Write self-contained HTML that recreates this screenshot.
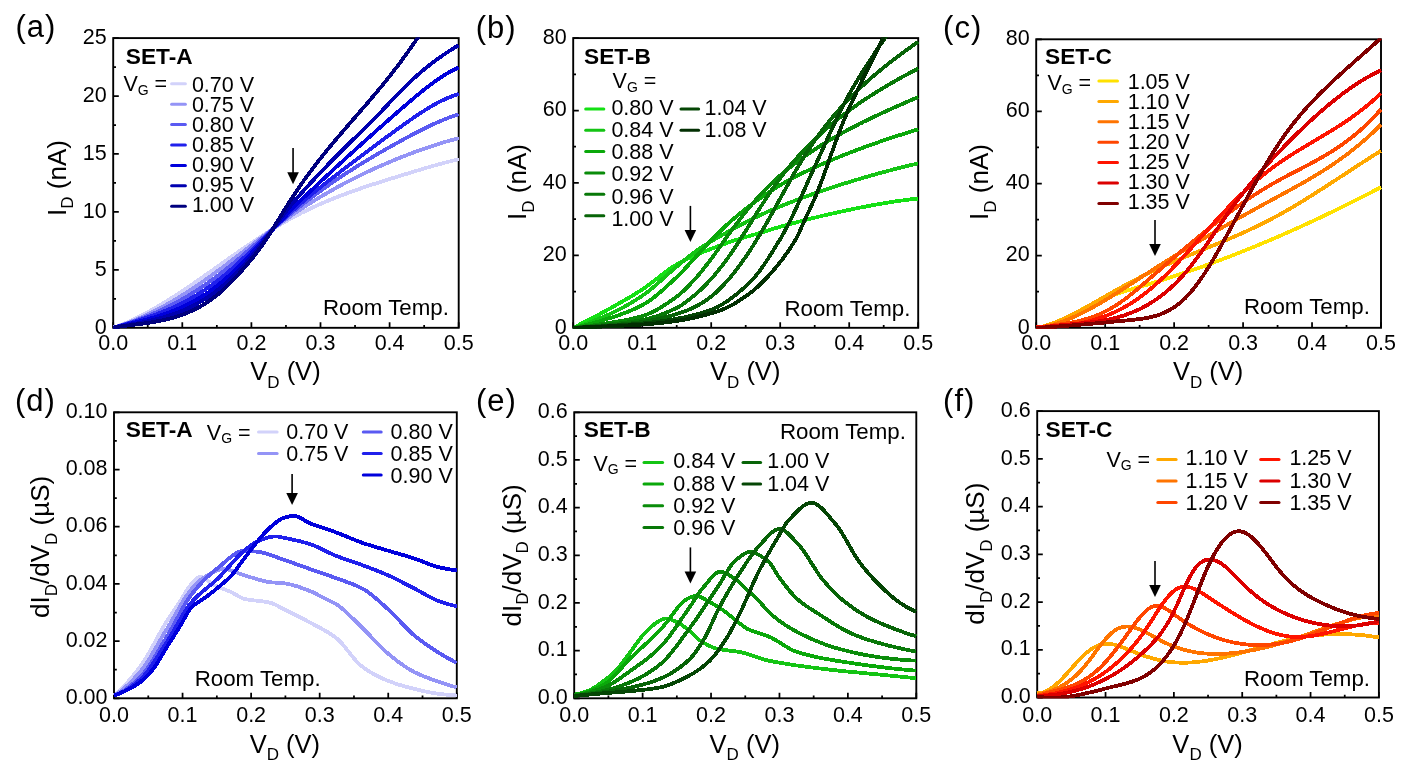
<!DOCTYPE html>
<html><head><meta charset="utf-8"><style>
html,body{margin:0;padding:0;background:#fff;width:1405px;height:768px;overflow:hidden}
svg{display:block;will-change:transform}
</style></head><body>
<svg width="1405" height="768" viewBox="0 0 1405 768" font-family='"Liberation Sans", sans-serif'>
<rect width="1405" height="768" fill="#fff"/>
<defs><clipPath id="clipa"><rect x="112.25" y="37.15" width="347.4" height="291.59999999999997"/></clipPath></defs>
<defs><clipPath id="clipb"><rect x="572.25" y="37.15" width="346.9" height="291.59999999999997"/></clipPath></defs>
<defs><clipPath id="clipc"><rect x="1035.25" y="38.349999999999994" width="346.69999999999993" height="290.4"/></clipPath></defs>
<defs><clipPath id="clipd"><rect x="113.05" y="411.35" width="344.7" height="287.8999999999999"/></clipPath></defs>
<defs><clipPath id="clipe"><rect x="573.25" y="411.35" width="343.9999999999999" height="287.8999999999999"/></clipPath></defs>
<defs><clipPath id="clipf"><rect x="1036.25" y="410.15000000000003" width="343.6" height="288.29999999999995"/></clipPath></defs>
<path d="M113.20,327.80 V322.20 M147.75,327.80 V325.00 M182.30,327.80 V322.20 M216.85,327.80 V325.00 M251.40,327.80 V322.20 M285.95,327.80 V325.00 M320.50,327.80 V322.20 M355.05,327.80 V325.00 M389.60,327.80 V322.20 M424.15,327.80 V325.00 M458.70,327.80 V322.20 M113.20,327.80 H118.80 M113.20,298.83 H116.00 M113.20,269.86 H118.80 M113.20,240.89 H116.00 M113.20,211.92 H118.80 M113.20,182.95 H116.00 M113.20,153.98 H118.80 M113.20,125.01 H116.00 M113.20,96.04 H118.80 M113.20,67.07 H116.00 M113.20,38.10 H118.80" stroke="#000" stroke-width="1.75" fill="none"/>
<rect x="113.20" y="38.10" width="345.50" height="289.70" fill="none" stroke="#000" stroke-width="1.9"/>
<path d="M573.20,327.80 V322.20 M607.70,327.80 V325.00 M642.20,327.80 V322.20 M676.70,327.80 V325.00 M711.20,327.80 V322.20 M745.70,327.80 V325.00 M780.20,327.80 V322.20 M814.70,327.80 V325.00 M849.20,327.80 V322.20 M883.70,327.80 V325.00 M918.20,327.80 V322.20 M573.20,327.80 H578.80 M573.20,291.59 H576.00 M573.20,255.38 H578.80 M573.20,219.16 H576.00 M573.20,182.95 H578.80 M573.20,146.74 H576.00 M573.20,110.53 H578.80 M573.20,74.31 H576.00 M573.20,38.10 H578.80" stroke="#000" stroke-width="1.75" fill="none"/>
<rect x="573.20" y="38.10" width="345.00" height="289.70" fill="none" stroke="#000" stroke-width="1.9"/>
<path d="M1036.20,327.80 V322.20 M1070.68,327.80 V325.00 M1105.16,327.80 V322.20 M1139.64,327.80 V325.00 M1174.12,327.80 V322.20 M1208.60,327.80 V325.00 M1243.08,327.80 V322.20 M1277.56,327.80 V325.00 M1312.04,327.80 V322.20 M1346.52,327.80 V325.00 M1381.00,327.80 V322.20 M1036.20,327.80 H1041.80 M1036.20,291.74 H1039.00 M1036.20,255.68 H1041.80 M1036.20,219.61 H1039.00 M1036.20,183.55 H1041.80 M1036.20,147.49 H1039.00 M1036.20,111.43 H1041.80 M1036.20,75.36 H1039.00 M1036.20,39.30 H1041.80" stroke="#000" stroke-width="1.75" fill="none"/>
<rect x="1036.20" y="39.30" width="344.80" height="288.50" fill="none" stroke="#000" stroke-width="1.9"/>
<path d="M114.00,698.30 V692.70 M148.28,698.30 V695.50 M182.56,698.30 V692.70 M216.84,698.30 V695.50 M251.12,698.30 V692.70 M285.40,698.30 V695.50 M319.68,698.30 V692.70 M353.96,698.30 V695.50 M388.24,698.30 V692.70 M422.52,698.30 V695.50 M456.80,698.30 V692.70 M114.00,698.30 H119.60 M114.00,669.70 H116.80 M114.00,641.10 H119.60 M114.00,612.50 H116.80 M114.00,583.90 H119.60 M114.00,555.30 H116.80 M114.00,526.70 H119.60 M114.00,498.10 H116.80 M114.00,469.50 H119.60 M114.00,440.90 H116.80 M114.00,412.30 H119.60" stroke="#000" stroke-width="1.75" fill="none"/>
<rect x="114.00" y="412.30" width="342.80" height="286.00" fill="none" stroke="#000" stroke-width="1.9"/>
<path d="M574.20,698.30 V692.70 M608.41,698.30 V695.50 M642.62,698.30 V692.70 M676.83,698.30 V695.50 M711.04,698.30 V692.70 M745.25,698.30 V695.50 M779.46,698.30 V692.70 M813.67,698.30 V695.50 M847.88,698.30 V692.70 M882.09,698.30 V695.50 M916.30,698.30 V692.70 M574.20,698.30 H579.80 M574.20,674.47 H577.00 M574.20,650.63 H579.80 M574.20,626.80 H577.00 M574.20,602.97 H579.80 M574.20,579.13 H577.00 M574.20,555.30 H579.80 M574.20,531.47 H577.00 M574.20,507.63 H579.80 M574.20,483.80 H577.00 M574.20,459.97 H579.80 M574.20,436.13 H577.00 M574.20,412.30 H579.80" stroke="#000" stroke-width="1.75" fill="none"/>
<rect x="574.20" y="412.30" width="342.10" height="286.00" fill="none" stroke="#000" stroke-width="1.9"/>
<path d="M1037.20,697.50 V691.90 M1071.37,697.50 V694.70 M1105.54,697.50 V691.90 M1139.71,697.50 V694.70 M1173.88,697.50 V691.90 M1208.05,697.50 V694.70 M1242.22,697.50 V691.90 M1276.39,697.50 V694.70 M1310.56,697.50 V691.90 M1344.73,697.50 V694.70 M1378.90,697.50 V691.90 M1037.20,697.50 H1042.80 M1037.20,673.63 H1040.00 M1037.20,649.77 H1042.80 M1037.20,625.90 H1040.00 M1037.20,602.03 H1042.80 M1037.20,578.17 H1040.00 M1037.20,554.30 H1042.80 M1037.20,530.43 H1040.00 M1037.20,506.57 H1042.80 M1037.20,482.70 H1040.00 M1037.20,458.83 H1042.80 M1037.20,434.97 H1040.00 M1037.20,411.10 H1042.80" stroke="#000" stroke-width="1.75" fill="none"/>
<rect x="1037.20" y="411.10" width="341.70" height="286.40" fill="none" stroke="#000" stroke-width="1.9"/>
<g clip-path="url(#clipa)" fill="none" stroke-width="3.8" stroke-linejoin="round" stroke-linecap="butt" shape-rendering="crispEdges">
<path d="M113.20,327.78 L114.36,327.38 L115.51,326.96 L116.67,326.54 L117.82,326.11 L118.98,325.67 L120.13,325.22 L121.29,324.76 L122.44,324.29 L123.60,323.82 L124.76,323.34 L125.91,322.85 L127.07,322.35 L128.22,321.84 L129.38,321.33 L130.53,320.80 L131.69,320.27 L132.84,319.74 L134.00,319.19 L135.15,318.64 L136.31,318.08 L137.47,317.51 L138.62,316.94 L139.78,316.36 L140.93,315.77 L142.09,315.18 L143.24,314.58 L144.40,313.97 L145.55,313.35 L146.71,312.73 L147.87,312.11 L149.02,311.48 L150.18,310.84 L151.33,310.19 L152.49,309.54 L153.64,308.89 L154.80,308.22 L155.95,307.56 L157.11,306.88 L158.27,306.21 L159.42,305.52 L160.58,304.83 L161.73,304.14 L162.89,303.44 L164.04,302.74 L165.20,302.03 L166.35,301.32 L167.51,300.60 L168.66,299.88 L169.82,299.15 L170.98,298.42 L172.13,297.69 L173.29,296.95 L174.44,296.21 L175.60,295.46 L176.75,294.71 L177.91,293.95 L179.06,293.20 L180.22,292.44 L181.38,291.67 L182.53,290.90 L183.69,290.13 L184.84,289.36 L186.00,288.58 L187.15,287.80 L188.31,287.02 L189.46,286.23 L190.62,285.45 L191.78,284.66 L192.93,283.86 L194.09,283.07 L195.24,282.27 L196.40,281.47 L197.55,280.67 L198.71,279.87 L199.86,279.06 L201.02,278.26 L202.17,277.45 L203.33,276.64 L204.49,275.83 L205.64,275.02 L206.80,274.20 L207.95,273.39 L209.11,272.57 L210.26,271.76 L211.42,270.94 L212.57,270.12 L213.73,269.30 L214.89,268.48 L216.04,267.66 L217.20,266.84 L218.35,266.02 L219.51,265.20 L220.66,264.38 L221.82,263.57 L222.97,262.75 L224.13,261.93 L225.29,261.11 L226.44,260.29 L227.60,259.47 L228.75,258.65 L229.91,257.84 L231.06,257.02 L232.22,256.21 L233.37,255.39 L234.53,254.58 L235.68,253.77 L236.84,252.96 L238.00,252.15 L239.15,251.35 L240.31,250.54 L241.46,249.74 L242.62,248.94 L243.77,248.14 L244.93,247.34 L246.08,246.55 L247.24,245.76 L248.40,244.97 L249.55,244.18 L250.71,243.39 L251.86,242.61 L253.02,241.83 L254.17,241.05 L255.33,240.28 L256.48,239.51 L257.64,238.74 L258.80,237.98 L259.95,237.22 L261.11,236.46 L262.26,235.71 L263.42,234.96 L264.57,234.21 L265.73,233.47 L266.88,232.73 L268.04,231.99 L269.19,231.26 L270.35,230.54 L271.51,229.82 L272.66,229.10 L273.82,228.39 L274.97,227.68 L276.13,226.98 L277.28,226.28 L278.44,225.58 L279.59,224.90 L280.75,224.21 L281.91,223.54 L283.06,222.86 L284.22,222.20 L285.37,221.53 L286.53,220.88 L287.68,220.23 L288.84,219.58 L289.99,218.95 L291.15,218.31 L292.31,217.69 L293.46,217.06 L294.62,216.45 L295.77,215.84 L296.93,215.23 L298.08,214.63 L299.24,214.04 L300.39,213.45 L301.55,212.86 L302.71,212.28 L303.86,211.71 L305.02,211.14 L306.17,210.57 L307.33,210.01 L308.48,209.46 L309.64,208.91 L310.79,208.36 L311.95,207.82 L313.10,207.28 L314.26,206.75 L315.42,206.22 L316.57,205.70 L317.73,205.18 L318.88,204.67 L320.04,204.16 L321.19,203.65 L322.35,203.15 L323.50,202.65 L324.66,202.16 L325.82,201.67 L326.97,201.18 L328.13,200.70 L329.28,200.22 L330.44,199.74 L331.59,199.27 L332.75,198.81 L333.90,198.34 L335.06,197.88 L336.22,197.42 L337.37,196.97 L338.53,196.52 L339.68,196.07 L340.84,195.63 L341.99,195.19 L343.15,194.75 L344.30,194.32 L345.46,193.88 L346.61,193.45 L347.77,193.03 L348.93,192.61 L350.08,192.19 L351.24,191.77 L352.39,191.35 L353.55,190.94 L354.70,190.53 L355.86,190.12 L357.01,189.72 L358.17,189.31 L359.33,188.91 L360.48,188.52 L361.64,188.12 L362.79,187.73 L363.95,187.33 L365.10,186.95 L366.26,186.56 L367.41,186.17 L368.57,185.79 L369.73,185.41 L370.88,185.02 L372.04,184.65 L373.19,184.27 L374.35,183.89 L375.50,183.52 L376.66,183.15 L377.81,182.78 L378.97,182.41 L380.12,182.04 L381.28,181.67 L382.44,181.30 L383.59,180.94 L384.75,180.57 L385.90,180.21 L387.06,179.85 L388.21,179.49 L389.37,179.13 L390.52,178.77 L391.68,178.41 L392.84,178.05 L393.99,177.69 L395.15,177.33 L396.30,176.98 L397.46,176.62 L398.61,176.27 L399.77,175.91 L400.92,175.56 L402.08,175.20 L403.24,174.85 L404.39,174.49 L405.55,174.14 L406.70,173.78 L407.86,173.43 L409.01,173.07 L410.17,172.72 L411.32,172.37 L412.48,172.02 L413.63,171.66 L414.79,171.31 L415.95,170.96 L417.10,170.62 L418.26,170.27 L419.41,169.92 L420.57,169.57 L421.72,169.23 L422.88,168.89 L424.03,168.54 L425.19,168.20 L426.35,167.86 L427.50,167.53 L428.66,167.19 L429.81,166.86 L430.97,166.52 L432.12,166.19 L433.28,165.86 L434.43,165.54 L435.59,165.21 L436.75,164.89 L437.90,164.57 L439.06,164.25 L440.21,163.93 L441.37,163.62 L442.52,163.31 L443.68,163.00 L444.83,162.69 L445.99,162.39 L447.14,162.08 L448.30,161.79 L449.46,161.49 L450.61,161.20 L451.77,160.91 L452.92,160.62 L454.08,160.34 L455.23,160.06 L456.39,159.78 L457.54,159.50 L458.70,159.23" stroke="#d2d2fa"/>
<path d="M113.20,327.51 L114.36,327.19 L115.51,326.85 L116.67,326.51 L117.82,326.16 L118.98,325.80 L120.13,325.44 L121.29,325.06 L122.44,324.68 L123.60,324.29 L124.76,323.89 L125.91,323.48 L127.07,323.07 L128.22,322.64 L129.38,322.21 L130.53,321.78 L131.69,321.33 L132.84,320.88 L134.00,320.42 L135.15,319.95 L136.31,319.47 L137.47,318.99 L138.62,318.50 L139.78,318.00 L140.93,317.50 L142.09,316.99 L143.24,316.47 L144.40,315.95 L145.55,315.41 L146.71,314.87 L147.87,314.33 L149.02,313.78 L150.18,313.22 L151.33,312.65 L152.49,312.08 L153.64,311.50 L154.80,310.91 L155.95,310.32 L157.11,309.72 L158.27,309.12 L159.42,308.51 L160.58,307.89 L161.73,307.27 L162.89,306.64 L164.04,306.00 L165.20,305.36 L166.35,304.72 L167.51,304.06 L168.66,303.41 L169.82,302.74 L170.98,302.07 L172.13,301.40 L173.29,300.72 L174.44,300.03 L175.60,299.34 L176.75,298.64 L177.91,297.94 L179.06,297.23 L180.22,296.52 L181.38,295.80 L182.53,295.08 L183.69,294.35 L184.84,293.62 L186.00,292.88 L187.15,292.14 L188.31,291.39 L189.46,290.64 L190.62,289.88 L191.78,289.12 L192.93,288.36 L194.09,287.59 L195.24,286.81 L196.40,286.03 L197.55,285.25 L198.71,284.46 L199.86,283.67 L201.02,282.88 L202.17,282.08 L203.33,281.27 L204.49,280.46 L205.64,279.65 L206.80,278.84 L207.95,278.02 L209.11,277.19 L210.26,276.37 L211.42,275.54 L212.57,274.70 L213.73,273.87 L214.89,273.03 L216.04,272.18 L217.20,271.33 L218.35,270.48 L219.51,269.63 L220.66,268.77 L221.82,267.91 L222.97,267.05 L224.13,266.18 L225.29,265.31 L226.44,264.44 L227.60,263.57 L228.75,262.69 L229.91,261.82 L231.06,260.94 L232.22,260.06 L233.37,259.17 L234.53,258.29 L235.68,257.40 L236.84,256.51 L238.00,255.62 L239.15,254.74 L240.31,253.84 L241.46,252.95 L242.62,252.06 L243.77,251.17 L244.93,250.27 L246.08,249.38 L247.24,248.49 L248.40,247.59 L249.55,246.70 L250.71,245.81 L251.86,244.91 L253.02,244.02 L254.17,243.13 L255.33,242.24 L256.48,241.35 L257.64,240.46 L258.80,239.57 L259.95,238.69 L261.11,237.80 L262.26,236.92 L263.42,236.04 L264.57,235.16 L265.73,234.28 L266.88,233.41 L268.04,232.53 L269.19,231.66 L270.35,230.79 L271.51,229.93 L272.66,229.07 L273.82,228.21 L274.97,227.35 L276.13,226.50 L277.28,225.65 L278.44,224.80 L279.59,223.96 L280.75,223.12 L281.91,222.28 L283.06,221.45 L284.22,220.62 L285.37,219.80 L286.53,218.98 L287.68,218.16 L288.84,217.35 L289.99,216.55 L291.15,215.75 L292.31,214.95 L293.46,214.16 L294.62,213.37 L295.77,212.59 L296.93,211.81 L298.08,211.04 L299.24,210.27 L300.39,209.50 L301.55,208.74 L302.71,207.98 L303.86,207.23 L305.02,206.48 L306.17,205.74 L307.33,205.00 L308.48,204.26 L309.64,203.53 L310.79,202.80 L311.95,202.08 L313.10,201.36 L314.26,200.65 L315.42,199.94 L316.57,199.23 L317.73,198.53 L318.88,197.83 L320.04,197.13 L321.19,196.44 L322.35,195.76 L323.50,195.07 L324.66,194.39 L325.82,193.72 L326.97,193.05 L328.13,192.38 L329.28,191.72 L330.44,191.06 L331.59,190.40 L332.75,189.75 L333.90,189.10 L335.06,188.46 L336.22,187.82 L337.37,187.18 L338.53,186.55 L339.68,185.92 L340.84,185.30 L341.99,184.67 L343.15,184.06 L344.30,183.44 L345.46,182.83 L346.61,182.22 L347.77,181.62 L348.93,181.02 L350.08,180.42 L351.24,179.83 L352.39,179.24 L353.55,178.65 L354.70,178.07 L355.86,177.49 L357.01,176.92 L358.17,176.34 L359.33,175.77 L360.48,175.21 L361.64,174.64 L362.79,174.09 L363.95,173.53 L365.10,172.98 L366.26,172.43 L367.41,171.88 L368.57,171.34 L369.73,170.80 L370.88,170.26 L372.04,169.73 L373.19,169.20 L374.35,168.67 L375.50,168.14 L376.66,167.62 L377.81,167.11 L378.97,166.59 L380.12,166.08 L381.28,165.57 L382.44,165.06 L383.59,164.56 L384.75,164.06 L385.90,163.56 L387.06,163.07 L388.21,162.58 L389.37,162.09 L390.52,161.60 L391.68,161.12 L392.84,160.64 L393.99,160.16 L395.15,159.69 L396.30,159.22 L397.46,158.75 L398.61,158.28 L399.77,157.82 L400.92,157.35 L402.08,156.90 L403.24,156.44 L404.39,155.99 L405.55,155.54 L406.70,155.09 L407.86,154.64 L409.01,154.20 L410.17,153.76 L411.32,153.32 L412.48,152.89 L413.63,152.46 L414.79,152.03 L415.95,151.61 L417.10,151.18 L418.26,150.76 L419.41,150.35 L420.57,149.93 L421.72,149.52 L422.88,149.12 L424.03,148.71 L425.19,148.31 L426.35,147.91 L427.50,147.52 L428.66,147.13 L429.81,146.74 L430.97,146.36 L432.12,145.97 L433.28,145.60 L434.43,145.22 L435.59,144.85 L436.75,144.48 L437.90,144.12 L439.06,143.76 L440.21,143.40 L441.37,143.05 L442.52,142.70 L443.68,142.35 L444.83,142.01 L445.99,141.67 L447.14,141.34 L448.30,141.00 L449.46,140.68 L450.61,140.35 L451.77,140.03 L452.92,139.72 L454.08,139.41 L455.23,139.10 L456.39,138.79 L457.54,138.49 L458.70,138.20" stroke="#9494f6"/>
<path d="M113.20,327.57 L114.36,327.26 L115.51,326.94 L116.67,326.62 L117.82,326.29 L118.98,325.95 L120.13,325.62 L121.29,325.27 L122.44,324.92 L123.60,324.57 L124.76,324.21 L125.91,323.85 L127.07,323.48 L128.22,323.10 L129.38,322.72 L130.53,322.34 L131.69,321.94 L132.84,321.55 L134.00,321.15 L135.15,320.74 L136.31,320.33 L137.47,319.91 L138.62,319.49 L139.78,319.06 L140.93,318.62 L142.09,318.18 L143.24,317.74 L144.40,317.28 L145.55,316.83 L146.71,316.36 L147.87,315.90 L149.02,315.42 L150.18,314.94 L151.33,314.46 L152.49,313.96 L153.64,313.47 L154.80,312.96 L155.95,312.45 L157.11,311.94 L158.27,311.41 L159.42,310.89 L160.58,310.35 L161.73,309.81 L162.89,309.27 L164.04,308.72 L165.20,308.16 L166.35,307.59 L167.51,307.02 L168.66,306.44 L169.82,305.86 L170.98,305.27 L172.13,304.68 L173.29,304.07 L174.44,303.47 L175.60,302.85 L176.75,302.23 L177.91,301.60 L179.06,300.97 L180.22,300.32 L181.38,299.68 L182.53,299.02 L183.69,298.36 L184.84,297.69 L186.00,297.02 L187.15,296.34 L188.31,295.65 L189.46,294.96 L190.62,294.26 L191.78,293.55 L192.93,292.83 L194.09,292.11 L195.24,291.38 L196.40,290.65 L197.55,289.90 L198.71,289.15 L199.86,288.40 L201.02,287.63 L202.17,286.86 L203.33,286.08 L204.49,285.30 L205.64,284.51 L206.80,283.71 L207.95,282.90 L209.11,282.09 L210.26,281.26 L211.42,280.44 L212.57,279.60 L213.73,278.76 L214.89,277.91 L216.04,277.05 L217.20,276.18 L218.35,275.31 L219.51,274.43 L220.66,273.54 L221.82,272.64 L222.97,271.74 L224.13,270.83 L225.29,269.92 L226.44,268.99 L227.60,268.06 L228.75,267.13 L229.91,266.19 L231.06,265.24 L232.22,264.29 L233.37,263.33 L234.53,262.36 L235.68,261.40 L236.84,260.42 L238.00,259.45 L239.15,258.47 L240.31,257.48 L241.46,256.49 L242.62,255.50 L243.77,254.50 L244.93,253.50 L246.08,252.50 L247.24,251.50 L248.40,250.49 L249.55,249.48 L250.71,248.47 L251.86,247.46 L253.02,246.44 L254.17,245.43 L255.33,244.41 L256.48,243.39 L257.64,242.37 L258.80,241.35 L259.95,240.33 L261.11,239.31 L262.26,238.29 L263.42,237.27 L264.57,236.25 L265.73,235.23 L266.88,234.22 L268.04,233.20 L269.19,232.19 L270.35,231.17 L271.51,230.16 L272.66,229.15 L273.82,228.15 L274.97,227.14 L276.13,226.14 L277.28,225.14 L278.44,224.15 L279.59,223.16 L280.75,222.17 L281.91,221.18 L283.06,220.20 L284.22,219.23 L285.37,218.25 L286.53,217.29 L287.68,216.32 L288.84,215.37 L289.99,214.41 L291.15,213.47 L292.31,212.52 L293.46,211.58 L294.62,210.65 L295.77,209.72 L296.93,208.80 L298.08,207.88 L299.24,206.97 L300.39,206.06 L301.55,205.15 L302.71,204.25 L303.86,203.35 L305.02,202.46 L306.17,201.57 L307.33,200.69 L308.48,199.81 L309.64,198.94 L310.79,198.07 L311.95,197.20 L313.10,196.34 L314.26,195.48 L315.42,194.63 L316.57,193.78 L317.73,192.93 L318.88,192.09 L320.04,191.26 L321.19,190.42 L322.35,189.60 L323.50,188.77 L324.66,187.95 L325.82,187.13 L326.97,186.32 L328.13,185.51 L329.28,184.70 L330.44,183.90 L331.59,183.10 L332.75,182.31 L333.90,181.52 L335.06,180.73 L336.22,179.95 L337.37,179.17 L338.53,178.39 L339.68,177.62 L340.84,176.85 L341.99,176.08 L343.15,175.32 L344.30,174.56 L345.46,173.81 L346.61,173.05 L347.77,172.30 L348.93,171.56 L350.08,170.81 L351.24,170.07 L352.39,169.34 L353.55,168.60 L354.70,167.87 L355.86,167.15 L357.01,166.42 L358.17,165.70 L359.33,164.98 L360.48,164.27 L361.64,163.55 L362.79,162.84 L363.95,162.14 L365.10,161.43 L366.26,160.73 L367.41,160.03 L368.57,159.34 L369.73,158.64 L370.88,157.95 L372.04,157.26 L373.19,156.58 L374.35,155.89 L375.50,155.21 L376.66,154.53 L377.81,153.86 L378.97,153.18 L380.12,152.51 L381.28,151.84 L382.44,151.18 L383.59,150.51 L384.75,149.85 L385.90,149.19 L387.06,148.53 L388.21,147.88 L389.37,147.23 L390.52,146.57 L391.68,145.92 L392.84,145.28 L393.99,144.63 L395.15,143.99 L396.30,143.35 L397.46,142.71 L398.61,142.07 L399.77,141.43 L400.92,140.80 L402.08,140.16 L403.24,139.53 L404.39,138.90 L405.55,138.28 L406.70,137.65 L407.86,137.03 L409.01,136.41 L410.17,135.79 L411.32,135.17 L412.48,134.56 L413.63,133.95 L414.79,133.35 L415.95,132.74 L417.10,132.14 L418.26,131.55 L419.41,130.96 L420.57,130.37 L421.72,129.78 L422.88,129.20 L424.03,128.63 L425.19,128.06 L426.35,127.49 L427.50,126.93 L428.66,126.38 L429.81,125.83 L430.97,125.28 L432.12,124.74 L433.28,124.21 L434.43,123.68 L435.59,123.16 L436.75,122.65 L437.90,122.14 L439.06,121.64 L440.21,121.15 L441.37,120.66 L442.52,120.18 L443.68,119.71 L444.83,119.24 L445.99,118.78 L447.14,118.33 L448.30,117.89 L449.46,117.46 L450.61,117.03 L451.77,116.61 L452.92,116.21 L454.08,115.81 L455.23,115.42 L456.39,115.03 L457.54,114.66 L458.70,114.30" stroke="#5a5af2"/>
<path d="M113.20,327.70 L114.36,327.39 L115.51,327.07 L116.67,326.76 L117.82,326.44 L118.98,326.12 L120.13,325.80 L121.29,325.48 L122.44,325.16 L123.60,324.83 L124.76,324.51 L125.91,324.18 L127.07,323.85 L128.22,323.51 L129.38,323.18 L130.53,322.84 L131.69,322.50 L132.84,322.15 L134.00,321.80 L135.15,321.45 L136.31,321.10 L137.47,320.74 L138.62,320.38 L139.78,320.02 L140.93,319.65 L142.09,319.28 L143.24,318.90 L144.40,318.52 L145.55,318.14 L146.71,317.75 L147.87,317.36 L149.02,316.96 L150.18,316.56 L151.33,316.15 L152.49,315.74 L153.64,315.33 L154.80,314.90 L155.95,314.48 L157.11,314.04 L158.27,313.61 L159.42,313.16 L160.58,312.71 L161.73,312.26 L162.89,311.80 L164.04,311.33 L165.20,310.85 L166.35,310.37 L167.51,309.89 L168.66,309.39 L169.82,308.89 L170.98,308.39 L172.13,307.87 L173.29,307.35 L174.44,306.82 L175.60,306.29 L176.75,305.75 L177.91,305.19 L179.06,304.64 L180.22,304.07 L181.38,303.50 L182.53,302.91 L183.69,302.32 L184.84,301.72 L186.00,301.12 L187.15,300.50 L188.31,299.88 L189.46,299.24 L190.62,298.60 L191.78,297.95 L192.93,297.29 L194.09,296.62 L195.24,295.94 L196.40,295.25 L197.55,294.55 L198.71,293.84 L199.86,293.12 L201.02,292.39 L202.17,291.66 L203.33,290.91 L204.49,290.15 L205.64,289.38 L206.80,288.60 L207.95,287.81 L209.11,287.00 L210.26,286.19 L211.42,285.37 L212.57,284.53 L213.73,283.68 L214.89,282.82 L216.04,281.95 L217.20,281.07 L218.35,280.18 L219.51,279.27 L220.66,278.35 L221.82,277.42 L222.97,276.48 L224.13,275.53 L225.29,274.57 L226.44,273.59 L227.60,272.61 L228.75,271.61 L229.91,270.61 L231.06,269.59 L232.22,268.57 L233.37,267.54 L234.53,266.49 L235.68,265.44 L236.84,264.39 L238.00,263.32 L239.15,262.25 L240.31,261.17 L241.46,260.09 L242.62,258.99 L243.77,257.90 L244.93,256.79 L246.08,255.68 L247.24,254.57 L248.40,253.45 L249.55,252.33 L250.71,251.20 L251.86,250.07 L253.02,248.94 L254.17,247.80 L255.33,246.66 L256.48,245.51 L257.64,244.37 L258.80,243.22 L259.95,242.07 L261.11,240.92 L262.26,239.77 L263.42,238.62 L264.57,237.47 L265.73,236.32 L266.88,235.17 L268.04,234.02 L269.19,232.87 L270.35,231.73 L271.51,230.58 L272.66,229.45 L273.82,228.31 L274.97,227.18 L276.13,226.05 L277.28,224.93 L278.44,223.81 L279.59,222.70 L280.75,221.59 L281.91,220.49 L283.06,219.39 L284.22,218.31 L285.37,217.22 L286.53,216.15 L287.68,215.08 L288.84,214.02 L289.99,212.96 L291.15,211.92 L292.31,210.88 L293.46,209.84 L294.62,208.81 L295.77,207.79 L296.93,206.78 L298.08,205.77 L299.24,204.76 L300.39,203.76 L301.55,202.77 L302.71,201.78 L303.86,200.80 L305.02,199.82 L306.17,198.85 L307.33,197.89 L308.48,196.92 L309.64,195.97 L310.79,195.01 L311.95,194.06 L313.10,193.12 L314.26,192.18 L315.42,191.24 L316.57,190.31 L317.73,189.38 L318.88,188.45 L320.04,187.53 L321.19,186.61 L322.35,185.70 L323.50,184.78 L324.66,183.87 L325.82,182.97 L326.97,182.06 L328.13,181.16 L329.28,180.26 L330.44,179.36 L331.59,178.47 L332.75,177.57 L333.90,176.68 L335.06,175.79 L336.22,174.90 L337.37,174.01 L338.53,173.12 L339.68,172.24 L340.84,171.35 L341.99,170.47 L343.15,169.58 L344.30,168.70 L345.46,167.82 L346.61,166.94 L347.77,166.06 L348.93,165.18 L350.08,164.30 L351.24,163.42 L352.39,162.55 L353.55,161.67 L354.70,160.79 L355.86,159.92 L357.01,159.05 L358.17,158.17 L359.33,157.30 L360.48,156.43 L361.64,155.56 L362.79,154.69 L363.95,153.83 L365.10,152.96 L366.26,152.09 L367.41,151.23 L368.57,150.36 L369.73,149.50 L370.88,148.64 L372.04,147.78 L373.19,146.92 L374.35,146.06 L375.50,145.21 L376.66,144.35 L377.81,143.50 L378.97,142.64 L380.12,141.79 L381.28,140.94 L382.44,140.09 L383.59,139.24 L384.75,138.39 L385.90,137.55 L387.06,136.70 L388.21,135.86 L389.37,135.02 L390.52,134.18 L391.68,133.34 L392.84,132.50 L393.99,131.66 L395.15,130.83 L396.30,129.99 L397.46,129.16 L398.61,128.33 L399.77,127.50 L400.92,126.67 L402.08,125.85 L403.24,125.02 L404.39,124.20 L405.55,123.38 L406.70,122.56 L407.86,121.74 L409.01,120.93 L410.17,120.12 L411.32,119.31 L412.48,118.51 L413.63,117.71 L414.79,116.92 L415.95,116.13 L417.10,115.35 L418.26,114.58 L419.41,113.81 L420.57,113.05 L421.72,112.29 L422.88,111.54 L424.03,110.80 L425.19,110.07 L426.35,109.35 L427.50,108.64 L428.66,107.93 L429.81,107.24 L430.97,106.55 L432.12,105.88 L433.28,105.21 L434.43,104.56 L435.59,103.92 L436.75,103.29 L437.90,102.68 L439.06,102.08 L440.21,101.49 L441.37,100.91 L442.52,100.35 L443.68,99.80 L444.83,99.26 L445.99,98.74 L447.14,98.24 L448.30,97.75 L449.46,97.28 L450.61,96.83 L451.77,96.39 L452.92,95.97 L454.08,95.56 L455.23,95.18 L456.39,94.81 L457.54,94.46 L458.70,94.13" stroke="#2020ec"/>
<path d="M113.20,327.72 L114.36,327.44 L115.51,327.16 L116.67,326.88 L117.82,326.61 L118.98,326.33 L120.13,326.05 L121.29,325.78 L122.44,325.50 L123.60,325.23 L124.76,324.95 L125.91,324.67 L127.07,324.40 L128.22,324.12 L129.38,323.84 L130.53,323.56 L131.69,323.28 L132.84,323.00 L134.00,322.72 L135.15,322.43 L136.31,322.14 L137.47,321.85 L138.62,321.56 L139.78,321.27 L140.93,320.97 L142.09,320.67 L143.24,320.36 L144.40,320.06 L145.55,319.75 L146.71,319.43 L147.87,319.11 L149.02,318.79 L150.18,318.46 L151.33,318.13 L152.49,317.80 L153.64,317.46 L154.80,317.11 L155.95,316.76 L157.11,316.40 L158.27,316.04 L159.42,315.67 L160.58,315.30 L161.73,314.92 L162.89,314.53 L164.04,314.14 L165.20,313.74 L166.35,313.33 L167.51,312.92 L168.66,312.50 L169.82,312.07 L170.98,311.64 L172.13,311.19 L173.29,310.74 L174.44,310.28 L175.60,309.81 L176.75,309.33 L177.91,308.85 L179.06,308.35 L180.22,307.85 L181.38,307.34 L182.53,306.81 L183.69,306.28 L184.84,305.74 L186.00,305.19 L187.15,304.62 L188.31,304.05 L189.46,303.47 L190.62,302.87 L191.78,302.27 L192.93,301.65 L194.09,301.02 L195.24,300.38 L196.40,299.73 L197.55,299.07 L198.71,298.39 L199.86,297.70 L201.02,297.00 L202.17,296.29 L203.33,295.56 L204.49,294.82 L205.64,294.07 L206.80,293.30 L207.95,292.52 L209.11,291.73 L210.26,290.92 L211.42,290.10 L212.57,289.26 L213.73,288.41 L214.89,287.55 L216.04,286.67 L217.20,285.77 L218.35,284.86 L219.51,283.93 L220.66,282.99 L221.82,282.03 L222.97,281.06 L224.13,280.07 L225.29,279.07 L226.44,278.05 L227.60,277.02 L228.75,275.98 L229.91,274.92 L231.06,273.85 L232.22,272.77 L233.37,271.67 L234.53,270.57 L235.68,269.45 L236.84,268.32 L238.00,267.18 L239.15,266.03 L240.31,264.87 L241.46,263.70 L242.62,262.53 L243.77,261.34 L244.93,260.14 L246.08,258.94 L247.24,257.72 L248.40,256.51 L249.55,255.28 L250.71,254.04 L251.86,252.80 L253.02,251.56 L254.17,250.31 L255.33,249.05 L256.48,247.78 L257.64,246.52 L258.80,245.25 L259.95,243.97 L261.11,242.69 L262.26,241.41 L263.42,240.12 L264.57,238.83 L265.73,237.54 L266.88,236.25 L268.04,234.96 L269.19,233.67 L270.35,232.38 L271.51,231.10 L272.66,229.81 L273.82,228.53 L274.97,227.26 L276.13,225.98 L277.28,224.72 L278.44,223.46 L279.59,222.20 L280.75,220.95 L281.91,219.71 L283.06,218.47 L284.22,217.24 L285.37,216.02 L286.53,214.80 L287.68,213.59 L288.84,212.40 L289.99,211.21 L291.15,210.02 L292.31,208.85 L293.46,207.68 L294.62,206.52 L295.77,205.36 L296.93,204.21 L298.08,203.07 L299.24,201.93 L300.39,200.80 L301.55,199.67 L302.71,198.55 L303.86,197.43 L305.02,196.32 L306.17,195.21 L307.33,194.11 L308.48,193.00 L309.64,191.91 L310.79,190.81 L311.95,189.72 L313.10,188.63 L314.26,187.54 L315.42,186.46 L316.57,185.37 L317.73,184.29 L318.88,183.21 L320.04,182.13 L321.19,181.05 L322.35,179.97 L323.50,178.89 L324.66,177.81 L325.82,176.74 L326.97,175.66 L328.13,174.59 L329.28,173.52 L330.44,172.45 L331.59,171.38 L332.75,170.31 L333.90,169.24 L335.06,168.17 L336.22,167.11 L337.37,166.04 L338.53,164.98 L339.68,163.92 L340.84,162.86 L341.99,161.79 L343.15,160.74 L344.30,159.68 L345.46,158.62 L346.61,157.56 L347.77,156.51 L348.93,155.45 L350.08,154.40 L351.24,153.35 L352.39,152.30 L353.55,151.25 L354.70,150.20 L355.86,149.15 L357.01,148.11 L358.17,147.06 L359.33,146.02 L360.48,144.97 L361.64,143.93 L362.79,142.89 L363.95,141.85 L365.10,140.81 L366.26,139.77 L367.41,138.74 L368.57,137.70 L369.73,136.67 L370.88,135.64 L372.04,134.60 L373.19,133.57 L374.35,132.54 L375.50,131.51 L376.66,130.48 L377.81,129.46 L378.97,128.43 L380.12,127.41 L381.28,126.38 L382.44,125.36 L383.59,124.34 L384.75,123.32 L385.90,122.30 L387.06,121.28 L388.21,120.27 L389.37,119.25 L390.52,118.24 L391.68,117.22 L392.84,116.21 L393.99,115.20 L395.15,114.19 L396.30,113.18 L397.46,112.17 L398.61,111.16 L399.77,110.16 L400.92,109.15 L402.08,108.15 L403.24,107.15 L404.39,106.15 L405.55,105.15 L406.70,104.15 L407.86,103.15 L409.01,102.16 L410.17,101.17 L411.32,100.19 L412.48,99.20 L413.63,98.23 L414.79,97.25 L415.95,96.29 L417.10,95.32 L418.26,94.37 L419.41,93.42 L420.57,92.47 L421.72,91.53 L422.88,90.60 L424.03,89.68 L425.19,88.77 L426.35,87.86 L427.50,86.97 L428.66,86.08 L429.81,85.20 L430.97,84.34 L432.12,83.48 L433.28,82.63 L434.43,81.80 L435.59,80.98 L436.75,80.16 L437.90,79.37 L439.06,78.58 L440.21,77.81 L441.37,77.05 L442.52,76.30 L443.68,75.57 L444.83,74.86 L445.99,74.15 L447.14,73.47 L448.30,72.80 L449.46,72.15 L450.61,71.51 L451.77,70.89 L452.92,70.29 L454.08,69.70 L455.23,69.14 L456.39,68.59 L457.54,68.06 L458.70,67.55" stroke="#0000dc"/>
<path d="M113.20,327.65 L114.36,327.44 L115.51,327.23 L116.67,327.03 L117.82,326.82 L118.98,326.61 L120.13,326.41 L121.29,326.20 L122.44,326.00 L123.60,325.80 L124.76,325.59 L125.91,325.39 L127.07,325.18 L128.22,324.98 L129.38,324.77 L130.53,324.56 L131.69,324.35 L132.84,324.14 L134.00,323.93 L135.15,323.71 L136.31,323.50 L137.47,323.28 L138.62,323.06 L139.78,322.83 L140.93,322.60 L142.09,322.37 L143.24,322.14 L144.40,321.90 L145.55,321.66 L146.71,321.41 L147.87,321.16 L149.02,320.91 L150.18,320.65 L151.33,320.38 L152.49,320.11 L153.64,319.84 L154.80,319.56 L155.95,319.27 L157.11,318.98 L158.27,318.68 L159.42,318.38 L160.58,318.07 L161.73,317.75 L162.89,317.42 L164.04,317.09 L165.20,316.75 L166.35,316.40 L167.51,316.05 L168.66,315.68 L169.82,315.31 L170.98,314.93 L172.13,314.54 L173.29,314.15 L174.44,313.74 L175.60,313.32 L176.75,312.90 L177.91,312.46 L179.06,312.02 L180.22,311.56 L181.38,311.10 L182.53,310.62 L183.69,310.13 L184.84,309.63 L186.00,309.12 L187.15,308.60 L188.31,308.07 L189.46,307.53 L190.62,306.97 L191.78,306.40 L192.93,305.82 L194.09,305.23 L195.24,304.62 L196.40,304.00 L197.55,303.37 L198.71,302.72 L199.86,302.06 L201.02,301.39 L202.17,300.70 L203.33,300.00 L204.49,299.28 L205.64,298.55 L206.80,297.80 L207.95,297.04 L209.11,296.26 L210.26,295.47 L211.42,294.66 L212.57,293.84 L213.73,293.00 L214.89,292.14 L216.04,291.27 L217.20,290.38 L218.35,289.47 L219.51,288.54 L220.66,287.60 L221.82,286.64 L222.97,285.66 L224.13,284.67 L225.29,283.66 L226.44,282.63 L227.60,281.58 L228.75,280.52 L229.91,279.44 L231.06,278.35 L232.22,277.24 L233.37,276.11 L234.53,274.96 L235.68,273.80 L236.84,272.63 L238.00,271.44 L239.15,270.23 L240.31,269.01 L241.46,267.77 L242.62,266.52 L243.77,265.25 L244.93,263.96 L246.08,262.67 L247.24,261.35 L248.40,260.03 L249.55,258.68 L250.71,257.33 L251.86,255.96 L253.02,254.57 L254.17,253.18 L255.33,251.76 L256.48,250.34 L257.64,248.90 L258.80,247.45 L259.95,245.98 L261.11,244.50 L262.26,243.01 L263.42,241.50 L264.57,239.99 L265.73,238.46 L266.88,236.93 L268.04,235.39 L269.19,233.84 L270.35,232.29 L271.51,230.74 L272.66,229.18 L273.82,227.63 L274.97,226.07 L276.13,224.52 L277.28,222.98 L278.44,221.44 L279.59,219.90 L280.75,218.38 L281.91,216.86 L283.06,215.35 L284.22,213.85 L285.37,212.37 L286.53,210.90 L287.68,209.44 L288.84,208.00 L289.99,206.57 L291.15,205.16 L292.31,203.76 L293.46,202.37 L294.62,201.00 L295.77,199.63 L296.93,198.28 L298.08,196.94 L299.24,195.61 L300.39,194.29 L301.55,192.98 L302.71,191.68 L303.86,190.39 L305.02,189.11 L306.17,187.83 L307.33,186.56 L308.48,185.30 L309.64,184.05 L310.79,182.80 L311.95,181.56 L313.10,180.32 L314.26,179.09 L315.42,177.86 L316.57,176.63 L317.73,175.41 L318.88,174.19 L320.04,172.98 L321.19,171.76 L322.35,170.55 L323.50,169.34 L324.66,168.14 L325.82,166.94 L326.97,165.74 L328.13,164.54 L329.28,163.35 L330.44,162.16 L331.59,160.98 L332.75,159.80 L333.90,158.62 L335.06,157.44 L336.22,156.27 L337.37,155.10 L338.53,153.94 L339.68,152.78 L340.84,151.63 L341.99,150.48 L343.15,149.33 L344.30,148.19 L345.46,147.05 L346.61,145.91 L347.77,144.77 L348.93,143.64 L350.08,142.51 L351.24,141.38 L352.39,140.25 L353.55,139.13 L354.70,138.00 L355.86,136.88 L357.01,135.75 L358.17,134.62 L359.33,133.49 L360.48,132.37 L361.64,131.24 L362.79,130.10 L363.95,128.97 L365.10,127.83 L366.26,126.69 L367.41,125.55 L368.57,124.40 L369.73,123.25 L370.88,122.10 L372.04,120.94 L373.19,119.77 L374.35,118.60 L375.50,117.43 L376.66,116.24 L377.81,115.06 L378.97,113.86 L380.12,112.66 L381.28,111.45 L382.44,110.24 L383.59,109.02 L384.75,107.80 L385.90,106.58 L387.06,105.35 L388.21,104.13 L389.37,102.90 L390.52,101.68 L391.68,100.45 L392.84,99.23 L393.99,98.01 L395.15,96.80 L396.30,95.59 L397.46,94.39 L398.61,93.20 L399.77,92.01 L400.92,90.83 L402.08,89.66 L403.24,88.50 L404.39,87.36 L405.55,86.22 L406.70,85.10 L407.86,83.98 L409.01,82.88 L410.17,81.79 L411.32,80.71 L412.48,79.64 L413.63,78.58 L414.79,77.53 L415.95,76.49 L417.10,75.47 L418.26,74.45 L419.41,73.44 L420.57,72.45 L421.72,71.46 L422.88,70.49 L424.03,69.53 L425.19,68.57 L426.35,67.63 L427.50,66.70 L428.66,65.78 L429.81,64.86 L430.97,63.96 L432.12,63.07 L433.28,62.19 L434.43,61.32 L435.59,60.45 L436.75,59.60 L437.90,58.76 L439.06,57.93 L440.21,57.11 L441.37,56.29 L442.52,55.49 L443.68,54.70 L444.83,53.92 L445.99,53.14 L447.14,52.38 L448.30,51.62 L449.46,50.88 L450.61,50.14 L451.77,49.42 L452.92,48.70 L454.08,47.99 L455.23,47.29 L456.39,46.60 L457.54,45.92 L458.70,45.25" stroke="#0000b0"/>
<path d="M113.20,327.67 L114.36,327.48 L115.51,327.30 L116.67,327.11 L117.82,326.93 L118.98,326.76 L120.13,326.59 L121.29,326.42 L122.44,326.26 L123.60,326.10 L124.76,325.94 L125.91,325.78 L127.07,325.63 L128.22,325.48 L129.38,325.32 L130.53,325.17 L131.69,325.02 L132.84,324.87 L134.00,324.73 L135.15,324.58 L136.31,324.43 L137.47,324.28 L138.62,324.13 L139.78,323.97 L140.93,323.82 L142.09,323.66 L143.24,323.50 L144.40,323.34 L145.55,323.18 L146.71,323.01 L147.87,322.84 L149.02,322.67 L150.18,322.49 L151.33,322.31 L152.49,322.12 L153.64,321.93 L154.80,321.73 L155.95,321.53 L157.11,321.32 L158.27,321.11 L159.42,320.88 L160.58,320.66 L161.73,320.42 L162.89,320.18 L164.04,319.93 L165.20,319.67 L166.35,319.40 L167.51,319.13 L168.66,318.85 L169.82,318.55 L170.98,318.25 L172.13,317.94 L173.29,317.62 L174.44,317.29 L175.60,316.94 L176.75,316.59 L177.91,316.22 L179.06,315.85 L180.22,315.46 L181.38,315.06 L182.53,314.65 L183.69,314.22 L184.84,313.78 L186.00,313.33 L187.15,312.86 L188.31,312.38 L189.46,311.89 L190.62,311.38 L191.78,310.86 L192.93,310.32 L194.09,309.77 L195.24,309.20 L196.40,308.61 L197.55,308.01 L198.71,307.39 L199.86,306.76 L201.02,306.10 L202.17,305.43 L203.33,304.74 L204.49,304.04 L205.64,303.31 L206.80,302.57 L207.95,301.81 L209.11,301.03 L210.26,300.23 L211.42,299.40 L212.57,298.56 L213.73,297.70 L214.89,296.82 L216.04,295.91 L217.20,294.99 L218.35,294.04 L219.51,293.07 L220.66,292.08 L221.82,291.07 L222.97,290.03 L224.13,288.98 L225.29,287.90 L226.44,286.80 L227.60,285.69 L228.75,284.55 L229.91,283.40 L231.06,282.23 L232.22,281.04 L233.37,279.84 L234.53,278.62 L235.68,277.38 L236.84,276.13 L238.00,274.87 L239.15,273.59 L240.31,272.30 L241.46,270.99 L242.62,269.68 L243.77,268.35 L244.93,267.01 L246.08,265.66 L247.24,264.30 L248.40,262.93 L249.55,261.56 L250.71,260.17 L251.86,258.77 L253.02,257.35 L254.17,255.91 L255.33,254.46 L256.48,252.98 L257.64,251.47 L258.80,249.94 L259.95,248.38 L261.11,246.78 L262.26,245.15 L263.42,243.49 L264.57,241.79 L265.73,240.06 L266.88,238.30 L268.04,236.51 L269.19,234.70 L270.35,232.88 L271.51,231.03 L272.66,229.16 L273.82,227.29 L274.97,225.40 L276.13,223.50 L277.28,221.60 L278.44,219.69 L279.59,217.79 L280.75,215.88 L281.91,213.98 L283.06,212.09 L284.22,210.20 L285.37,208.33 L286.53,206.47 L287.68,204.63 L288.84,202.80 L289.99,200.99 L291.15,199.20 L292.31,197.43 L293.46,195.67 L294.62,193.92 L295.77,192.20 L296.93,190.48 L298.08,188.79 L299.24,187.10 L300.39,185.43 L301.55,183.78 L302.71,182.14 L303.86,180.51 L305.02,178.90 L306.17,177.29 L307.33,175.71 L308.48,174.13 L309.64,172.56 L310.79,171.01 L311.95,169.47 L313.10,167.94 L314.26,166.42 L315.42,164.91 L316.57,163.41 L317.73,161.92 L318.88,160.44 L320.04,158.97 L321.19,157.51 L322.35,156.06 L323.50,154.62 L324.66,153.18 L325.82,151.75 L326.97,150.33 L328.13,148.92 L329.28,147.51 L330.44,146.11 L331.59,144.72 L332.75,143.33 L333.90,141.95 L335.06,140.57 L336.22,139.20 L337.37,137.83 L338.53,136.47 L339.68,135.12 L340.84,133.76 L341.99,132.41 L343.15,131.07 L344.30,129.72 L345.46,128.38 L346.61,127.04 L347.77,125.71 L348.93,124.37 L350.08,123.04 L351.24,121.71 L352.39,120.38 L353.55,119.05 L354.70,117.72 L355.86,116.39 L357.01,115.06 L358.17,113.73 L359.33,112.40 L360.48,111.07 L361.64,109.74 L362.79,108.41 L363.95,107.07 L365.10,105.73 L366.26,104.39 L367.41,103.04 L368.57,101.70 L369.73,100.35 L370.88,98.99 L372.04,97.63 L373.19,96.27 L374.35,94.90 L375.50,93.53 L376.66,92.15 L377.81,90.77 L378.97,89.38 L380.12,87.99 L381.28,86.59 L382.44,85.18 L383.59,83.76 L384.75,82.34 L385.90,80.91 L387.06,79.47 L388.21,78.03 L389.37,76.57 L390.52,75.11 L391.68,73.64 L392.84,72.15 L393.99,70.66 L395.15,69.16 L396.30,67.65 L397.46,66.13 L398.61,64.59 L399.77,63.05 L400.92,61.49 L402.08,59.93 L403.24,58.35 L404.39,56.75 L405.55,55.15 L406.70,53.54 L407.86,51.92 L409.01,50.29 L410.17,48.65 L411.32,47.01 L412.48,45.37 L413.63,43.72 L414.79,42.07 L415.95,40.42 L417.10,38.77 L418.26,37.12 L419.41,35.47 L420.57,33.82 L421.72,32.18 L422.88,30.55 L424.03,28.92 L425.19,27.30 L426.35,25.69 L427.50,24.08 L428.66,22.49 L429.81,20.91 L430.97,19.35 L432.12,17.80 L433.28,16.26 L434.43,14.74 L435.59,13.24 L436.75,11.76 L437.90,10.29 L439.06,8.85 L440.21,7.43 L441.37,6.03 L442.52,4.66 L443.68,3.31 L444.83,1.99 L445.99,0.69 L447.14,-0.57 L448.30,-1.81 L449.46,-3.01 L450.61,-4.19 L451.77,-5.33 L452.92,-6.43 L454.08,-7.50 L455.23,-8.54 L456.39,-9.53 L457.54,-10.49 L458.70,-11.41" stroke="#00007e"/>
</g>
<g clip-path="url(#clipb)" fill="none" stroke-width="3.8" stroke-linejoin="round" stroke-linecap="butt" shape-rendering="crispEdges">
<path d="M573.20,327.80 L574.35,327.23 L575.51,326.65 L576.66,326.08 L577.82,325.50 L578.97,324.91 L580.12,324.33 L581.28,323.74 L582.43,323.15 L583.58,322.56 L584.74,321.97 L585.89,321.37 L587.05,320.78 L588.20,320.18 L589.35,319.57 L590.51,318.97 L591.66,318.36 L592.82,317.75 L593.97,317.14 L595.12,316.53 L596.28,315.91 L597.43,315.29 L598.58,314.67 L599.74,314.05 L600.89,313.42 L602.05,312.80 L603.20,312.17 L604.35,311.54 L605.51,310.90 L606.66,310.27 L607.82,309.63 L608.97,308.99 L610.12,308.35 L611.28,307.71 L612.43,307.07 L613.58,306.43 L614.74,305.79 L615.89,305.15 L617.05,304.50 L618.20,303.86 L619.35,303.21 L620.51,302.56 L621.66,301.90 L622.82,301.24 L623.97,300.58 L625.12,299.92 L626.28,299.25 L627.43,298.58 L628.58,297.90 L629.74,297.22 L630.89,296.54 L632.05,295.85 L633.20,295.15 L634.35,294.45 L635.51,293.75 L636.66,293.03 L637.82,292.31 L638.97,291.59 L640.12,290.86 L641.28,290.12 L642.43,289.37 L643.58,288.61 L644.74,287.82 L645.89,287.01 L647.05,286.19 L648.20,285.35 L649.35,284.49 L650.51,283.62 L651.66,282.74 L652.82,281.84 L653.97,280.95 L655.12,280.04 L656.28,279.13 L657.43,278.22 L658.58,277.31 L659.74,276.40 L660.89,275.50 L662.05,274.60 L663.20,273.71 L664.35,272.82 L665.51,271.95 L666.66,271.09 L667.82,270.25 L668.97,269.42 L670.12,268.61 L671.28,267.82 L672.43,267.05 L673.58,266.30 L674.74,265.59 L675.89,264.89 L677.05,264.23 L678.20,263.59 L679.35,262.96 L680.51,262.34 L681.66,261.74 L682.82,261.15 L683.97,260.57 L685.12,260.01 L686.28,259.45 L687.43,258.90 L688.58,258.36 L689.74,257.83 L690.89,257.30 L692.05,256.79 L693.20,256.27 L694.35,255.76 L695.51,255.26 L696.66,254.76 L697.82,254.26 L698.97,253.76 L700.12,253.27 L701.28,252.78 L702.43,252.30 L703.58,251.83 L704.74,251.37 L705.89,250.91 L707.05,250.46 L708.20,250.01 L709.35,249.57 L710.51,249.12 L711.66,248.68 L712.82,248.24 L713.97,247.80 L715.12,247.36 L716.28,246.92 L717.43,246.48 L718.58,246.05 L719.74,245.62 L720.89,245.20 L722.05,244.77 L723.20,244.36 L724.35,243.94 L725.51,243.54 L726.66,243.13 L727.82,242.73 L728.97,242.34 L730.12,241.95 L731.28,241.56 L732.43,241.18 L733.58,240.80 L734.74,240.43 L735.89,240.05 L737.05,239.68 L738.20,239.32 L739.35,238.95 L740.51,238.59 L741.66,238.24 L742.82,237.88 L743.97,237.53 L745.12,237.19 L746.28,236.85 L747.43,236.52 L748.58,236.19 L749.74,235.86 L750.89,235.53 L752.05,235.21 L753.20,234.88 L754.35,234.55 L755.51,234.23 L756.66,233.89 L757.82,233.56 L758.97,233.22 L760.12,232.88 L761.28,232.53 L762.43,232.18 L763.58,231.82 L764.74,231.47 L765.89,231.10 L767.05,230.74 L768.20,230.38 L769.35,230.02 L770.51,229.66 L771.66,229.30 L772.82,228.94 L773.97,228.59 L775.12,228.25 L776.28,227.91 L777.43,227.58 L778.58,227.25 L779.74,226.92 L780.89,226.59 L782.05,226.26 L783.20,225.93 L784.35,225.61 L785.51,225.29 L786.66,224.96 L787.82,224.64 L788.97,224.32 L790.12,224.01 L791.28,223.69 L792.43,223.38 L793.58,223.07 L794.74,222.75 L795.89,222.45 L797.05,222.14 L798.20,221.83 L799.35,221.53 L800.51,221.23 L801.66,220.92 L802.82,220.63 L803.97,220.33 L805.12,220.03 L806.28,219.74 L807.43,219.45 L808.58,219.16 L809.74,218.87 L810.89,218.59 L812.05,218.30 L813.20,218.02 L814.35,217.74 L815.51,217.46 L816.66,217.18 L817.82,216.91 L818.97,216.63 L820.12,216.36 L821.28,216.08 L822.43,215.81 L823.58,215.54 L824.74,215.27 L825.89,215.00 L827.05,214.73 L828.20,214.47 L829.35,214.20 L830.51,213.94 L831.66,213.68 L832.82,213.41 L833.97,213.15 L835.12,212.90 L836.28,212.64 L837.43,212.38 L838.58,212.13 L839.74,211.87 L840.89,211.62 L842.05,211.37 L843.20,211.12 L844.35,210.87 L845.51,210.63 L846.66,210.38 L847.82,210.14 L848.97,209.89 L850.12,209.65 L851.28,209.41 L852.43,209.18 L853.58,208.94 L854.74,208.70 L855.89,208.47 L857.05,208.24 L858.20,208.01 L859.35,207.78 L860.51,207.55 L861.66,207.32 L862.82,207.10 L863.97,206.87 L865.12,206.65 L866.28,206.42 L867.43,206.20 L868.58,205.98 L869.74,205.76 L870.89,205.54 L872.05,205.32 L873.20,205.11 L874.35,204.89 L875.51,204.68 L876.66,204.47 L877.82,204.27 L878.97,204.06 L880.12,203.86 L881.28,203.66 L882.43,203.46 L883.58,203.26 L884.74,203.07 L885.89,202.88 L887.05,202.70 L888.20,202.51 L889.35,202.33 L890.51,202.16 L891.66,201.98 L892.82,201.81 L893.97,201.64 L895.12,201.47 L896.28,201.30 L897.43,201.14 L898.58,200.98 L899.74,200.81 L900.89,200.66 L902.05,200.50 L903.20,200.34 L904.35,200.19 L905.51,200.04 L906.66,199.89 L907.82,199.74 L908.97,199.60 L910.12,199.45 L911.28,199.31 L912.43,199.18 L913.58,199.04 L914.74,198.91 L915.89,198.78 L917.05,198.65 L918.20,198.52" stroke="#14e014"/>
<path d="M573.20,327.80 L574.35,327.47 L575.51,327.14 L576.66,326.80 L577.82,326.45 L578.97,326.09 L580.12,325.72 L581.28,325.35 L582.43,324.97 L583.58,324.58 L584.74,324.18 L585.89,323.78 L587.05,323.37 L588.20,322.95 L589.35,322.53 L590.51,322.10 L591.66,321.66 L592.82,321.22 L593.97,320.77 L595.12,320.31 L596.28,319.85 L597.43,319.38 L598.58,318.91 L599.74,318.43 L600.89,317.95 L602.05,317.46 L603.20,316.97 L604.35,316.47 L605.51,315.96 L606.66,315.46 L607.82,314.94 L608.97,314.42 L610.12,313.90 L611.28,313.36 L612.43,312.82 L613.58,312.27 L614.74,311.70 L615.89,311.14 L617.05,310.56 L618.20,309.97 L619.35,309.38 L620.51,308.77 L621.66,308.16 L622.82,307.54 L623.97,306.91 L625.12,306.27 L626.28,305.62 L627.43,304.97 L628.58,304.30 L629.74,303.63 L630.89,302.95 L632.05,302.26 L633.20,301.56 L634.35,300.85 L635.51,300.13 L636.66,299.40 L637.82,298.67 L638.97,297.92 L640.12,297.17 L641.28,296.41 L642.43,295.63 L643.58,294.84 L644.74,294.02 L645.89,293.17 L647.05,292.30 L648.20,291.41 L649.35,290.50 L650.51,289.57 L651.66,288.62 L652.82,287.65 L653.97,286.67 L655.12,285.68 L656.28,284.67 L657.43,283.66 L658.58,282.64 L659.74,281.61 L660.89,280.57 L662.05,279.53 L663.20,278.49 L664.35,277.44 L665.51,276.40 L666.66,275.36 L667.82,274.32 L668.97,273.29 L670.12,272.26 L671.28,271.24 L672.43,270.23 L673.58,269.23 L674.74,268.24 L675.89,267.27 L677.05,266.31 L678.20,265.35 L679.35,264.39 L680.51,263.42 L681.66,262.45 L682.82,261.47 L683.97,260.51 L685.12,259.54 L686.28,258.59 L687.43,257.64 L688.58,256.71 L689.74,255.79 L690.89,254.89 L692.05,254.01 L693.20,253.15 L694.35,252.31 L695.51,251.49 L696.66,250.68 L697.82,249.88 L698.97,249.10 L700.12,248.33 L701.28,247.57 L702.43,246.82 L703.58,246.08 L704.74,245.35 L705.89,244.62 L707.05,243.90 L708.20,243.19 L709.35,242.48 L710.51,241.78 L711.66,241.08 L712.82,240.38 L713.97,239.70 L715.12,239.03 L716.28,238.36 L717.43,237.69 L718.58,237.04 L719.74,236.39 L720.89,235.74 L722.05,235.10 L723.20,234.45 L724.35,233.82 L725.51,233.18 L726.66,232.54 L727.82,231.90 L728.97,231.27 L730.12,230.63 L731.28,229.99 L732.43,229.36 L733.58,228.73 L734.74,228.09 L735.89,227.47 L737.05,226.84 L738.20,226.22 L739.35,225.60 L740.51,224.98 L741.66,224.37 L742.82,223.77 L743.97,223.17 L745.12,222.57 L746.28,221.98 L747.43,221.40 L748.58,220.81 L749.74,220.23 L750.89,219.66 L752.05,219.09 L753.20,218.52 L754.35,217.95 L755.51,217.39 L756.66,216.84 L757.82,216.29 L758.97,215.74 L760.12,215.20 L761.28,214.66 L762.43,214.13 L763.58,213.60 L764.74,213.08 L765.89,212.57 L767.05,212.06 L768.20,211.55 L769.35,211.05 L770.51,210.55 L771.66,210.05 L772.82,209.56 L773.97,209.07 L775.12,208.59 L776.28,208.10 L777.43,207.62 L778.58,207.15 L779.74,206.67 L780.89,206.20 L782.05,205.73 L783.20,205.26 L784.35,204.79 L785.51,204.33 L786.66,203.87 L787.82,203.41 L788.97,202.96 L790.12,202.51 L791.28,202.06 L792.43,201.61 L793.58,201.16 L794.74,200.72 L795.89,200.28 L797.05,199.84 L798.20,199.40 L799.35,198.97 L800.51,198.54 L801.66,198.11 L802.82,197.68 L803.97,197.25 L805.12,196.83 L806.28,196.41 L807.43,195.99 L808.58,195.57 L809.74,195.15 L810.89,194.74 L812.05,194.33 L813.20,193.92 L814.35,193.51 L815.51,193.10 L816.66,192.70 L817.82,192.30 L818.97,191.90 L820.12,191.50 L821.28,191.10 L822.43,190.71 L823.58,190.31 L824.74,189.92 L825.89,189.53 L827.05,189.14 L828.20,188.76 L829.35,188.37 L830.51,187.99 L831.66,187.61 L832.82,187.23 L833.97,186.85 L835.12,186.48 L836.28,186.11 L837.43,185.73 L838.58,185.36 L839.74,184.99 L840.89,184.63 L842.05,184.26 L843.20,183.90 L844.35,183.53 L845.51,183.17 L846.66,182.81 L847.82,182.46 L848.97,182.10 L850.12,181.74 L851.28,181.39 L852.43,181.04 L853.58,180.69 L854.74,180.34 L855.89,179.99 L857.05,179.64 L858.20,179.30 L859.35,178.96 L860.51,178.61 L861.66,178.27 L862.82,177.93 L863.97,177.60 L865.12,177.26 L866.28,176.93 L867.43,176.59 L868.58,176.26 L869.74,175.93 L870.89,175.60 L872.05,175.27 L873.20,174.95 L874.35,174.62 L875.51,174.30 L876.66,173.98 L877.82,173.66 L878.97,173.34 L880.12,173.02 L881.28,172.70 L882.43,172.39 L883.58,172.08 L884.74,171.76 L885.89,171.45 L887.05,171.15 L888.20,170.84 L889.35,170.53 L890.51,170.23 L891.66,169.93 L892.82,169.63 L893.97,169.33 L895.12,169.03 L896.28,168.73 L897.43,168.44 L898.58,168.14 L899.74,167.85 L900.89,167.56 L902.05,167.27 L903.20,166.99 L904.35,166.70 L905.51,166.42 L906.66,166.14 L907.82,165.85 L908.97,165.58 L910.12,165.30 L911.28,165.02 L912.43,164.75 L913.58,164.47 L914.74,164.20 L915.89,163.93 L917.05,163.66 L918.20,163.40" stroke="#14c414"/>
<path d="M573.20,327.80 L574.35,327.57 L575.51,327.33 L576.66,327.09 L577.82,326.84 L578.97,326.59 L580.12,326.33 L581.28,326.07 L582.43,325.80 L583.58,325.52 L584.74,325.24 L585.89,324.96 L587.05,324.67 L588.20,324.37 L589.35,324.07 L590.51,323.77 L591.66,323.46 L592.82,323.14 L593.97,322.83 L595.12,322.50 L596.28,322.18 L597.43,321.85 L598.58,321.51 L599.74,321.18 L600.89,320.83 L602.05,320.49 L603.20,320.14 L604.35,319.79 L605.51,319.43 L606.66,319.07 L607.82,318.71 L608.97,318.35 L610.12,317.98 L611.28,317.61 L612.43,317.24 L613.58,316.86 L614.74,316.48 L615.89,316.10 L617.05,315.71 L618.20,315.32 L619.35,314.92 L620.51,314.51 L621.66,314.10 L622.82,313.68 L623.97,313.26 L625.12,312.82 L626.28,312.38 L627.43,311.93 L628.58,311.47 L629.74,310.99 L630.89,310.51 L632.05,310.02 L633.20,309.52 L634.35,309.01 L635.51,308.48 L636.66,307.94 L637.82,307.39 L638.97,306.82 L640.12,306.25 L641.28,305.65 L642.43,305.04 L643.58,304.41 L644.74,303.74 L645.89,303.04 L647.05,302.31 L648.20,301.55 L649.35,300.76 L650.51,299.94 L651.66,299.10 L652.82,298.24 L653.97,297.35 L655.12,296.44 L656.28,295.52 L657.43,294.57 L658.58,293.60 L659.74,292.62 L660.89,291.62 L662.05,290.61 L663.20,289.59 L664.35,288.55 L665.51,287.51 L666.66,286.45 L667.82,285.39 L668.97,284.32 L670.12,283.25 L671.28,282.17 L672.43,281.10 L673.58,280.02 L674.74,278.94 L675.89,277.86 L677.05,276.78 L678.20,275.67 L679.35,274.54 L680.51,273.38 L681.66,272.19 L682.82,270.98 L683.97,269.75 L685.12,268.51 L686.28,267.26 L687.43,266.00 L688.58,264.73 L689.74,263.47 L690.89,262.20 L692.05,260.95 L693.20,259.70 L694.35,258.46 L695.51,257.22 L696.66,255.97 L697.82,254.71 L698.97,253.44 L700.12,252.17 L701.28,250.90 L702.43,249.63 L703.58,248.37 L704.74,247.11 L705.89,245.85 L707.05,244.61 L708.20,243.38 L709.35,242.16 L710.51,240.95 L711.66,239.76 L712.82,238.58 L713.97,237.40 L715.12,236.23 L716.28,235.07 L717.43,233.91 L718.58,232.76 L719.74,231.62 L720.89,230.48 L722.05,229.36 L723.20,228.25 L724.35,227.15 L725.51,226.07 L726.66,225.00 L727.82,223.94 L728.97,222.89 L730.12,221.86 L731.28,220.84 L732.43,219.83 L733.58,218.83 L734.74,217.84 L735.89,216.86 L737.05,215.89 L738.20,214.92 L739.35,213.97 L740.51,213.03 L741.66,212.10 L742.82,211.17 L743.97,210.26 L745.12,209.35 L746.28,208.45 L747.43,207.56 L748.58,206.69 L749.74,205.82 L750.89,204.96 L752.05,204.11 L753.20,203.26 L754.35,202.43 L755.51,201.60 L756.66,200.78 L757.82,199.96 L758.97,199.15 L760.12,198.34 L761.28,197.54 L762.43,196.74 L763.58,195.95 L764.74,195.16 L765.89,194.37 L767.05,193.58 L768.20,192.80 L769.35,192.02 L770.51,191.25 L771.66,190.48 L772.82,189.72 L773.97,188.97 L775.12,188.23 L776.28,187.50 L777.43,186.77 L778.58,186.06 L779.74,185.36 L780.89,184.67 L782.05,183.99 L783.20,183.32 L784.35,182.65 L785.51,182.00 L786.66,181.35 L787.82,180.71 L788.97,180.07 L790.12,179.44 L791.28,178.82 L792.43,178.20 L793.58,177.59 L794.74,176.99 L795.89,176.39 L797.05,175.80 L798.20,175.21 L799.35,174.63 L800.51,174.05 L801.66,173.48 L802.82,172.92 L803.97,172.36 L805.12,171.80 L806.28,171.26 L807.43,170.71 L808.58,170.17 L809.74,169.63 L810.89,169.10 L812.05,168.57 L813.20,168.04 L814.35,167.51 L815.51,166.99 L816.66,166.47 L817.82,165.95 L818.97,165.44 L820.12,164.92 L821.28,164.42 L822.43,163.91 L823.58,163.41 L824.74,162.91 L825.89,162.42 L827.05,161.92 L828.20,161.43 L829.35,160.94 L830.51,160.46 L831.66,159.97 L832.82,159.49 L833.97,159.01 L835.12,158.54 L836.28,158.06 L837.43,157.59 L838.58,157.12 L839.74,156.65 L840.89,156.19 L842.05,155.73 L843.20,155.27 L844.35,154.81 L845.51,154.35 L846.66,153.90 L847.82,153.45 L848.97,153.00 L850.12,152.55 L851.28,152.11 L852.43,151.67 L853.58,151.22 L854.74,150.79 L855.89,150.35 L857.05,149.91 L858.20,149.48 L859.35,149.05 L860.51,148.62 L861.66,148.20 L862.82,147.77 L863.97,147.35 L865.12,146.93 L866.28,146.51 L867.43,146.09 L868.58,145.68 L869.74,145.26 L870.89,144.85 L872.05,144.44 L873.20,144.03 L874.35,143.63 L875.51,143.22 L876.66,142.82 L877.82,142.42 L878.97,142.02 L880.12,141.62 L881.28,141.22 L882.43,140.83 L883.58,140.44 L884.74,140.04 L885.89,139.65 L887.05,139.27 L888.20,138.88 L889.35,138.49 L890.51,138.11 L891.66,137.73 L892.82,137.35 L893.97,136.97 L895.12,136.59 L896.28,136.21 L897.43,135.84 L898.58,135.46 L899.74,135.09 L900.89,134.72 L902.05,134.35 L903.20,133.99 L904.35,133.62 L905.51,133.26 L906.66,132.90 L907.82,132.54 L908.97,132.18 L910.12,131.82 L911.28,131.46 L912.43,131.11 L913.58,130.75 L914.74,130.40 L915.89,130.05 L917.05,129.70 L918.20,129.36" stroke="#0aa80a"/>
<path d="M573.20,327.80 L574.35,327.68 L575.51,327.56 L576.66,327.43 L577.82,327.31 L578.97,327.18 L580.12,327.04 L581.28,326.90 L582.43,326.77 L583.58,326.62 L584.74,326.48 L585.89,326.33 L587.05,326.18 L588.20,326.03 L589.35,325.87 L590.51,325.72 L591.66,325.56 L592.82,325.39 L593.97,325.23 L595.12,325.06 L596.28,324.89 L597.43,324.72 L598.58,324.55 L599.74,324.38 L600.89,324.20 L602.05,324.02 L603.20,323.84 L604.35,323.66 L605.51,323.48 L606.66,323.29 L607.82,323.10 L608.97,322.92 L610.12,322.73 L611.28,322.54 L612.43,322.36 L613.58,322.17 L614.74,321.98 L615.89,321.79 L617.05,321.60 L618.20,321.40 L619.35,321.21 L620.51,321.01 L621.66,320.80 L622.82,320.60 L623.97,320.38 L625.12,320.17 L626.28,319.94 L627.43,319.72 L628.58,319.48 L629.74,319.24 L630.89,318.99 L632.05,318.74 L633.20,318.47 L634.35,318.20 L635.51,317.92 L636.66,317.63 L637.82,317.33 L638.97,317.03 L640.12,316.71 L641.28,316.38 L642.43,316.03 L643.58,315.67 L644.74,315.28 L645.89,314.86 L647.05,314.42 L648.20,313.95 L649.35,313.46 L650.51,312.94 L651.66,312.40 L652.82,311.84 L653.97,311.26 L655.12,310.66 L656.28,310.04 L657.43,309.40 L658.58,308.74 L659.74,308.07 L660.89,307.38 L662.05,306.67 L663.20,305.95 L664.35,305.22 L665.51,304.47 L666.66,303.70 L667.82,302.93 L668.97,302.15 L670.12,301.35 L671.28,300.55 L672.43,299.73 L673.58,298.91 L674.74,298.08 L675.89,297.25 L677.05,296.40 L678.20,295.52 L679.35,294.59 L680.51,293.62 L681.66,292.60 L682.82,291.55 L683.97,290.47 L685.12,289.35 L686.28,288.21 L687.43,287.04 L688.58,285.86 L689.74,284.65 L690.89,283.43 L692.05,282.20 L693.20,280.96 L694.35,279.72 L695.51,278.45 L696.66,277.14 L697.82,275.81 L698.97,274.44 L700.12,273.06 L701.28,271.65 L702.43,270.21 L703.58,268.76 L704.74,267.30 L705.89,265.82 L707.05,264.32 L708.20,262.82 L709.35,261.31 L710.51,259.80 L711.66,258.28 L712.82,256.74 L713.97,255.16 L715.12,253.56 L716.28,251.94 L717.43,250.31 L718.58,248.66 L719.74,247.00 L720.89,245.34 L722.05,243.68 L723.20,242.02 L724.35,240.37 L725.51,238.73 L726.66,237.11 L727.82,235.51 L728.97,233.93 L730.12,232.36 L731.28,230.78 L732.43,229.21 L733.58,227.64 L734.74,226.08 L735.89,224.52 L737.05,222.97 L738.20,221.44 L739.35,219.91 L740.51,218.40 L741.66,216.90 L742.82,215.42 L743.97,213.96 L745.12,212.51 L746.28,211.09 L747.43,209.68 L748.58,208.28 L749.74,206.89 L750.89,205.51 L752.05,204.14 L753.20,202.79 L754.35,201.45 L755.51,200.12 L756.66,198.81 L757.82,197.51 L758.97,196.24 L760.12,194.98 L761.28,193.74 L762.43,192.51 L763.58,191.31 L764.74,190.13 L765.89,188.95 L767.05,187.80 L768.20,186.65 L769.35,185.52 L770.51,184.41 L771.66,183.30 L772.82,182.21 L773.97,181.14 L775.12,180.07 L776.28,179.02 L777.43,177.98 L778.58,176.95 L779.74,175.93 L780.89,174.92 L782.05,173.93 L783.20,172.95 L784.35,171.97 L785.51,171.01 L786.66,170.06 L787.82,169.12 L788.97,168.19 L790.12,167.26 L791.28,166.35 L792.43,165.45 L793.58,164.55 L794.74,163.66 L795.89,162.78 L797.05,161.91 L798.20,161.05 L799.35,160.19 L800.51,159.34 L801.66,158.50 L802.82,157.67 L803.97,156.84 L805.12,156.02 L806.28,155.21 L807.43,154.40 L808.58,153.61 L809.74,152.82 L810.89,152.03 L812.05,151.26 L813.20,150.48 L814.35,149.72 L815.51,148.96 L816.66,148.21 L817.82,147.46 L818.97,146.73 L820.12,145.99 L821.28,145.27 L822.43,144.55 L823.58,143.83 L824.74,143.12 L825.89,142.42 L827.05,141.72 L828.20,141.03 L829.35,140.34 L830.51,139.65 L831.66,138.97 L832.82,138.30 L833.97,137.63 L835.12,136.96 L836.28,136.30 L837.43,135.65 L838.58,135.00 L839.74,134.35 L840.89,133.71 L842.05,133.07 L843.20,132.44 L844.35,131.81 L845.51,131.18 L846.66,130.56 L847.82,129.94 L848.97,129.33 L850.12,128.72 L851.28,128.11 L852.43,127.50 L853.58,126.90 L854.74,126.31 L855.89,125.71 L857.05,125.12 L858.20,124.54 L859.35,123.95 L860.51,123.37 L861.66,122.80 L862.82,122.22 L863.97,121.65 L865.12,121.08 L866.28,120.52 L867.43,119.95 L868.58,119.39 L869.74,118.83 L870.89,118.28 L872.05,117.73 L873.20,117.18 L874.35,116.63 L875.51,116.09 L876.66,115.55 L877.82,115.01 L878.97,114.47 L880.12,113.94 L881.28,113.41 L882.43,112.87 L883.58,112.34 L884.74,111.81 L885.89,111.29 L887.05,110.76 L888.20,110.24 L889.35,109.72 L890.51,109.20 L891.66,108.68 L892.82,108.17 L893.97,107.65 L895.12,107.14 L896.28,106.63 L897.43,106.12 L898.58,105.61 L899.74,105.10 L900.89,104.59 L902.05,104.09 L903.20,103.58 L904.35,103.08 L905.51,102.58 L906.66,102.07 L907.82,101.57 L908.97,101.07 L910.12,100.58 L911.28,100.08 L912.43,99.58 L913.58,99.09 L914.74,98.60 L915.89,98.11 L917.05,97.62 L918.20,97.13" stroke="#0a8c0a"/>
<path d="M573.20,327.80 L574.35,327.72 L575.51,327.64 L576.66,327.56 L577.82,327.47 L578.97,327.38 L580.12,327.29 L581.28,327.20 L582.43,327.11 L583.58,327.02 L584.74,326.92 L585.89,326.82 L587.05,326.72 L588.20,326.62 L589.35,326.52 L590.51,326.41 L591.66,326.31 L592.82,326.20 L593.97,326.09 L595.12,325.98 L596.28,325.87 L597.43,325.75 L598.58,325.64 L599.74,325.52 L600.89,325.40 L602.05,325.28 L603.20,325.16 L604.35,325.04 L605.51,324.92 L606.66,324.80 L607.82,324.67 L608.97,324.55 L610.12,324.42 L611.28,324.30 L612.43,324.17 L613.58,324.05 L614.74,323.92 L615.89,323.79 L617.05,323.67 L618.20,323.54 L619.35,323.40 L620.51,323.27 L621.66,323.13 L622.82,322.99 L623.97,322.85 L625.12,322.70 L626.28,322.56 L627.43,322.40 L628.58,322.25 L629.74,322.09 L630.89,321.92 L632.05,321.75 L633.20,321.58 L634.35,321.40 L635.51,321.21 L636.66,321.02 L637.82,320.82 L638.97,320.62 L640.12,320.41 L641.28,320.19 L642.43,319.97 L643.58,319.73 L644.74,319.49 L645.89,319.22 L647.05,318.95 L648.20,318.66 L649.35,318.36 L650.51,318.05 L651.66,317.72 L652.82,317.38 L653.97,317.03 L655.12,316.67 L656.28,316.30 L657.43,315.91 L658.58,315.52 L659.74,315.11 L660.89,314.69 L662.05,314.26 L663.20,313.82 L664.35,313.36 L665.51,312.90 L666.66,312.43 L667.82,311.94 L668.97,311.45 L670.12,310.94 L671.28,310.43 L672.43,309.90 L673.58,309.37 L674.74,308.83 L675.89,308.28 L677.05,307.71 L678.20,307.11 L679.35,306.46 L680.51,305.77 L681.66,305.04 L682.82,304.27 L683.97,303.47 L685.12,302.64 L686.28,301.78 L687.43,300.90 L688.58,300.00 L689.74,299.09 L690.89,298.16 L692.05,297.22 L693.20,296.28 L694.35,295.33 L695.51,294.36 L696.66,293.36 L697.82,292.34 L698.97,291.29 L700.12,290.22 L701.28,289.12 L702.43,288.00 L703.58,286.86 L704.74,285.70 L705.89,284.52 L707.05,283.31 L708.20,282.10 L709.35,280.86 L710.51,279.61 L711.66,278.34 L712.82,277.04 L713.97,275.72 L715.12,274.36 L716.28,272.98 L717.43,271.57 L718.58,270.14 L719.74,268.68 L720.89,267.20 L722.05,265.71 L723.20,264.19 L724.35,262.66 L725.51,261.11 L726.66,259.54 L727.82,257.96 L728.97,256.37 L730.12,254.74 L731.28,253.08 L732.43,251.39 L733.58,249.67 L734.74,247.93 L735.89,246.17 L737.05,244.39 L738.20,242.59 L739.35,240.79 L740.51,238.98 L741.66,237.16 L742.82,235.35 L743.97,233.53 L745.12,231.73 L746.28,229.93 L747.43,228.11 L748.58,226.27 L749.74,224.42 L750.89,222.56 L752.05,220.69 L753.20,218.82 L754.35,216.95 L755.51,215.08 L756.66,213.22 L757.82,211.36 L758.97,209.52 L760.12,207.69 L761.28,205.89 L762.43,204.10 L763.58,202.34 L764.74,200.58 L765.89,198.82 L767.05,197.07 L768.20,195.32 L769.35,193.59 L770.51,191.86 L771.66,190.15 L772.82,188.45 L773.97,186.77 L775.12,185.11 L776.28,183.47 L777.43,181.86 L778.58,180.28 L779.74,178.73 L780.89,177.20 L782.05,175.70 L783.20,174.21 L784.35,172.75 L785.51,171.30 L786.66,169.87 L787.82,168.46 L788.97,167.06 L790.12,165.68 L791.28,164.32 L792.43,162.97 L793.58,161.64 L794.74,160.32 L795.89,159.01 L797.05,157.72 L798.20,156.44 L799.35,155.17 L800.51,153.92 L801.66,152.69 L802.82,151.47 L803.97,150.26 L805.12,149.06 L806.28,147.87 L807.43,146.70 L808.58,145.54 L809.74,144.39 L810.89,143.24 L812.05,142.11 L813.20,140.99 L814.35,139.87 L815.51,138.76 L816.66,137.66 L817.82,136.57 L818.97,135.49 L820.12,134.42 L821.28,133.35 L822.43,132.30 L823.58,131.25 L824.74,130.21 L825.89,129.19 L827.05,128.17 L828.20,127.16 L829.35,126.16 L830.51,125.18 L831.66,124.20 L832.82,123.23 L833.97,122.27 L835.12,121.33 L836.28,120.39 L837.43,119.45 L838.58,118.53 L839.74,117.62 L840.89,116.71 L842.05,115.81 L843.20,114.92 L844.35,114.04 L845.51,113.16 L846.66,112.30 L847.82,111.43 L848.97,110.58 L850.12,109.73 L851.28,108.90 L852.43,108.07 L853.58,107.24 L854.74,106.43 L855.89,105.62 L857.05,104.81 L858.20,104.02 L859.35,103.22 L860.51,102.44 L861.66,101.66 L862.82,100.88 L863.97,100.11 L865.12,99.35 L866.28,98.59 L867.43,97.83 L868.58,97.08 L869.74,96.33 L870.89,95.59 L872.05,94.85 L873.20,94.12 L874.35,93.39 L875.51,92.67 L876.66,91.95 L877.82,91.24 L878.97,90.53 L880.12,89.82 L881.28,89.12 L882.43,88.42 L883.58,87.73 L884.74,87.04 L885.89,86.35 L887.05,85.67 L888.20,84.99 L889.35,84.31 L890.51,83.64 L891.66,82.98 L892.82,82.31 L893.97,81.65 L895.12,81.00 L896.28,80.34 L897.43,79.69 L898.58,79.05 L899.74,78.40 L900.89,77.76 L902.05,77.12 L903.20,76.49 L904.35,75.86 L905.51,75.23 L906.66,74.60 L907.82,73.98 L908.97,73.36 L910.12,72.74 L911.28,72.13 L912.43,71.52 L913.58,70.91 L914.74,70.31 L915.89,69.71 L917.05,69.11 L918.20,68.52" stroke="#087808"/>
<path d="M573.20,327.80 L574.35,327.74 L575.51,327.68 L576.66,327.62 L577.82,327.56 L578.97,327.49 L580.12,327.42 L581.28,327.36 L582.43,327.29 L583.58,327.22 L584.74,327.15 L585.89,327.07 L587.05,327.00 L588.20,326.92 L589.35,326.85 L590.51,326.77 L591.66,326.69 L592.82,326.61 L593.97,326.53 L595.12,326.44 L596.28,326.36 L597.43,326.28 L598.58,326.19 L599.74,326.10 L600.89,326.02 L602.05,325.93 L603.20,325.84 L604.35,325.75 L605.51,325.66 L606.66,325.57 L607.82,325.47 L608.97,325.38 L610.12,325.29 L611.28,325.19 L612.43,325.10 L613.58,325.00 L614.74,324.91 L615.89,324.81 L617.05,324.71 L618.20,324.61 L619.35,324.51 L620.51,324.41 L621.66,324.31 L622.82,324.20 L623.97,324.09 L625.12,323.99 L626.28,323.87 L627.43,323.76 L628.58,323.64 L629.74,323.52 L630.89,323.40 L632.05,323.27 L633.20,323.14 L634.35,323.01 L635.51,322.87 L636.66,322.73 L637.82,322.59 L638.97,322.44 L640.12,322.29 L641.28,322.13 L642.43,321.97 L643.58,321.81 L644.74,321.63 L645.89,321.44 L647.05,321.25 L648.20,321.05 L649.35,320.84 L650.51,320.62 L651.66,320.40 L652.82,320.17 L653.97,319.93 L655.12,319.68 L656.28,319.43 L657.43,319.17 L658.58,318.91 L659.74,318.63 L660.89,318.36 L662.05,318.07 L663.20,317.78 L664.35,317.49 L665.51,317.19 L666.66,316.88 L667.82,316.57 L668.97,316.26 L670.12,315.94 L671.28,315.62 L672.43,315.29 L673.58,314.96 L674.74,314.62 L675.89,314.28 L677.05,313.94 L678.20,313.58 L679.35,313.21 L680.51,312.83 L681.66,312.43 L682.82,312.02 L683.97,311.60 L685.12,311.16 L686.28,310.70 L687.43,310.24 L688.58,309.76 L689.74,309.26 L690.89,308.75 L692.05,308.23 L693.20,307.69 L694.35,307.14 L695.51,306.57 L696.66,305.97 L697.82,305.36 L698.97,304.72 L700.12,304.05 L701.28,303.37 L702.43,302.66 L703.58,301.93 L704.74,301.18 L705.89,300.40 L707.05,299.61 L708.20,298.79 L709.35,297.95 L710.51,297.09 L711.66,296.21 L712.82,295.28 L713.97,294.31 L715.12,293.30 L716.28,292.25 L717.43,291.17 L718.58,290.05 L719.74,288.90 L720.89,287.72 L722.05,286.51 L723.20,285.29 L724.35,284.04 L725.51,282.77 L726.66,281.49 L727.82,280.20 L728.97,278.89 L730.12,277.56 L731.28,276.18 L732.43,274.77 L733.58,273.34 L734.74,271.87 L735.89,270.37 L737.05,268.85 L738.20,267.31 L739.35,265.74 L740.51,264.15 L741.66,262.55 L742.82,260.92 L743.97,259.29 L745.12,257.64 L746.28,255.98 L747.43,254.29 L748.58,252.57 L749.74,250.82 L750.89,249.05 L752.05,247.25 L753.20,245.43 L754.35,243.59 L755.51,241.73 L756.66,239.86 L757.82,237.97 L758.97,236.06 L760.12,234.15 L761.28,232.22 L762.43,230.28 L763.58,228.34 L764.74,226.36 L765.89,224.36 L767.05,222.33 L768.20,220.28 L769.35,218.21 L770.51,216.13 L771.66,214.04 L772.82,211.93 L773.97,209.83 L775.12,207.72 L776.28,205.61 L777.43,203.51 L778.58,201.42 L779.74,199.34 L780.89,197.27 L782.05,195.19 L783.20,193.10 L784.35,191.00 L785.51,188.89 L786.66,186.78 L787.82,184.68 L788.97,182.58 L790.12,180.49 L791.28,178.41 L792.43,176.35 L793.58,174.31 L794.74,172.29 L795.89,170.30 L797.05,168.33 L798.20,166.40 L799.35,164.47 L800.51,162.56 L801.66,160.65 L802.82,158.76 L803.97,156.88 L805.12,155.02 L806.28,153.18 L807.43,151.36 L808.58,149.56 L809.74,147.78 L810.89,146.02 L812.05,144.29 L813.20,142.59 L814.35,140.92 L815.51,139.27 L816.66,137.65 L817.82,136.04 L818.97,134.46 L820.12,132.89 L821.28,131.35 L822.43,129.82 L823.58,128.31 L824.74,126.82 L825.89,125.35 L827.05,123.89 L828.20,122.45 L829.35,121.03 L830.51,119.62 L831.66,118.23 L832.82,116.85 L833.97,115.49 L835.12,114.14 L836.28,112.81 L837.43,111.49 L838.58,110.19 L839.74,108.90 L840.89,107.63 L842.05,106.37 L843.20,105.12 L844.35,103.88 L845.51,102.66 L846.66,101.44 L847.82,100.24 L848.97,99.04 L850.12,97.86 L851.28,96.69 L852.43,95.52 L853.58,94.37 L854.74,93.24 L855.89,92.11 L857.05,90.99 L858.20,89.88 L859.35,88.78 L860.51,87.69 L861.66,86.61 L862.82,85.53 L863.97,84.47 L865.12,83.41 L866.28,82.36 L867.43,81.32 L868.58,80.29 L869.74,79.26 L870.89,78.25 L872.05,77.24 L873.20,76.24 L874.35,75.24 L875.51,74.26 L876.66,73.28 L877.82,72.31 L878.97,71.34 L880.12,70.39 L881.28,69.43 L882.43,68.49 L883.58,67.55 L884.74,66.61 L885.89,65.68 L887.05,64.76 L888.20,63.84 L889.35,62.93 L890.51,62.03 L891.66,61.13 L892.82,60.24 L893.97,59.35 L895.12,58.47 L896.28,57.59 L897.43,56.72 L898.58,55.86 L899.74,55.00 L900.89,54.14 L902.05,53.29 L903.20,52.44 L904.35,51.60 L905.51,50.77 L906.66,49.94 L907.82,49.11 L908.97,48.29 L910.12,47.47 L911.28,46.66 L912.43,45.85 L913.58,45.05 L914.74,44.26 L915.89,43.47 L917.05,42.68 L918.20,41.90" stroke="#086408"/>
<path d="M573.20,327.80 L574.28,327.75 L575.37,327.71 L576.45,327.66 L577.54,327.61 L578.62,327.56 L579.71,327.51 L580.79,327.46 L581.88,327.41 L582.96,327.36 L584.05,327.30 L585.13,327.25 L586.22,327.20 L587.30,327.14 L588.38,327.09 L589.47,327.03 L590.55,326.97 L591.64,326.91 L592.72,326.86 L593.81,326.80 L594.89,326.74 L595.98,326.68 L597.06,326.62 L598.15,326.55 L599.23,326.49 L600.32,326.43 L601.40,326.37 L602.48,326.30 L603.57,326.24 L604.65,326.17 L605.74,326.11 L606.82,326.04 L607.91,325.98 L608.99,325.91 L610.08,325.84 L611.16,325.78 L612.25,325.71 L613.33,325.64 L614.42,325.57 L615.50,325.50 L616.58,325.43 L617.67,325.36 L618.75,325.29 L619.84,325.22 L620.92,325.15 L622.01,325.07 L623.09,325.00 L624.18,324.92 L625.26,324.85 L626.35,324.77 L627.43,324.69 L628.52,324.61 L629.60,324.53 L630.68,324.44 L631.77,324.36 L632.85,324.27 L633.94,324.19 L635.02,324.10 L636.11,324.00 L637.19,323.91 L638.28,323.82 L639.36,323.72 L640.45,323.62 L641.53,323.52 L642.62,323.41 L643.70,323.31 L644.78,323.20 L645.87,323.09 L646.95,322.97 L648.04,322.86 L649.12,322.74 L650.21,322.62 L651.29,322.49 L652.38,322.36 L653.46,322.23 L654.55,322.10 L655.63,321.96 L656.72,321.83 L657.80,321.68 L658.88,321.54 L659.97,321.39 L661.05,321.24 L662.14,321.09 L663.22,320.93 L664.31,320.77 L665.39,320.61 L666.48,320.45 L667.56,320.28 L668.65,320.11 L669.73,319.94 L670.82,319.76 L671.90,319.58 L672.98,319.40 L674.07,319.21 L675.15,319.02 L676.24,318.83 L677.32,318.63 L678.41,318.44 L679.49,318.23 L680.58,318.03 L681.66,317.82 L682.75,317.60 L683.83,317.38 L684.92,317.16 L686.00,316.93 L687.08,316.70 L688.17,316.46 L689.25,316.21 L690.34,315.96 L691.42,315.71 L692.51,315.44 L693.59,315.17 L694.68,314.90 L695.76,314.61 L696.85,314.32 L697.93,314.03 L699.02,313.72 L700.10,313.41 L701.18,313.08 L702.27,312.75 L703.35,312.42 L704.44,312.07 L705.52,311.71 L706.61,311.35 L707.69,310.97 L708.78,310.59 L709.86,310.19 L710.95,309.79 L712.03,309.37 L713.12,308.93 L714.20,308.46 L715.28,307.97 L716.37,307.46 L717.45,306.92 L718.54,306.36 L719.62,305.78 L720.71,305.18 L721.79,304.55 L722.88,303.91 L723.96,303.24 L725.05,302.55 L726.13,301.85 L727.22,301.12 L728.30,300.38 L729.38,299.62 L730.47,298.84 L731.55,298.04 L732.64,297.22 L733.72,296.39 L734.81,295.54 L735.89,294.68 L736.98,293.80 L738.06,292.90 L739.15,291.99 L740.23,291.07 L741.32,290.13 L742.40,289.18 L743.48,288.21 L744.57,287.23 L745.65,286.24 L746.74,285.24 L747.82,284.22 L748.91,283.20 L749.99,282.16 L751.08,281.09 L752.16,279.96 L753.25,278.78 L754.33,277.56 L755.42,276.28 L756.50,274.96 L757.58,273.60 L758.67,272.19 L759.75,270.75 L760.84,269.27 L761.92,267.75 L763.01,266.20 L764.09,264.63 L765.18,263.02 L766.26,261.39 L767.35,259.73 L768.43,258.06 L769.52,256.36 L770.60,254.65 L771.68,252.92 L772.77,251.18 L773.85,249.43 L774.94,247.67 L776.02,245.90 L777.11,244.13 L778.19,242.36 L779.28,240.59 L780.36,238.81 L781.45,236.97 L782.53,235.09 L783.62,233.15 L784.70,231.18 L785.78,229.16 L786.87,227.10 L787.95,225.02 L789.04,222.91 L790.12,220.76 L791.21,218.57 L792.29,216.34 L793.38,214.07 L794.46,211.77 L795.55,209.43 L796.63,207.07 L797.72,204.69 L798.80,202.28 L799.88,199.86 L800.97,197.42 L802.05,194.97 L803.14,192.51 L804.22,190.05 L805.31,187.58 L806.39,185.12 L807.48,182.66 L808.56,180.21 L809.65,177.77 L810.73,175.35 L811.82,172.94 L812.90,170.56 L813.98,168.20 L815.07,165.86 L816.15,163.52 L817.24,161.17 L818.32,158.81 L819.41,156.45 L820.49,154.07 L821.58,151.69 L822.66,149.31 L823.75,146.93 L824.83,144.55 L825.92,142.16 L827.00,139.79 L828.08,137.41 L829.17,135.04 L830.25,132.68 L831.34,130.33 L832.42,127.99 L833.51,125.66 L834.59,123.34 L835.68,121.04 L836.76,118.75 L837.85,116.49 L838.93,114.24 L840.02,112.02 L841.10,109.81 L842.18,107.63 L843.27,105.48 L844.35,103.35 L845.44,101.26 L846.52,99.19 L847.61,97.16 L848.69,95.15 L849.78,93.19 L850.86,91.25 L851.95,89.34 L853.03,87.45 L854.12,85.59 L855.20,83.75 L856.28,81.93 L857.37,80.14 L858.45,78.36 L859.54,76.60 L860.62,74.86 L861.71,73.13 L862.79,71.41 L863.88,69.71 L864.96,68.02 L866.05,66.34 L867.13,64.66 L868.22,62.99 L869.30,61.33 L870.38,59.68 L871.47,58.02 L872.55,56.37 L873.64,54.72 L874.72,53.08 L875.81,51.45 L876.89,49.84 L877.98,48.23 L879.06,46.64 L880.15,45.06 L881.23,43.50 L882.32,41.95 L883.40,40.41 L884.48,38.88 L885.57,37.37 L886.65,35.88 L887.74,34.40 L888.82,32.94 L889.91,31.50 L890.99,30.07 L892.08,28.65 L893.16,27.25 L894.25,25.87 L895.33,24.50 L896.42,23.15 L897.50,21.80" stroke="#054605"/>
<path d="M573.20,327.80 L574.26,327.76 L575.32,327.72 L576.38,327.68 L577.45,327.64 L578.51,327.60 L579.57,327.56 L580.63,327.52 L581.69,327.48 L582.75,327.43 L583.82,327.39 L584.88,327.35 L585.94,327.31 L587.00,327.26 L588.06,327.22 L589.12,327.17 L590.18,327.13 L591.25,327.08 L592.31,327.04 L593.37,326.99 L594.43,326.95 L595.49,326.90 L596.55,326.86 L597.62,326.81 L598.68,326.76 L599.74,326.72 L600.80,326.67 L601.86,326.62 L602.92,326.57 L603.98,326.52 L605.05,326.47 L606.11,326.43 L607.17,326.38 L608.23,326.33 L609.29,326.28 L610.35,326.23 L611.42,326.18 L612.48,326.13 L613.54,326.08 L614.60,326.03 L615.66,325.99 L616.72,325.94 L617.78,325.89 L618.85,325.84 L619.91,325.79 L620.97,325.74 L622.03,325.69 L623.09,325.64 L624.15,325.59 L625.22,325.53 L626.28,325.48 L627.34,325.43 L628.40,325.37 L629.46,325.32 L630.52,325.26 L631.58,325.20 L632.65,325.14 L633.71,325.08 L634.77,325.02 L635.83,324.95 L636.89,324.89 L637.95,324.82 L639.02,324.76 L640.08,324.69 L641.14,324.61 L642.20,324.54 L643.26,324.47 L644.32,324.39 L645.38,324.31 L646.45,324.23 L647.51,324.14 L648.57,324.06 L649.63,323.97 L650.69,323.88 L651.75,323.78 L652.82,323.69 L653.88,323.59 L654.94,323.49 L656.00,323.39 L657.06,323.29 L658.12,323.18 L659.18,323.07 L660.25,322.96 L661.31,322.84 L662.37,322.73 L663.43,322.61 L664.49,322.49 L665.55,322.37 L666.62,322.24 L667.68,322.11 L668.74,321.98 L669.80,321.85 L670.86,321.71 L671.92,321.57 L672.98,321.43 L674.05,321.29 L675.11,321.14 L676.17,320.99 L677.23,320.84 L678.29,320.69 L679.35,320.52 L680.42,320.35 L681.48,320.18 L682.54,320.00 L683.60,319.81 L684.66,319.62 L685.72,319.42 L686.78,319.22 L687.85,319.01 L688.91,318.80 L689.97,318.58 L691.03,318.36 L692.09,318.13 L693.15,317.90 L694.22,317.66 L695.28,317.42 L696.34,317.18 L697.40,316.93 L698.46,316.67 L699.52,316.41 L700.58,316.15 L701.65,315.88 L702.71,315.61 L703.77,315.34 L704.83,315.06 L705.89,314.78 L706.95,314.49 L708.02,314.20 L709.08,313.91 L710.14,313.61 L711.20,313.31 L712.26,313.01 L713.32,312.69 L714.38,312.37 L715.45,312.03 L716.51,311.68 L717.57,311.32 L718.63,310.94 L719.69,310.56 L720.75,310.16 L721.82,309.75 L722.88,309.32 L723.94,308.88 L725.00,308.43 L726.06,307.96 L727.12,307.48 L728.18,306.98 L729.25,306.45 L730.31,305.90 L731.37,305.34 L732.43,304.75 L733.49,304.15 L734.55,303.53 L735.62,302.90 L736.68,302.25 L737.74,301.58 L738.80,300.90 L739.86,300.21 L740.92,299.50 L741.98,298.79 L743.05,298.06 L744.11,297.32 L745.17,296.58 L746.23,295.82 L747.29,295.06 L748.35,294.30 L749.42,293.52 L750.48,292.74 L751.54,291.94 L752.60,291.11 L753.66,290.26 L754.72,289.38 L755.78,288.47 L756.85,287.54 L757.91,286.57 L758.97,285.58 L760.03,284.55 L761.09,283.50 L762.15,282.45 L763.22,281.38 L764.28,280.29 L765.34,279.20 L766.40,278.09 L767.46,276.96 L768.52,275.82 L769.58,274.67 L770.65,273.50 L771.71,272.31 L772.77,271.10 L773.83,269.87 L774.89,268.63 L775.95,267.36 L777.02,266.07 L778.08,264.77 L779.14,263.44 L780.20,262.09 L781.26,260.71 L782.32,259.31 L783.38,257.89 L784.45,256.44 L785.51,254.96 L786.57,253.46 L787.63,251.93 L788.69,250.37 L789.75,248.79 L790.82,247.17 L791.88,245.52 L792.94,243.85 L794.00,242.14 L795.06,240.40 L796.12,238.58 L797.18,236.58 L798.25,234.43 L799.31,232.17 L800.37,229.83 L801.43,227.44 L802.49,225.04 L803.55,222.65 L804.62,220.32 L805.68,218.04 L806.74,215.77 L807.80,213.51 L808.86,211.25 L809.92,208.98 L810.98,206.68 L812.05,204.36 L813.11,202.00 L814.17,199.60 L815.23,197.14 L816.29,194.62 L817.35,192.03 L818.42,189.38 L819.48,186.67 L820.54,183.90 L821.60,181.09 L822.66,178.23 L823.72,175.34 L824.78,172.41 L825.85,169.46 L826.91,166.48 L827.97,163.49 L829.03,160.48 L830.09,157.48 L831.15,154.47 L832.22,151.46 L833.28,148.47 L834.34,145.50 L835.40,142.54 L836.46,139.62 L837.52,136.73 L838.58,133.87 L839.65,131.06 L840.71,128.30 L841.77,125.59 L842.83,122.94 L843.89,120.36 L844.95,117.84 L846.02,115.35 L847.08,112.90 L848.14,110.48 L849.20,108.08 L850.26,105.71 L851.32,103.36 L852.38,101.04 L853.45,98.74 L854.51,96.46 L855.57,94.20 L856.63,91.95 L857.69,89.72 L858.75,87.51 L859.82,85.30 L860.88,83.11 L861.94,80.93 L863.00,78.75 L864.06,76.59 L865.12,74.43 L866.18,72.27 L867.25,70.11 L868.31,67.96 L869.37,65.80 L870.43,63.65 L871.49,61.49 L872.55,59.32 L873.62,57.15 L874.68,55.00 L875.74,52.85 L876.80,50.71 L877.86,48.58 L878.92,46.46 L879.98,44.35 L881.05,42.24 L882.11,40.14 L883.17,38.05 L884.23,35.97 L885.29,33.89 L886.35,31.82 L887.42,29.76 L888.48,27.71 L889.54,25.66 L890.60,23.62" stroke="#022f02"/>
</g>
<g clip-path="url(#clipc)" fill="none" stroke-width="3.8" stroke-linejoin="round" stroke-linecap="butt" shape-rendering="crispEdges">
<path d="M1036.20,328.01 L1037.35,327.82 L1038.51,327.60 L1039.66,327.36 L1040.81,327.09 L1041.97,326.81 L1043.12,326.51 L1044.27,326.19 L1045.43,325.86 L1046.58,325.50 L1047.73,325.13 L1048.88,324.74 L1050.04,324.34 L1051.19,323.92 L1052.34,323.49 L1053.50,323.04 L1054.65,322.58 L1055.80,322.11 L1056.96,321.63 L1058.11,321.13 L1059.26,320.63 L1060.42,320.11 L1061.57,319.58 L1062.72,319.05 L1063.88,318.51 L1065.03,317.96 L1066.18,317.40 L1067.34,316.83 L1068.49,316.26 L1069.64,315.69 L1070.80,315.11 L1071.95,314.53 L1073.10,313.94 L1074.25,313.35 L1075.41,312.76 L1076.56,312.16 L1077.71,311.57 L1078.87,310.97 L1080.02,310.38 L1081.17,309.78 L1082.33,309.19 L1083.48,308.60 L1084.63,308.01 L1085.79,307.43 L1086.94,306.85 L1088.09,306.27 L1089.25,305.69 L1090.40,305.12 L1091.55,304.56 L1092.71,304.00 L1093.86,303.44 L1095.01,302.89 L1096.17,302.35 L1097.32,301.81 L1098.47,301.28 L1099.62,300.76 L1100.78,300.24 L1101.93,299.73 L1103.08,299.23 L1104.24,298.74 L1105.39,298.25 L1106.54,297.78 L1107.70,297.31 L1108.85,296.86 L1110.00,296.41 L1111.16,295.97 L1112.31,295.54 L1113.46,295.11 L1114.62,294.69 L1115.77,294.28 L1116.92,293.88 L1118.08,293.48 L1119.23,293.09 L1120.38,292.71 L1121.54,292.33 L1122.69,291.95 L1123.84,291.58 L1124.99,291.22 L1126.15,290.86 L1127.30,290.50 L1128.45,290.15 L1129.61,289.80 L1130.76,289.45 L1131.91,289.10 L1133.07,288.76 L1134.22,288.42 L1135.37,288.08 L1136.53,287.74 L1137.68,287.41 L1138.83,287.07 L1139.99,286.74 L1141.14,286.40 L1142.29,286.07 L1143.45,285.73 L1144.60,285.39 L1145.75,285.05 L1146.91,284.71 L1148.06,284.37 L1149.21,284.03 L1150.36,283.69 L1151.52,283.34 L1152.67,282.99 L1153.82,282.65 L1154.98,282.29 L1156.13,281.94 L1157.28,281.59 L1158.44,281.24 L1159.59,280.88 L1160.74,280.52 L1161.90,280.16 L1163.05,279.80 L1164.20,279.44 L1165.36,279.08 L1166.51,278.71 L1167.66,278.34 L1168.82,277.98 L1169.97,277.61 L1171.12,277.23 L1172.27,276.86 L1173.43,276.49 L1174.58,276.11 L1175.73,275.73 L1176.89,275.36 L1178.04,274.98 L1179.19,274.59 L1180.35,274.21 L1181.50,273.83 L1182.65,273.44 L1183.81,273.05 L1184.96,272.66 L1186.11,272.27 L1187.27,271.88 L1188.42,271.49 L1189.57,271.09 L1190.73,270.70 L1191.88,270.30 L1193.03,269.90 L1194.19,269.50 L1195.34,269.10 L1196.49,268.70 L1197.64,268.29 L1198.80,267.89 L1199.95,267.48 L1201.10,267.07 L1202.26,266.66 L1203.41,266.25 L1204.56,265.83 L1205.72,265.42 L1206.87,265.00 L1208.02,264.58 L1209.18,264.17 L1210.33,263.75 L1211.48,263.32 L1212.64,262.90 L1213.79,262.48 L1214.94,262.05 L1216.10,261.62 L1217.25,261.19 L1218.40,260.76 L1219.56,260.33 L1220.71,259.90 L1221.86,259.46 L1223.01,259.03 L1224.17,258.59 L1225.32,258.15 L1226.47,257.71 L1227.63,257.27 L1228.78,256.83 L1229.93,256.39 L1231.09,255.94 L1232.24,255.49 L1233.39,255.05 L1234.55,254.60 L1235.70,254.15 L1236.85,253.69 L1238.01,253.24 L1239.16,252.78 L1240.31,252.33 L1241.47,251.87 L1242.62,251.41 L1243.77,250.95 L1244.93,250.49 L1246.08,250.03 L1247.23,249.56 L1248.38,249.10 L1249.54,248.63 L1250.69,248.16 L1251.84,247.69 L1253.00,247.22 L1254.15,246.75 L1255.30,246.27 L1256.46,245.80 L1257.61,245.32 L1258.76,244.85 L1259.92,244.37 L1261.07,243.89 L1262.22,243.41 L1263.38,242.92 L1264.53,242.44 L1265.68,241.95 L1266.84,241.47 L1267.99,240.98 L1269.14,240.49 L1270.29,240.00 L1271.45,239.51 L1272.60,239.01 L1273.75,238.52 L1274.91,238.02 L1276.06,237.53 L1277.21,237.03 L1278.37,236.53 L1279.52,236.03 L1280.67,235.52 L1281.83,235.02 L1282.98,234.52 L1284.13,234.01 L1285.29,233.50 L1286.44,233.00 L1287.59,232.49 L1288.75,231.97 L1289.90,231.46 L1291.05,230.95 L1292.21,230.43 L1293.36,229.92 L1294.51,229.40 L1295.66,228.88 L1296.82,228.36 L1297.97,227.84 L1299.12,227.32 L1300.28,226.80 L1301.43,226.27 L1302.58,225.74 L1303.74,225.22 L1304.89,224.69 L1306.04,224.16 L1307.20,223.63 L1308.35,223.10 L1309.50,222.56 L1310.66,222.03 L1311.81,221.49 L1312.96,220.96 L1314.12,220.42 L1315.27,219.88 L1316.42,219.34 L1317.58,218.80 L1318.73,218.25 L1319.88,217.71 L1321.03,217.16 L1322.19,216.62 L1323.34,216.07 L1324.49,215.52 L1325.65,214.97 L1326.80,214.42 L1327.95,213.87 L1329.11,213.31 L1330.26,212.76 L1331.41,212.20 L1332.57,211.64 L1333.72,211.09 L1334.87,210.53 L1336.03,209.97 L1337.18,209.40 L1338.33,208.84 L1339.49,208.28 L1340.64,207.71 L1341.79,207.14 L1342.95,206.58 L1344.10,206.01 L1345.25,205.44 L1346.40,204.87 L1347.56,204.29 L1348.71,203.72 L1349.86,203.15 L1351.02,202.57 L1352.17,201.99 L1353.32,201.42 L1354.48,200.84 L1355.63,200.26 L1356.78,199.68 L1357.94,199.09 L1359.09,198.51 L1360.24,197.92 L1361.40,197.34 L1362.55,196.75 L1363.70,196.16 L1364.86,195.57 L1366.01,194.98 L1367.16,194.39 L1368.32,193.80 L1369.47,193.21 L1370.62,192.61 L1371.77,192.02 L1372.93,191.42 L1374.08,190.82 L1375.23,190.22 L1376.39,189.62 L1377.54,189.02 L1378.69,188.42 L1379.85,187.81 L1381.00,187.21" stroke="#ffe100"/>
<path d="M1036.20,328.03 L1037.35,327.80 L1038.51,327.54 L1039.66,327.28 L1040.81,326.99 L1041.97,326.70 L1043.12,326.39 L1044.27,326.06 L1045.43,325.72 L1046.58,325.37 L1047.73,325.00 L1048.88,324.63 L1050.04,324.23 L1051.19,323.83 L1052.34,323.42 L1053.50,322.99 L1054.65,322.55 L1055.80,322.10 L1056.96,321.64 L1058.11,321.17 L1059.26,320.69 L1060.42,320.20 L1061.57,319.70 L1062.72,319.18 L1063.88,318.67 L1065.03,318.14 L1066.18,317.60 L1067.34,317.05 L1068.49,316.50 L1069.64,315.94 L1070.80,315.37 L1071.95,314.79 L1073.10,314.21 L1074.25,313.62 L1075.41,313.02 L1076.56,312.42 L1077.71,311.81 L1078.87,311.20 L1080.02,310.58 L1081.17,309.96 L1082.33,309.33 L1083.48,308.70 L1084.63,308.06 L1085.79,307.42 L1086.94,306.78 L1088.09,306.13 L1089.25,305.48 L1090.40,304.83 L1091.55,304.17 L1092.71,303.52 L1093.86,302.86 L1095.01,302.20 L1096.17,301.53 L1097.32,300.87 L1098.47,300.21 L1099.62,299.54 L1100.78,298.88 L1101.93,298.22 L1103.08,297.55 L1104.24,296.89 L1105.39,296.23 L1106.54,295.57 L1107.70,294.91 L1108.85,294.25 L1110.00,293.60 L1111.16,292.94 L1112.31,292.29 L1113.46,291.64 L1114.62,290.99 L1115.77,290.35 L1116.92,289.70 L1118.08,289.06 L1119.23,288.42 L1120.38,287.78 L1121.54,287.15 L1122.69,286.52 L1123.84,285.89 L1124.99,285.26 L1126.15,284.64 L1127.30,284.01 L1128.45,283.39 L1129.61,282.78 L1130.76,282.16 L1131.91,281.55 L1133.07,280.95 L1134.22,280.34 L1135.37,279.74 L1136.53,279.14 L1137.68,278.55 L1138.83,277.96 L1139.99,277.37 L1141.14,276.79 L1142.29,276.21 L1143.45,275.63 L1144.60,275.06 L1145.75,274.49 L1146.91,273.93 L1148.06,273.36 L1149.21,272.81 L1150.36,272.25 L1151.52,271.70 L1152.67,271.16 L1153.82,270.61 L1154.98,270.07 L1156.13,269.54 L1157.28,269.01 L1158.44,268.48 L1159.59,267.95 L1160.74,267.42 L1161.90,266.90 L1163.05,266.39 L1164.20,265.87 L1165.36,265.36 L1166.51,264.85 L1167.66,264.34 L1168.82,263.84 L1169.97,263.33 L1171.12,262.83 L1172.27,262.33 L1173.43,261.84 L1174.58,261.34 L1175.73,260.85 L1176.89,260.36 L1178.04,259.87 L1179.19,259.39 L1180.35,258.90 L1181.50,258.42 L1182.65,257.94 L1183.81,257.45 L1184.96,256.98 L1186.11,256.50 L1187.27,256.02 L1188.42,255.54 L1189.57,255.07 L1190.73,254.60 L1191.88,254.12 L1193.03,253.65 L1194.19,253.18 L1195.34,252.71 L1196.49,252.24 L1197.64,251.77 L1198.80,251.30 L1199.95,250.83 L1201.10,250.36 L1202.26,249.89 L1203.41,249.42 L1204.56,248.95 L1205.72,248.48 L1206.87,248.01 L1208.02,247.54 L1209.18,247.07 L1210.33,246.60 L1211.48,246.13 L1212.64,245.66 L1213.79,245.19 L1214.94,244.72 L1216.10,244.24 L1217.25,243.77 L1218.40,243.29 L1219.56,242.81 L1220.71,242.34 L1221.86,241.86 L1223.01,241.38 L1224.17,240.90 L1225.32,240.41 L1226.47,239.93 L1227.63,239.44 L1228.78,238.95 L1229.93,238.46 L1231.09,237.97 L1232.24,237.48 L1233.39,236.98 L1234.55,236.48 L1235.70,235.98 L1236.85,235.48 L1238.01,234.98 L1239.16,234.47 L1240.31,233.96 L1241.47,233.45 L1242.62,232.93 L1243.77,232.42 L1244.93,231.90 L1246.08,231.37 L1247.23,230.85 L1248.38,230.32 L1249.54,229.79 L1250.69,229.25 L1251.84,228.71 L1253.00,228.17 L1254.15,227.62 L1255.30,227.07 L1256.46,226.52 L1257.61,225.96 L1258.76,225.40 L1259.92,224.84 L1261.07,224.27 L1262.22,223.70 L1263.38,223.12 L1264.53,222.54 L1265.68,221.96 L1266.84,221.37 L1267.99,220.78 L1269.14,220.18 L1270.29,219.58 L1271.45,218.97 L1272.60,218.36 L1273.75,217.74 L1274.91,217.12 L1276.06,216.50 L1277.21,215.87 L1278.37,215.24 L1279.52,214.60 L1280.67,213.96 L1281.83,213.31 L1282.98,212.66 L1284.13,212.01 L1285.29,211.35 L1286.44,210.69 L1287.59,210.03 L1288.75,209.36 L1289.90,208.69 L1291.05,208.01 L1292.21,207.34 L1293.36,206.66 L1294.51,205.97 L1295.66,205.28 L1296.82,204.59 L1297.97,203.90 L1299.12,203.20 L1300.28,202.50 L1301.43,201.80 L1302.58,201.10 L1303.74,200.39 L1304.89,199.68 L1306.04,198.97 L1307.20,198.25 L1308.35,197.53 L1309.50,196.81 L1310.66,196.09 L1311.81,195.37 L1312.96,194.64 L1314.12,193.92 L1315.27,193.19 L1316.42,192.45 L1317.58,191.72 L1318.73,190.98 L1319.88,190.25 L1321.03,189.51 L1322.19,188.77 L1323.34,188.03 L1324.49,187.29 L1325.65,186.54 L1326.80,185.80 L1327.95,185.05 L1329.11,184.30 L1330.26,183.55 L1331.41,182.81 L1332.57,182.06 L1333.72,181.30 L1334.87,180.55 L1336.03,179.80 L1337.18,179.05 L1338.33,178.29 L1339.49,177.54 L1340.64,176.79 L1341.79,176.03 L1342.95,175.28 L1344.10,174.52 L1345.25,173.77 L1346.40,173.01 L1347.56,172.26 L1348.71,171.50 L1349.86,170.75 L1351.02,170.00 L1352.17,169.24 L1353.32,168.49 L1354.48,167.74 L1355.63,166.98 L1356.78,166.23 L1357.94,165.48 L1359.09,164.73 L1360.24,163.98 L1361.40,163.23 L1362.55,162.49 L1363.70,161.74 L1364.86,160.99 L1366.01,160.25 L1367.16,159.51 L1368.32,158.77 L1369.47,158.03 L1370.62,157.29 L1371.77,156.55 L1372.93,155.82 L1374.08,155.08 L1375.23,154.35 L1376.39,153.62 L1377.54,152.89 L1378.69,152.17 L1379.85,151.44 L1381.00,150.72" stroke="#ffa800"/>
<path d="M1036.20,328.11 L1037.35,327.96 L1038.51,327.80 L1039.66,327.62 L1040.81,327.43 L1041.97,327.23 L1043.12,327.02 L1044.27,326.79 L1045.43,326.55 L1046.58,326.29 L1047.73,326.03 L1048.88,325.75 L1050.04,325.46 L1051.19,325.15 L1052.34,324.83 L1053.50,324.51 L1054.65,324.17 L1055.80,323.82 L1056.96,323.45 L1058.11,323.08 L1059.26,322.69 L1060.42,322.30 L1061.57,321.89 L1062.72,321.47 L1063.88,321.05 L1065.03,320.61 L1066.18,320.16 L1067.34,319.70 L1068.49,319.23 L1069.64,318.76 L1070.80,318.27 L1071.95,317.77 L1073.10,317.27 L1074.25,316.75 L1075.41,316.23 L1076.56,315.70 L1077.71,315.16 L1078.87,314.61 L1080.02,314.06 L1081.17,313.49 L1082.33,312.92 L1083.48,312.34 L1084.63,311.75 L1085.79,311.16 L1086.94,310.56 L1088.09,309.95 L1089.25,309.33 L1090.40,308.71 L1091.55,308.08 L1092.71,307.45 L1093.86,306.81 L1095.01,306.16 L1096.17,305.51 L1097.32,304.85 L1098.47,304.18 L1099.62,303.51 L1100.78,302.84 L1101.93,302.16 L1103.08,301.48 L1104.24,300.79 L1105.39,300.09 L1106.54,299.40 L1107.70,298.69 L1108.85,297.99 L1110.00,297.28 L1111.16,296.57 L1112.31,295.85 L1113.46,295.13 L1114.62,294.40 L1115.77,293.68 L1116.92,292.95 L1118.08,292.22 L1119.23,291.48 L1120.38,290.74 L1121.54,290.01 L1122.69,289.26 L1123.84,288.52 L1124.99,287.78 L1126.15,287.03 L1127.30,286.28 L1128.45,285.53 L1129.61,284.78 L1130.76,284.03 L1131.91,283.28 L1133.07,282.53 L1134.22,281.77 L1135.37,281.02 L1136.53,280.27 L1137.68,279.52 L1138.83,278.76 L1139.99,278.01 L1141.14,277.26 L1142.29,276.51 L1143.45,275.76 L1144.60,275.01 L1145.75,274.26 L1146.91,273.51 L1148.06,272.77 L1149.21,272.03 L1150.36,271.28 L1151.52,270.54 L1152.67,269.80 L1153.82,269.07 L1154.98,268.33 L1156.13,267.59 L1157.28,266.86 L1158.44,266.13 L1159.59,265.40 L1160.74,264.67 L1161.90,263.94 L1163.05,263.21 L1164.20,262.49 L1165.36,261.76 L1166.51,261.04 L1167.66,260.32 L1168.82,259.60 L1169.97,258.88 L1171.12,258.16 L1172.27,257.45 L1173.43,256.73 L1174.58,256.02 L1175.73,255.30 L1176.89,254.59 L1178.04,253.88 L1179.19,253.18 L1180.35,252.47 L1181.50,251.76 L1182.65,251.06 L1183.81,250.35 L1184.96,249.65 L1186.11,248.95 L1187.27,248.25 L1188.42,247.55 L1189.57,246.85 L1190.73,246.16 L1191.88,245.46 L1193.03,244.77 L1194.19,244.08 L1195.34,243.39 L1196.49,242.70 L1197.64,242.01 L1198.80,241.32 L1199.95,240.63 L1201.10,239.95 L1202.26,239.26 L1203.41,238.58 L1204.56,237.90 L1205.72,237.22 L1206.87,236.54 L1208.02,235.86 L1209.18,235.18 L1210.33,234.50 L1211.48,233.83 L1212.64,233.15 L1213.79,232.48 L1214.94,231.81 L1216.10,231.14 L1217.25,230.47 L1218.40,229.80 L1219.56,229.13 L1220.71,228.46 L1221.86,227.80 L1223.01,227.13 L1224.17,226.47 L1225.32,225.81 L1226.47,225.15 L1227.63,224.49 L1228.78,223.83 L1229.93,223.17 L1231.09,222.51 L1232.24,221.85 L1233.39,221.20 L1234.55,220.54 L1235.70,219.89 L1236.85,219.24 L1238.01,218.59 L1239.16,217.94 L1240.31,217.29 L1241.47,216.64 L1242.62,215.99 L1243.77,215.34 L1244.93,214.70 L1246.08,214.05 L1247.23,213.41 L1248.38,212.77 L1249.54,212.13 L1250.69,211.48 L1251.84,210.84 L1253.00,210.20 L1254.15,209.57 L1255.30,208.93 L1256.46,208.29 L1257.61,207.66 L1258.76,207.02 L1259.92,206.39 L1261.07,205.75 L1262.22,205.12 L1263.38,204.49 L1264.53,203.86 L1265.68,203.23 L1266.84,202.60 L1267.99,201.97 L1269.14,201.35 L1270.29,200.72 L1271.45,200.09 L1272.60,199.47 L1273.75,198.84 L1274.91,198.22 L1276.06,197.59 L1277.21,196.97 L1278.37,196.35 L1279.52,195.72 L1280.67,195.10 L1281.83,194.47 L1282.98,193.85 L1284.13,193.22 L1285.29,192.60 L1286.44,191.97 L1287.59,191.34 L1288.75,190.71 L1289.90,190.08 L1291.05,189.45 L1292.21,188.81 L1293.36,188.18 L1294.51,187.54 L1295.66,186.90 L1296.82,186.25 L1297.97,185.61 L1299.12,184.96 L1300.28,184.31 L1301.43,183.66 L1302.58,183.01 L1303.74,182.35 L1304.89,181.69 L1306.04,181.02 L1307.20,180.36 L1308.35,179.69 L1309.50,179.01 L1310.66,178.33 L1311.81,177.65 L1312.96,176.97 L1314.12,176.28 L1315.27,175.58 L1316.42,174.88 L1317.58,174.18 L1318.73,173.47 L1319.88,172.76 L1321.03,172.04 L1322.19,171.32 L1323.34,170.59 L1324.49,169.86 L1325.65,169.12 L1326.80,168.37 L1327.95,167.62 L1329.11,166.87 L1330.26,166.10 L1331.41,165.34 L1332.57,164.56 L1333.72,163.78 L1334.87,162.99 L1336.03,162.20 L1337.18,161.40 L1338.33,160.59 L1339.49,159.78 L1340.64,158.95 L1341.79,158.12 L1342.95,157.29 L1344.10,156.44 L1345.25,155.59 L1346.40,154.73 L1347.56,153.86 L1348.71,152.99 L1349.86,152.10 L1351.02,151.21 L1352.17,150.31 L1353.32,149.40 L1354.48,148.48 L1355.63,147.55 L1356.78,146.62 L1357.94,145.67 L1359.09,144.72 L1360.24,143.75 L1361.40,142.78 L1362.55,141.79 L1363.70,140.80 L1364.86,139.79 L1366.01,138.78 L1367.16,137.76 L1368.32,136.72 L1369.47,135.68 L1370.62,134.62 L1371.77,133.56 L1372.93,132.48 L1374.08,131.39 L1375.23,130.29 L1376.39,129.18 L1377.54,128.06 L1378.69,126.92 L1379.85,125.78 L1381.00,124.62" stroke="#ff7400"/>
<path d="M1036.20,327.77 L1037.35,327.59 L1038.51,327.42 L1039.66,327.25 L1040.81,327.08 L1041.97,326.91 L1043.12,326.75 L1044.27,326.59 L1045.43,326.43 L1046.58,326.27 L1047.73,326.12 L1048.88,325.96 L1050.04,325.80 L1051.19,325.65 L1052.34,325.49 L1053.50,325.34 L1054.65,325.18 L1055.80,325.02 L1056.96,324.86 L1058.11,324.69 L1059.26,324.53 L1060.42,324.36 L1061.57,324.18 L1062.72,324.01 L1063.88,323.83 L1065.03,323.64 L1066.18,323.45 L1067.34,323.25 L1068.49,323.05 L1069.64,322.85 L1070.80,322.63 L1071.95,322.41 L1073.10,322.18 L1074.25,321.95 L1075.41,321.71 L1076.56,321.45 L1077.71,321.19 L1078.87,320.93 L1080.02,320.65 L1081.17,320.36 L1082.33,320.06 L1083.48,319.75 L1084.63,319.43 L1085.79,319.10 L1086.94,318.76 L1088.09,318.41 L1089.25,318.04 L1090.40,317.66 L1091.55,317.27 L1092.71,316.87 L1093.86,316.45 L1095.01,316.01 L1096.17,315.57 L1097.32,315.10 L1098.47,314.63 L1099.62,314.13 L1100.78,313.62 L1101.93,313.10 L1103.08,312.55 L1104.24,311.99 L1105.39,311.42 L1106.54,310.82 L1107.70,310.21 L1108.85,309.58 L1110.00,308.93 L1111.16,308.26 L1112.31,307.58 L1113.46,306.88 L1114.62,306.17 L1115.77,305.43 L1116.92,304.69 L1118.08,303.92 L1119.23,303.15 L1120.38,302.35 L1121.54,301.55 L1122.69,300.72 L1123.84,299.89 L1124.99,299.04 L1126.15,298.17 L1127.30,297.30 L1128.45,296.41 L1129.61,295.50 L1130.76,294.59 L1131.91,293.66 L1133.07,292.73 L1134.22,291.78 L1135.37,290.82 L1136.53,289.86 L1137.68,288.89 L1138.83,287.91 L1139.99,286.93 L1141.14,285.94 L1142.29,284.95 L1143.45,283.95 L1144.60,282.95 L1145.75,281.95 L1146.91,280.95 L1148.06,279.95 L1149.21,278.95 L1150.36,277.95 L1151.52,276.95 L1152.67,275.95 L1153.82,274.95 L1154.98,273.95 L1156.13,272.95 L1157.28,271.95 L1158.44,270.95 L1159.59,269.95 L1160.74,268.95 L1161.90,267.96 L1163.05,266.96 L1164.20,265.96 L1165.36,264.96 L1166.51,263.97 L1167.66,262.97 L1168.82,261.98 L1169.97,260.98 L1171.12,259.99 L1172.27,259.00 L1173.43,258.01 L1174.58,257.02 L1175.73,256.03 L1176.89,255.04 L1178.04,254.06 L1179.19,253.07 L1180.35,252.09 L1181.50,251.11 L1182.65,250.13 L1183.81,249.15 L1184.96,248.18 L1186.11,247.20 L1187.27,246.23 L1188.42,245.26 L1189.57,244.29 L1190.73,243.32 L1191.88,242.36 L1193.03,241.39 L1194.19,240.43 L1195.34,239.48 L1196.49,238.52 L1197.64,237.57 L1198.80,236.62 L1199.95,235.67 L1201.10,234.72 L1202.26,233.78 L1203.41,232.84 L1204.56,231.90 L1205.72,230.97 L1206.87,230.04 L1208.02,229.11 L1209.18,228.18 L1210.33,227.26 L1211.48,226.34 L1212.64,225.42 L1213.79,224.51 L1214.94,223.60 L1216.10,222.69 L1217.25,221.79 L1218.40,220.89 L1219.56,220.00 L1220.71,219.10 L1221.86,218.22 L1223.01,217.33 L1224.17,216.45 L1225.32,215.58 L1226.47,214.70 L1227.63,213.83 L1228.78,212.97 L1229.93,212.11 L1231.09,211.25 L1232.24,210.40 L1233.39,209.55 L1234.55,208.71 L1235.70,207.87 L1236.85,207.04 L1238.01,206.21 L1239.16,205.38 L1240.31,204.56 L1241.47,203.75 L1242.62,202.94 L1243.77,202.13 L1244.93,201.33 L1246.08,200.54 L1247.23,199.75 L1248.38,198.96 L1249.54,198.18 L1250.69,197.41 L1251.84,196.64 L1253.00,195.88 L1254.15,195.12 L1255.30,194.37 L1256.46,193.62 L1257.61,192.88 L1258.76,192.14 L1259.92,191.41 L1261.07,190.69 L1262.22,189.97 L1263.38,189.26 L1264.53,188.55 L1265.68,187.85 L1266.84,187.16 L1267.99,186.47 L1269.14,185.79 L1270.29,185.12 L1271.45,184.45 L1272.60,183.79 L1273.75,183.13 L1274.91,182.48 L1276.06,181.83 L1277.21,181.19 L1278.37,180.56 L1279.52,179.93 L1280.67,179.30 L1281.83,178.67 L1282.98,178.06 L1284.13,177.44 L1285.29,176.83 L1286.44,176.22 L1287.59,175.61 L1288.75,175.00 L1289.90,174.40 L1291.05,173.80 L1292.21,173.19 L1293.36,172.60 L1294.51,172.00 L1295.66,171.40 L1296.82,170.80 L1297.97,170.20 L1299.12,169.60 L1300.28,169.01 L1301.43,168.41 L1302.58,167.81 L1303.74,167.20 L1304.89,166.60 L1306.04,166.00 L1307.20,165.39 L1308.35,164.78 L1309.50,164.16 L1310.66,163.55 L1311.81,162.93 L1312.96,162.31 L1314.12,161.68 L1315.27,161.05 L1316.42,160.41 L1317.58,159.77 L1318.73,159.13 L1319.88,158.48 L1321.03,157.82 L1322.19,157.16 L1323.34,156.49 L1324.49,155.82 L1325.65,155.14 L1326.80,154.45 L1327.95,153.76 L1329.11,153.06 L1330.26,152.35 L1331.41,151.63 L1332.57,150.90 L1333.72,150.17 L1334.87,149.42 L1336.03,148.67 L1337.18,147.91 L1338.33,147.14 L1339.49,146.36 L1340.64,145.56 L1341.79,144.76 L1342.95,143.95 L1344.10,143.13 L1345.25,142.29 L1346.40,141.44 L1347.56,140.58 L1348.71,139.71 L1349.86,138.83 L1351.02,137.93 L1352.17,137.02 L1353.32,136.10 L1354.48,135.16 L1355.63,134.21 L1356.78,133.25 L1357.94,132.27 L1359.09,131.28 L1360.24,130.27 L1361.40,129.25 L1362.55,128.21 L1363.70,127.15 L1364.86,126.08 L1366.01,125.00 L1367.16,123.89 L1368.32,122.77 L1369.47,121.64 L1370.62,120.48 L1371.77,119.31 L1372.93,118.12 L1374.08,116.91 L1375.23,115.68 L1376.39,114.44 L1377.54,113.17 L1378.69,111.89 L1379.85,110.58 L1381.00,109.26" stroke="#ff4600"/>
<path d="M1036.20,327.25 L1037.35,327.23 L1038.51,327.21 L1039.66,327.19 L1040.81,327.17 L1041.97,327.14 L1043.12,327.10 L1044.27,327.07 L1045.43,327.03 L1046.58,326.98 L1047.73,326.93 L1048.88,326.88 L1050.04,326.82 L1051.19,326.75 L1052.34,326.69 L1053.50,326.61 L1054.65,326.53 L1055.80,326.45 L1056.96,326.36 L1058.11,326.27 L1059.26,326.17 L1060.42,326.06 L1061.57,325.95 L1062.72,325.83 L1063.88,325.70 L1065.03,325.57 L1066.18,325.44 L1067.34,325.29 L1068.49,325.14 L1069.64,324.99 L1070.80,324.82 L1071.95,324.65 L1073.10,324.47 L1074.25,324.28 L1075.41,324.09 L1076.56,323.89 L1077.71,323.68 L1078.87,323.46 L1080.02,323.24 L1081.17,323.01 L1082.33,322.77 L1083.48,322.52 L1084.63,322.26 L1085.79,321.99 L1086.94,321.71 L1088.09,321.43 L1089.25,321.14 L1090.40,320.83 L1091.55,320.52 L1092.71,320.20 L1093.86,319.87 L1095.01,319.53 L1096.17,319.17 L1097.32,318.81 L1098.47,318.44 L1099.62,318.06 L1100.78,317.67 L1101.93,317.27 L1103.08,316.85 L1104.24,316.43 L1105.39,315.99 L1106.54,315.55 L1107.70,315.09 L1108.85,314.62 L1110.00,314.14 L1111.16,313.65 L1112.31,313.15 L1113.46,312.63 L1114.62,312.10 L1115.77,311.57 L1116.92,311.01 L1118.08,310.45 L1119.23,309.87 L1120.38,309.28 L1121.54,308.68 L1122.69,308.07 L1123.84,307.44 L1124.99,306.80 L1126.15,306.14 L1127.30,305.48 L1128.45,304.80 L1129.61,304.10 L1130.76,303.39 L1131.91,302.67 L1133.07,301.93 L1134.22,301.18 L1135.37,300.41 L1136.53,299.63 L1137.68,298.84 L1138.83,298.03 L1139.99,297.21 L1141.14,296.37 L1142.29,295.51 L1143.45,294.64 L1144.60,293.76 L1145.75,292.86 L1146.91,291.94 L1148.06,291.01 L1149.21,290.06 L1150.36,289.10 L1151.52,288.12 L1152.67,287.13 L1153.82,286.13 L1154.98,285.11 L1156.13,284.08 L1157.28,283.03 L1158.44,281.98 L1159.59,280.91 L1160.74,279.83 L1161.90,278.74 L1163.05,277.63 L1164.20,276.52 L1165.36,275.40 L1166.51,274.26 L1167.66,273.12 L1168.82,271.96 L1169.97,270.80 L1171.12,269.63 L1172.27,268.44 L1173.43,267.26 L1174.58,266.06 L1175.73,264.85 L1176.89,263.64 L1178.04,262.42 L1179.19,261.20 L1180.35,259.97 L1181.50,258.73 L1182.65,257.48 L1183.81,256.24 L1184.96,254.98 L1186.11,253.72 L1187.27,252.46 L1188.42,251.19 L1189.57,249.92 L1190.73,248.65 L1191.88,247.37 L1193.03,246.09 L1194.19,244.81 L1195.34,243.53 L1196.49,242.24 L1197.64,240.95 L1198.80,239.67 L1199.95,238.38 L1201.10,237.09 L1202.26,235.80 L1203.41,234.51 L1204.56,233.22 L1205.72,231.93 L1206.87,230.65 L1208.02,229.36 L1209.18,228.08 L1210.33,226.80 L1211.48,225.52 L1212.64,224.25 L1213.79,222.97 L1214.94,221.71 L1216.10,220.44 L1217.25,219.18 L1218.40,217.92 L1219.56,216.67 L1220.71,215.43 L1221.86,214.19 L1223.01,212.95 L1224.17,211.72 L1225.32,210.50 L1226.47,209.28 L1227.63,208.08 L1228.78,206.88 L1229.93,205.68 L1231.09,204.50 L1232.24,203.32 L1233.39,202.15 L1234.55,200.99 L1235.70,199.84 L1236.85,198.70 L1238.01,197.56 L1239.16,196.43 L1240.31,195.31 L1241.47,194.21 L1242.62,193.10 L1243.77,192.01 L1244.93,190.93 L1246.08,189.85 L1247.23,188.79 L1248.38,187.73 L1249.54,186.68 L1250.69,185.64 L1251.84,184.61 L1253.00,183.59 L1254.15,182.58 L1255.30,181.58 L1256.46,180.58 L1257.61,179.60 L1258.76,178.63 L1259.92,177.66 L1261.07,176.71 L1262.22,175.76 L1263.38,174.82 L1264.53,173.90 L1265.68,172.98 L1266.84,172.07 L1267.99,171.18 L1269.14,170.29 L1270.29,169.41 L1271.45,168.54 L1272.60,167.68 L1273.75,166.84 L1274.91,166.00 L1276.06,165.17 L1277.21,164.34 L1278.37,163.53 L1279.52,162.73 L1280.67,161.93 L1281.83,161.14 L1282.98,160.35 L1284.13,159.58 L1285.29,158.81 L1286.44,158.05 L1287.59,157.29 L1288.75,156.54 L1289.90,155.80 L1291.05,155.06 L1292.21,154.33 L1293.36,153.60 L1294.51,152.88 L1295.66,152.16 L1296.82,151.44 L1297.97,150.73 L1299.12,150.02 L1300.28,149.32 L1301.43,148.62 L1302.58,147.92 L1303.74,147.23 L1304.89,146.53 L1306.04,145.84 L1307.20,145.16 L1308.35,144.47 L1309.50,143.78 L1310.66,143.10 L1311.81,142.42 L1312.96,141.73 L1314.12,141.05 L1315.27,140.37 L1316.42,139.69 L1317.58,139.00 L1318.73,138.32 L1319.88,137.63 L1321.03,136.95 L1322.19,136.26 L1323.34,135.57 L1324.49,134.88 L1325.65,134.19 L1326.80,133.49 L1327.95,132.79 L1329.11,132.09 L1330.26,131.39 L1331.41,130.68 L1332.57,129.97 L1333.72,129.25 L1334.87,128.53 L1336.03,127.80 L1337.18,127.07 L1338.33,126.34 L1339.49,125.60 L1340.64,124.85 L1341.79,124.10 L1342.95,123.34 L1344.10,122.58 L1345.25,121.81 L1346.40,121.03 L1347.56,120.24 L1348.71,119.45 L1349.86,118.65 L1351.02,117.84 L1352.17,117.03 L1353.32,116.20 L1354.48,115.37 L1355.63,114.53 L1356.78,113.67 L1357.94,112.81 L1359.09,111.94 L1360.24,111.06 L1361.40,110.17 L1362.55,109.27 L1363.70,108.35 L1364.86,107.43 L1366.01,106.49 L1367.16,105.55 L1368.32,104.59 L1369.47,103.62 L1370.62,102.63 L1371.77,101.64 L1372.93,100.63 L1374.08,99.61 L1375.23,98.57 L1376.39,97.53 L1377.54,96.46 L1378.69,95.39 L1379.85,94.29 L1381.00,93.19" stroke="#ff1400"/>
<path d="M1036.20,328.33 L1037.35,328.13 L1038.51,327.94 L1039.66,327.76 L1040.81,327.58 L1041.97,327.41 L1043.12,327.25 L1044.27,327.09 L1045.43,326.94 L1046.58,326.79 L1047.73,326.65 L1048.88,326.51 L1050.04,326.37 L1051.19,326.24 L1052.34,326.11 L1053.50,325.99 L1054.65,325.87 L1055.80,325.75 L1056.96,325.64 L1058.11,325.53 L1059.26,325.42 L1060.42,325.31 L1061.57,325.20 L1062.72,325.10 L1063.88,324.99 L1065.03,324.89 L1066.18,324.79 L1067.34,324.69 L1068.49,324.59 L1069.64,324.49 L1070.80,324.39 L1071.95,324.29 L1073.10,324.19 L1074.25,324.09 L1075.41,323.98 L1076.56,323.88 L1077.71,323.77 L1078.87,323.67 L1080.02,323.56 L1081.17,323.44 L1082.33,323.33 L1083.48,323.21 L1084.63,323.09 L1085.79,322.97 L1086.94,322.84 L1088.09,322.71 L1089.25,322.57 L1090.40,322.43 L1091.55,322.29 L1092.71,322.14 L1093.86,321.98 L1095.01,321.82 L1096.17,321.66 L1097.32,321.49 L1098.47,321.31 L1099.62,321.13 L1100.78,320.94 L1101.93,320.74 L1103.08,320.54 L1104.24,320.33 L1105.39,320.11 L1106.54,319.89 L1107.70,319.65 L1108.85,319.41 L1110.00,319.16 L1111.16,318.90 L1112.31,318.64 L1113.46,318.36 L1114.62,318.07 L1115.77,317.78 L1116.92,317.47 L1118.08,317.16 L1119.23,316.83 L1120.38,316.49 L1121.54,316.15 L1122.69,315.79 L1123.84,315.42 L1124.99,315.03 L1126.15,314.64 L1127.30,314.23 L1128.45,313.82 L1129.61,313.39 L1130.76,312.94 L1131.91,312.49 L1133.07,312.02 L1134.22,311.53 L1135.37,311.04 L1136.53,310.52 L1137.68,310.00 L1138.83,309.46 L1139.99,308.90 L1141.14,308.33 L1142.29,307.75 L1143.45,307.15 L1144.60,306.53 L1145.75,305.90 L1146.91,305.25 L1148.06,304.58 L1149.21,303.90 L1150.36,303.20 L1151.52,302.49 L1152.67,301.75 L1153.82,301.00 L1154.98,300.23 L1156.13,299.45 L1157.28,298.64 L1158.44,297.81 L1159.59,296.97 L1160.74,296.11 L1161.90,295.23 L1163.05,294.32 L1164.20,293.40 L1165.36,292.46 L1166.51,291.50 L1167.66,290.52 L1168.82,289.51 L1169.97,288.49 L1171.12,287.44 L1172.27,286.37 L1173.43,285.28 L1174.58,284.17 L1175.73,283.04 L1176.89,281.88 L1178.04,280.70 L1179.19,279.50 L1180.35,278.27 L1181.50,277.02 L1182.65,275.75 L1183.81,274.45 L1184.96,273.13 L1186.11,271.79 L1187.27,270.41 L1188.42,269.02 L1189.57,267.60 L1190.73,266.15 L1191.88,264.69 L1193.03,263.20 L1194.19,261.69 L1195.34,260.16 L1196.49,258.61 L1197.64,257.05 L1198.80,255.47 L1199.95,253.87 L1201.10,252.26 L1202.26,250.64 L1203.41,249.00 L1204.56,247.35 L1205.72,245.70 L1206.87,244.03 L1208.02,242.36 L1209.18,240.68 L1210.33,238.99 L1211.48,237.30 L1212.64,235.61 L1213.79,233.91 L1214.94,232.22 L1216.10,230.52 L1217.25,228.82 L1218.40,227.13 L1219.56,225.44 L1220.71,223.75 L1221.86,222.07 L1223.01,220.39 L1224.17,218.72 L1225.32,217.06 L1226.47,215.41 L1227.63,213.77 L1228.78,212.14 L1229.93,210.52 L1231.09,208.92 L1232.24,207.33 L1233.39,205.75 L1234.55,204.19 L1235.70,202.64 L1236.85,201.10 L1238.01,199.57 L1239.16,198.06 L1240.31,196.56 L1241.47,195.07 L1242.62,193.59 L1243.77,192.13 L1244.93,190.67 L1246.08,189.23 L1247.23,187.79 L1248.38,186.37 L1249.54,184.96 L1250.69,183.56 L1251.84,182.17 L1253.00,180.79 L1254.15,179.41 L1255.30,178.05 L1256.46,176.70 L1257.61,175.36 L1258.76,174.02 L1259.92,172.69 L1261.07,171.38 L1262.22,170.07 L1263.38,168.77 L1264.53,167.47 L1265.68,166.19 L1266.84,164.91 L1267.99,163.64 L1269.14,162.38 L1270.29,161.12 L1271.45,159.87 L1272.60,158.63 L1273.75,157.39 L1274.91,156.16 L1276.06,154.94 L1277.21,153.72 L1278.37,152.51 L1279.52,151.30 L1280.67,150.10 L1281.83,148.91 L1282.98,147.72 L1284.13,146.53 L1285.29,145.35 L1286.44,144.18 L1287.59,143.01 L1288.75,141.85 L1289.90,140.69 L1291.05,139.53 L1292.21,138.38 L1293.36,137.23 L1294.51,136.09 L1295.66,134.96 L1296.82,133.82 L1297.97,132.70 L1299.12,131.58 L1300.28,130.46 L1301.43,129.35 L1302.58,128.24 L1303.74,127.14 L1304.89,126.05 L1306.04,124.96 L1307.20,123.87 L1308.35,122.79 L1309.50,121.72 L1310.66,120.65 L1311.81,119.59 L1312.96,118.54 L1314.12,117.49 L1315.27,116.45 L1316.42,115.41 L1317.58,114.38 L1318.73,113.36 L1319.88,112.34 L1321.03,111.33 L1322.19,110.33 L1323.34,109.34 L1324.49,108.35 L1325.65,107.37 L1326.80,106.39 L1327.95,105.42 L1329.11,104.46 L1330.26,103.51 L1331.41,102.57 L1332.57,101.63 L1333.72,100.70 L1334.87,99.78 L1336.03,98.86 L1337.18,97.96 L1338.33,97.06 L1339.49,96.17 L1340.64,95.29 L1341.79,94.42 L1342.95,93.55 L1344.10,92.69 L1345.25,91.85 L1346.40,91.01 L1347.56,90.18 L1348.71,89.36 L1349.86,88.55 L1351.02,87.74 L1352.17,86.95 L1353.32,86.16 L1354.48,85.39 L1355.63,84.62 L1356.78,83.87 L1357.94,83.12 L1359.09,82.38 L1360.24,81.65 L1361.40,80.94 L1362.55,80.23 L1363.70,79.53 L1364.86,78.84 L1366.01,78.17 L1367.16,77.50 L1368.32,76.84 L1369.47,76.20 L1370.62,75.56 L1371.77,74.94 L1372.93,74.32 L1374.08,73.72 L1375.23,73.13 L1376.39,72.55 L1377.54,71.98 L1378.69,71.42 L1379.85,70.87 L1381.00,70.34" stroke="#dc0000"/>
<path d="M1036.20,328.03 L1037.35,327.96 L1038.51,327.88 L1039.66,327.80 L1040.81,327.73 L1041.97,327.65 L1043.12,327.57 L1044.27,327.49 L1045.43,327.41 L1046.58,327.33 L1047.73,327.25 L1048.88,327.16 L1050.04,327.08 L1051.19,327.00 L1052.34,326.91 L1053.50,326.83 L1054.65,326.74 L1055.80,326.66 L1056.96,326.57 L1058.11,326.48 L1059.26,326.40 L1060.42,326.31 L1061.57,326.22 L1062.72,326.13 L1063.88,326.04 L1065.03,325.95 L1066.18,325.86 L1067.34,325.77 L1068.49,325.67 L1069.64,325.58 L1070.80,325.49 L1071.95,325.39 L1073.10,325.30 L1074.25,325.20 L1075.41,325.11 L1076.56,325.01 L1077.71,324.92 L1078.87,324.82 L1080.02,324.72 L1081.17,324.62 L1082.33,324.53 L1083.48,324.43 L1084.63,324.33 L1085.79,324.23 L1086.94,324.13 L1088.09,324.03 L1089.25,323.92 L1090.40,323.82 L1091.55,323.72 L1092.71,323.62 L1093.86,323.51 L1095.01,323.41 L1096.17,323.31 L1097.32,323.20 L1098.47,323.10 L1099.62,322.99 L1100.78,322.89 L1101.93,322.78 L1103.08,322.67 L1104.24,322.57 L1105.39,322.46 L1106.54,322.35 L1107.70,322.24 L1108.85,322.14 L1110.00,322.03 L1111.16,321.92 L1112.31,321.81 L1113.46,321.70 L1114.62,321.59 L1115.77,321.48 L1116.92,321.37 L1118.08,321.26 L1119.23,321.14 L1120.38,321.03 L1121.54,320.92 L1122.69,320.81 L1123.84,320.70 L1124.99,320.58 L1126.15,320.47 L1127.30,320.35 L1128.45,320.24 L1129.61,320.13 L1130.76,320.01 L1131.91,319.90 L1133.07,319.78 L1134.22,319.66 L1135.37,319.53 L1136.53,319.40 L1137.68,319.27 L1138.83,319.13 L1139.99,318.98 L1141.14,318.83 L1142.29,318.66 L1143.45,318.49 L1144.60,318.30 L1145.75,318.11 L1146.91,317.90 L1148.06,317.67 L1149.21,317.44 L1150.36,317.19 L1151.52,316.92 L1152.67,316.64 L1153.82,316.33 L1154.98,316.01 L1156.13,315.67 L1157.28,315.31 L1158.44,314.93 L1159.59,314.53 L1160.74,314.11 L1161.90,313.66 L1163.05,313.18 L1164.20,312.68 L1165.36,312.16 L1166.51,311.61 L1167.66,311.02 L1168.82,310.42 L1169.97,309.78 L1171.12,309.11 L1172.27,308.40 L1173.43,307.67 L1174.58,306.90 L1175.73,306.10 L1176.89,305.27 L1178.04,304.39 L1179.19,303.48 L1180.35,302.54 L1181.50,301.55 L1182.65,300.53 L1183.81,299.46 L1184.96,298.36 L1186.11,297.21 L1187.27,296.02 L1188.42,294.79 L1189.57,293.51 L1190.73,292.19 L1191.88,290.82 L1193.03,289.42 L1194.19,287.98 L1195.34,286.50 L1196.49,284.98 L1197.64,283.42 L1198.80,281.83 L1199.95,280.21 L1201.10,278.55 L1202.26,276.86 L1203.41,275.14 L1204.56,273.39 L1205.72,271.61 L1206.87,269.81 L1208.02,267.98 L1209.18,266.12 L1210.33,264.24 L1211.48,262.33 L1212.64,260.41 L1213.79,258.46 L1214.94,256.49 L1216.10,254.51 L1217.25,252.50 L1218.40,250.48 L1219.56,248.45 L1220.71,246.40 L1221.86,244.33 L1223.01,242.26 L1224.17,240.17 L1225.32,238.08 L1226.47,235.97 L1227.63,233.86 L1228.78,231.74 L1229.93,229.61 L1231.09,227.48 L1232.24,225.35 L1233.39,223.21 L1234.55,221.07 L1235.70,218.93 L1236.85,216.79 L1238.01,214.65 L1239.16,212.51 L1240.31,210.36 L1241.47,208.22 L1242.62,206.09 L1243.77,203.95 L1244.93,201.82 L1246.08,199.69 L1247.23,197.56 L1248.38,195.44 L1249.54,193.33 L1250.69,191.22 L1251.84,189.12 L1253.00,187.03 L1254.15,184.95 L1255.30,182.87 L1256.46,180.81 L1257.61,178.75 L1258.76,176.71 L1259.92,174.68 L1261.07,172.66 L1262.22,170.65 L1263.38,168.65 L1264.53,166.68 L1265.68,164.71 L1266.84,162.76 L1267.99,160.83 L1269.14,158.91 L1270.29,157.01 L1271.45,155.13 L1272.60,153.27 L1273.75,151.42 L1274.91,149.60 L1276.06,147.80 L1277.21,146.02 L1278.37,144.26 L1279.52,142.52 L1280.67,140.80 L1281.83,139.11 L1282.98,137.45 L1284.13,135.80 L1285.29,134.18 L1286.44,132.58 L1287.59,131.01 L1288.75,129.45 L1289.90,127.92 L1291.05,126.41 L1292.21,124.91 L1293.36,123.44 L1294.51,121.98 L1295.66,120.55 L1296.82,119.13 L1297.97,117.73 L1299.12,116.34 L1300.28,114.98 L1301.43,113.62 L1302.58,112.29 L1303.74,110.97 L1304.89,109.66 L1306.04,108.37 L1307.20,107.09 L1308.35,105.83 L1309.50,104.57 L1310.66,103.33 L1311.81,102.11 L1312.96,100.89 L1314.12,99.68 L1315.27,98.49 L1316.42,97.30 L1317.58,96.12 L1318.73,94.95 L1319.88,93.79 L1321.03,92.64 L1322.19,91.50 L1323.34,90.36 L1324.49,89.23 L1325.65,88.11 L1326.80,86.99 L1327.95,85.88 L1329.11,84.78 L1330.26,83.68 L1331.41,82.59 L1332.57,81.50 L1333.72,80.42 L1334.87,79.34 L1336.03,78.27 L1337.18,77.21 L1338.33,76.15 L1339.49,75.09 L1340.64,74.04 L1341.79,72.99 L1342.95,71.94 L1344.10,70.90 L1345.25,69.86 L1346.40,68.83 L1347.56,67.79 L1348.71,66.76 L1349.86,65.73 L1351.02,64.71 L1352.17,63.68 L1353.32,62.66 L1354.48,61.64 L1355.63,60.62 L1356.78,59.60 L1357.94,58.58 L1359.09,57.56 L1360.24,56.55 L1361.40,55.53 L1362.55,54.51 L1363.70,53.49 L1364.86,52.47 L1366.01,51.45 L1367.16,50.43 L1368.32,49.41 L1369.47,48.39 L1370.62,47.37 L1371.77,46.34 L1372.93,45.31 L1374.08,44.28 L1375.23,43.25 L1376.39,42.21 L1377.54,41.17 L1378.69,40.13 L1379.85,39.08 L1381.00,38.03" stroke="#800000"/>
</g>
<g clip-path="url(#clipd)" fill="none" stroke-width="3.8" stroke-linejoin="round" stroke-linecap="butt" shape-rendering="crispEdges">
<path d="M114.00,695.44 L115.15,694.51 L116.29,693.54 L117.44,692.54 L118.59,691.50 L119.73,690.43 L120.88,689.33 L122.03,688.19 L123.17,687.03 L124.32,685.83 L125.46,684.61 L126.61,683.35 L127.76,682.07 L128.90,680.77 L130.05,679.43 L131.20,678.07 L132.34,676.69 L133.49,675.29 L134.64,673.86 L135.78,672.41 L136.93,670.94 L138.08,669.45 L139.22,667.94 L140.37,666.41 L141.52,664.82 L142.66,663.15 L143.81,661.41 L144.96,659.60 L146.10,657.74 L147.25,655.82 L148.39,653.86 L149.54,651.86 L150.69,649.83 L151.83,647.77 L152.98,645.69 L154.13,643.60 L155.27,641.50 L156.42,639.40 L157.57,637.31 L158.71,635.23 L159.86,633.16 L161.01,631.12 L162.15,629.11 L163.30,627.14 L164.45,625.21 L165.59,623.33 L166.74,621.51 L167.88,619.71 L169.03,617.94 L170.18,616.18 L171.32,614.44 L172.47,612.72 L173.62,611.01 L174.76,609.30 L175.91,607.59 L177.06,605.88 L178.20,604.17 L179.35,602.45 L180.50,600.67 L181.64,598.82 L182.79,596.94 L183.94,595.05 L185.08,593.17 L186.23,591.33 L187.38,589.55 L188.52,587.85 L189.67,586.27 L190.81,584.82 L191.96,583.53 L193.11,582.33 L194.25,581.08 L195.40,579.86 L196.55,578.74 L197.69,577.80 L198.84,577.12 L199.99,576.78 L201.13,576.81 L202.28,577.09 L203.43,577.59 L204.57,578.25 L205.72,579.04 L206.87,579.92 L208.01,580.84 L209.16,581.78 L210.31,582.68 L211.45,583.50 L212.60,584.22 L213.74,584.81 L214.89,585.36 L216.04,585.89 L217.18,586.39 L218.33,586.88 L219.48,587.36 L220.62,587.82 L221.77,588.28 L222.92,588.73 L224.06,589.18 L225.21,589.64 L226.36,590.10 L227.50,590.56 L228.65,591.05 L229.80,591.54 L230.94,592.06 L232.09,592.61 L233.23,593.21 L234.38,593.85 L235.53,594.52 L236.67,595.20 L237.82,595.87 L238.97,596.52 L240.11,597.13 L241.26,597.69 L242.41,598.17 L243.55,598.57 L244.70,598.88 L245.85,599.14 L246.99,599.38 L248.14,599.59 L249.29,599.79 L250.43,599.97 L251.58,600.13 L252.73,600.27 L253.87,600.41 L255.02,600.54 L256.16,600.67 L257.31,600.79 L258.46,600.91 L259.60,601.04 L260.75,601.17 L261.90,601.30 L263.04,601.45 L264.19,601.61 L265.34,601.78 L266.48,601.98 L267.63,602.19 L268.78,602.42 L269.92,602.68 L271.07,602.98 L272.22,603.35 L273.36,603.80 L274.51,604.30 L275.65,604.86 L276.80,605.45 L277.95,606.06 L279.09,606.70 L280.24,607.34 L281.39,607.97 L282.53,608.59 L283.68,609.18 L284.83,609.75 L285.97,610.31 L287.12,610.87 L288.27,611.43 L289.41,611.99 L290.56,612.56 L291.71,613.12 L292.85,613.69 L294.00,614.25 L295.15,614.82 L296.29,615.39 L297.44,615.96 L298.58,616.54 L299.73,617.12 L300.88,617.70 L302.02,618.29 L303.17,618.88 L304.32,619.48 L305.46,620.08 L306.61,620.68 L307.76,621.29 L308.90,621.91 L310.05,622.53 L311.20,623.15 L312.34,623.77 L313.49,624.37 L314.64,624.98 L315.78,625.58 L316.93,626.19 L318.07,626.79 L319.22,627.40 L320.37,628.02 L321.51,628.64 L322.66,629.27 L323.81,629.91 L324.95,630.57 L326.10,631.23 L327.25,631.92 L328.39,632.62 L329.54,633.34 L330.69,634.08 L331.83,634.85 L332.98,635.64 L334.13,636.45 L335.27,637.30 L336.42,638.18 L337.57,639.13 L338.71,640.18 L339.86,641.32 L341.00,642.52 L342.15,643.79 L343.30,645.12 L344.44,646.49 L345.59,647.90 L346.74,649.34 L347.88,650.79 L349.03,652.25 L350.18,653.71 L351.32,655.16 L352.47,656.59 L353.62,657.99 L354.76,659.35 L355.91,660.67 L357.06,661.93 L358.20,663.12 L359.35,664.23 L360.49,665.26 L361.64,666.20 L362.79,667.04 L363.93,667.86 L365.08,668.65 L366.23,669.43 L367.37,670.18 L368.52,670.92 L369.67,671.64 L370.81,672.33 L371.96,673.01 L373.11,673.67 L374.25,674.32 L375.40,674.94 L376.55,675.55 L377.69,676.14 L378.84,676.72 L379.99,677.28 L381.13,677.83 L382.28,678.36 L383.42,678.87 L384.57,679.37 L385.72,679.86 L386.86,680.33 L388.01,680.79 L389.16,681.24 L390.30,681.68 L391.45,682.10 L392.60,682.52 L393.74,682.93 L394.89,683.33 L396.04,683.71 L397.18,684.09 L398.33,684.47 L399.48,684.83 L400.62,685.18 L401.77,685.53 L402.92,685.87 L404.06,686.20 L405.21,686.53 L406.35,686.84 L407.50,687.15 L408.65,687.46 L409.79,687.76 L410.94,688.05 L412.09,688.34 L413.23,688.62 L414.38,688.90 L415.53,689.17 L416.67,689.45 L417.82,689.72 L418.97,689.99 L420.11,690.26 L421.26,690.52 L422.41,690.79 L423.55,691.04 L424.70,691.30 L425.84,691.54 L426.99,691.78 L428.14,692.02 L429.28,692.25 L430.43,692.47 L431.58,692.69 L432.72,692.89 L433.87,693.09 L435.02,693.28 L436.16,693.46 L437.31,693.62 L438.46,693.78 L439.60,693.93 L440.75,694.06 L441.90,694.20 L443.04,694.32 L444.19,694.45 L445.34,694.57 L446.48,694.68 L447.63,694.79 L448.77,694.90 L449.92,695.00 L451.07,695.09 L452.21,695.17 L453.36,695.25 L454.51,695.32 L455.65,695.39 L456.80,695.44" stroke="#d2d2fa"/>
<path d="M114.00,695.44 L115.15,694.79 L116.29,694.09 L117.44,693.35 L118.59,692.57 L119.73,691.75 L120.88,690.89 L122.03,690.00 L123.17,689.07 L124.32,688.10 L125.46,687.10 L126.61,686.06 L127.76,685.00 L128.90,683.90 L130.05,682.78 L131.20,681.63 L132.34,680.46 L133.49,679.26 L134.64,678.04 L135.78,676.79 L136.93,675.53 L138.08,674.24 L139.22,672.94 L140.37,671.62 L141.52,670.23 L142.66,668.76 L143.81,667.21 L144.96,665.58 L146.10,663.90 L147.25,662.15 L148.39,660.35 L149.54,658.51 L150.69,656.62 L151.83,654.70 L152.98,652.74 L154.13,650.77 L155.27,648.78 L156.42,646.77 L157.57,644.76 L158.71,642.76 L159.86,640.76 L161.01,638.77 L162.15,636.80 L163.30,634.85 L164.45,632.94 L165.59,631.06 L166.74,629.21 L167.88,627.33 L169.03,625.40 L170.18,623.44 L171.32,621.46 L172.47,619.46 L173.62,617.45 L174.76,615.42 L175.91,613.40 L177.06,611.39 L178.20,609.38 L179.35,607.40 L180.50,605.44 L181.64,603.52 L182.79,601.63 L183.94,599.79 L185.08,598.00 L186.23,596.26 L187.38,594.60 L188.52,593.00 L189.67,591.48 L190.81,590.04 L191.96,588.70 L193.11,587.42 L194.25,586.18 L195.40,584.97 L196.55,583.79 L197.69,582.66 L198.84,581.59 L199.99,580.56 L201.13,579.60 L202.28,578.70 L203.43,577.87 L204.57,577.12 L205.72,576.44 L206.87,575.76 L208.01,575.08 L209.16,574.41 L210.31,573.74 L211.45,573.10 L212.60,572.47 L213.74,571.88 L214.89,571.33 L216.04,570.82 L217.18,570.36 L218.33,569.95 L219.48,569.62 L220.62,569.35 L221.77,569.16 L222.92,569.05 L224.06,569.03 L225.21,569.10 L226.36,569.23 L227.50,569.43 L228.65,569.69 L229.80,570.00 L230.94,570.35 L232.09,570.74 L233.23,571.16 L234.38,571.60 L235.53,572.06 L236.67,572.52 L237.82,572.99 L238.97,573.45 L240.11,573.90 L241.26,574.33 L242.41,574.74 L243.55,575.11 L244.70,575.44 L245.85,575.78 L246.99,576.12 L248.14,576.47 L249.29,576.82 L250.43,577.18 L251.58,577.54 L252.73,577.89 L253.87,578.25 L255.02,578.60 L256.16,578.95 L257.31,579.29 L258.46,579.62 L259.60,579.95 L260.75,580.26 L261.90,580.56 L263.04,580.84 L264.19,581.11 L265.34,581.35 L266.48,581.58 L267.63,581.79 L268.78,581.98 L269.92,582.13 L271.07,582.27 L272.22,582.39 L273.36,582.49 L274.51,582.57 L275.65,582.65 L276.80,582.73 L277.95,582.80 L279.09,582.88 L280.24,582.96 L281.39,583.05 L282.53,583.16 L283.68,583.29 L284.83,583.43 L285.97,583.60 L287.12,583.80 L288.27,584.02 L289.41,584.26 L290.56,584.52 L291.71,584.81 L292.85,585.11 L294.00,585.43 L295.15,585.76 L296.29,586.11 L297.44,586.47 L298.58,586.85 L299.73,587.24 L300.88,587.64 L302.02,588.05 L303.17,588.46 L304.32,588.89 L305.46,589.31 L306.61,589.75 L307.76,590.18 L308.90,590.62 L310.05,591.06 L311.20,591.53 L312.34,592.03 L313.49,592.57 L314.64,593.14 L315.78,593.73 L316.93,594.34 L318.07,594.96 L319.22,595.58 L320.37,596.20 L321.51,596.81 L322.66,597.40 L323.81,597.98 L324.95,598.53 L326.10,599.07 L327.25,599.61 L328.39,600.14 L329.54,600.68 L330.69,601.23 L331.83,601.80 L332.98,602.39 L334.13,603.01 L335.27,603.68 L336.42,604.39 L337.57,605.14 L338.71,605.95 L339.86,606.80 L341.00,607.68 L342.15,608.61 L343.30,609.57 L344.44,610.57 L345.59,611.59 L346.74,612.64 L347.88,613.71 L349.03,614.80 L350.18,615.91 L351.32,617.03 L352.47,618.16 L353.62,619.29 L354.76,620.44 L355.91,621.58 L357.06,622.72 L358.20,623.86 L359.35,624.98 L360.49,626.10 L361.64,627.20 L362.79,628.30 L363.93,629.41 L365.08,630.55 L366.23,631.71 L367.37,632.89 L368.52,634.08 L369.67,635.28 L370.81,636.48 L371.96,637.70 L373.11,638.91 L374.25,640.13 L375.40,641.34 L376.55,642.55 L377.69,643.74 L378.84,644.92 L379.99,646.09 L381.13,647.23 L382.28,648.36 L383.42,649.46 L384.57,650.53 L385.72,651.57 L386.86,652.58 L388.01,653.55 L389.16,654.50 L390.30,655.43 L391.45,656.37 L392.60,657.29 L393.74,658.20 L394.89,659.11 L396.04,660.00 L397.18,660.89 L398.33,661.76 L399.48,662.62 L400.62,663.46 L401.77,664.28 L402.92,665.09 L404.06,665.89 L405.21,666.66 L406.35,667.42 L407.50,668.15 L408.65,668.86 L409.79,669.55 L410.94,670.22 L412.09,670.86 L413.23,671.48 L414.38,672.07 L415.53,672.64 L416.67,673.19 L417.82,673.73 L418.97,674.25 L420.11,674.76 L421.26,675.25 L422.41,675.73 L423.55,676.21 L424.70,676.67 L425.84,677.12 L426.99,677.56 L428.14,677.99 L429.28,678.42 L430.43,678.84 L431.58,679.25 L432.72,679.66 L433.87,680.06 L435.02,680.47 L436.16,680.86 L437.31,681.26 L438.46,681.66 L439.60,682.05 L440.75,682.45 L441.90,682.84 L443.04,683.22 L444.19,683.60 L445.34,683.98 L446.48,684.35 L447.63,684.71 L448.77,685.07 L449.92,685.42 L451.07,685.77 L452.21,686.11 L453.36,686.45 L454.51,686.78 L455.65,687.11 L456.80,687.43" stroke="#9494f6"/>
<path d="M114.00,695.44 L115.15,695.07 L116.29,694.64 L117.44,694.16 L118.59,693.64 L119.73,693.06 L120.88,692.44 L122.03,691.78 L123.17,691.07 L124.32,690.33 L125.46,689.55 L126.61,688.73 L127.76,687.88 L128.90,686.99 L130.05,686.08 L131.20,685.14 L132.34,684.17 L133.49,683.18 L134.64,682.17 L135.78,681.13 L136.93,680.08 L138.08,679.01 L139.22,677.93 L140.37,676.83 L141.52,675.65 L142.66,674.39 L143.81,673.03 L144.96,671.60 L146.10,670.09 L147.25,668.51 L148.39,666.86 L149.54,665.16 L150.69,663.41 L151.83,661.62 L152.98,659.79 L154.13,657.92 L155.27,656.02 L156.42,654.11 L157.57,652.18 L158.71,650.24 L159.86,648.30 L161.01,646.37 L162.15,644.44 L163.30,642.53 L164.45,640.64 L165.59,638.78 L166.74,636.93 L167.88,635.04 L169.03,633.09 L170.18,631.09 L171.32,629.05 L172.47,626.98 L173.62,624.89 L174.76,622.78 L175.91,620.65 L177.06,618.52 L178.20,616.40 L179.35,614.29 L180.50,612.19 L181.64,610.13 L182.79,608.09 L183.94,606.10 L185.08,604.15 L186.23,602.26 L187.38,600.43 L188.52,598.67 L189.67,596.98 L190.81,595.38 L191.96,593.87 L193.11,592.44 L194.25,591.04 L195.40,589.66 L196.55,588.32 L197.69,587.00 L198.84,585.72 L199.99,584.46 L201.13,583.22 L202.28,582.02 L203.43,580.84 L204.57,579.68 L205.72,578.55 L206.87,577.44 L208.01,576.35 L209.16,575.29 L210.31,574.24 L211.45,573.22 L212.60,572.22 L213.74,571.24 L214.89,570.28 L216.04,569.34 L217.18,568.41 L218.33,567.50 L219.48,566.58 L220.62,565.63 L221.77,564.65 L222.92,563.66 L224.06,562.66 L225.21,561.66 L226.36,560.66 L227.50,559.67 L228.65,558.70 L229.80,557.75 L230.94,556.83 L232.09,555.95 L233.23,555.12 L234.38,554.34 L235.53,553.61 L236.67,552.95 L237.82,552.37 L238.97,551.86 L240.11,551.44 L241.26,551.10 L242.41,550.87 L243.55,550.75 L244.70,550.73 L245.85,550.74 L246.99,550.78 L248.14,550.84 L249.29,550.92 L250.43,551.01 L251.58,551.11 L252.73,551.23 L253.87,551.36 L255.02,551.49 L256.16,551.64 L257.31,551.79 L258.46,551.94 L259.60,552.10 L260.75,552.26 L261.90,552.46 L263.04,552.69 L264.19,552.96 L265.34,553.25 L266.48,553.57 L267.63,553.92 L268.78,554.28 L269.92,554.67 L271.07,555.07 L272.22,555.48 L273.36,555.91 L274.51,556.34 L275.65,556.78 L276.80,557.22 L277.95,557.66 L279.09,558.09 L280.24,558.53 L281.39,558.95 L282.53,559.36 L283.68,559.76 L284.83,560.15 L285.97,560.53 L287.12,560.93 L288.27,561.32 L289.41,561.72 L290.56,562.12 L291.71,562.52 L292.85,562.92 L294.00,563.33 L295.15,563.74 L296.29,564.14 L297.44,564.55 L298.58,564.96 L299.73,565.37 L300.88,565.78 L302.02,566.19 L303.17,566.60 L304.32,567.01 L305.46,567.42 L306.61,567.83 L307.76,568.23 L308.90,568.64 L310.05,569.04 L311.20,569.44 L312.34,569.84 L313.49,570.24 L314.64,570.64 L315.78,571.03 L316.93,571.43 L318.07,571.82 L319.22,572.21 L320.37,572.61 L321.51,573.00 L322.66,573.39 L323.81,573.79 L324.95,574.19 L326.10,574.58 L327.25,574.98 L328.39,575.39 L329.54,575.79 L330.69,576.20 L331.83,576.61 L332.98,577.02 L334.13,577.44 L335.27,577.86 L336.42,578.29 L337.57,578.71 L338.71,579.12 L339.86,579.53 L341.00,579.93 L342.15,580.33 L343.30,580.74 L344.44,581.14 L345.59,581.54 L346.74,581.95 L347.88,582.36 L349.03,582.78 L350.18,583.20 L351.32,583.64 L352.47,584.09 L353.62,584.55 L354.76,585.02 L355.91,585.51 L357.06,586.01 L358.20,586.53 L359.35,587.08 L360.49,587.64 L361.64,588.23 L362.79,588.84 L363.93,589.49 L365.08,590.19 L366.23,590.93 L367.37,591.70 L368.52,592.51 L369.67,593.36 L370.81,594.23 L371.96,595.13 L373.11,596.05 L374.25,597.00 L375.40,597.96 L376.55,598.94 L377.69,599.94 L378.84,600.96 L379.99,601.98 L381.13,603.01 L382.28,604.04 L383.42,605.08 L384.57,606.12 L385.72,607.15 L386.86,608.19 L388.01,609.21 L389.16,610.24 L390.30,611.31 L391.45,612.42 L392.60,613.55 L393.74,614.71 L394.89,615.88 L396.04,617.08 L397.18,618.29 L398.33,619.51 L399.48,620.73 L400.62,621.96 L401.77,623.19 L402.92,624.41 L404.06,625.62 L405.21,626.82 L406.35,628.00 L407.50,629.17 L408.65,630.31 L409.79,631.42 L410.94,632.50 L412.09,633.54 L413.23,634.55 L414.38,635.51 L415.53,636.44 L416.67,637.36 L417.82,638.27 L418.97,639.16 L420.11,640.04 L421.26,640.90 L422.41,641.76 L423.55,642.59 L424.70,643.42 L425.84,644.24 L426.99,645.04 L428.14,645.83 L429.28,646.61 L430.43,647.39 L431.58,648.15 L432.72,648.90 L433.87,649.65 L435.02,650.39 L436.16,651.12 L437.31,651.84 L438.46,652.56 L439.60,653.27 L440.75,653.97 L441.90,654.67 L443.04,655.35 L444.19,656.03 L445.34,656.69 L446.48,657.35 L447.63,658.00 L448.77,658.63 L449.92,659.26 L451.07,659.88 L452.21,660.49 L453.36,661.09 L454.51,661.68 L455.65,662.26 L456.80,662.84" stroke="#5a5af2"/>
<path d="M114.00,695.44 L115.15,695.18 L116.29,694.86 L117.44,694.50 L118.59,694.08 L119.73,693.61 L120.88,693.10 L122.03,692.55 L123.17,691.95 L124.32,691.31 L125.46,690.64 L126.61,689.93 L127.76,689.19 L128.90,688.41 L130.05,687.61 L131.20,686.78 L132.34,685.93 L133.49,685.05 L134.64,684.16 L135.78,683.24 L136.93,682.31 L138.08,681.37 L139.22,680.41 L140.37,679.44 L141.52,678.39 L142.66,677.25 L143.81,676.01 L144.96,674.70 L146.10,673.30 L147.25,671.84 L148.39,670.31 L149.54,668.72 L150.69,667.08 L151.83,665.39 L152.98,663.67 L154.13,661.91 L155.27,660.12 L156.42,658.31 L157.57,656.49 L158.71,654.66 L159.86,652.83 L161.01,651.01 L162.15,649.19 L163.30,647.39 L164.45,645.62 L165.59,643.87 L166.74,642.15 L167.88,640.37 L169.03,638.54 L170.18,636.67 L171.32,634.76 L172.47,632.81 L173.62,630.84 L174.76,628.85 L175.91,626.86 L177.06,624.86 L178.20,622.86 L179.35,620.88 L180.50,618.91 L181.64,616.97 L182.79,615.06 L183.94,613.20 L185.08,611.38 L186.23,609.61 L187.38,607.91 L188.52,606.27 L189.67,604.72 L190.81,603.24 L191.96,601.86 L193.11,600.56 L194.25,599.31 L195.40,598.12 L196.55,596.97 L197.69,595.86 L198.84,594.78 L199.99,593.74 L201.13,592.73 L202.28,591.75 L203.43,590.78 L204.57,589.83 L205.72,588.89 L206.87,587.95 L208.01,587.02 L209.16,586.09 L210.31,585.15 L211.45,584.20 L212.60,583.24 L213.74,582.26 L214.89,581.26 L216.04,580.22 L217.18,579.16 L218.33,578.06 L219.48,576.93 L220.62,575.76 L221.77,574.55 L222.92,573.32 L224.06,572.07 L225.21,570.80 L226.36,569.51 L227.50,568.22 L228.65,566.92 L229.80,565.61 L230.94,564.31 L232.09,563.02 L233.23,561.73 L234.38,560.46 L235.53,559.21 L236.67,557.98 L237.82,556.78 L238.97,555.61 L240.11,554.47 L241.26,553.38 L242.41,552.32 L243.55,551.32 L244.70,550.36 L245.85,549.41 L246.99,548.47 L248.14,547.53 L249.29,546.62 L250.43,545.74 L251.58,544.89 L252.73,544.10 L253.87,543.36 L255.02,542.68 L256.16,542.08 L257.31,541.56 L258.46,541.09 L259.60,540.61 L260.75,540.15 L261.90,539.69 L263.04,539.24 L264.19,538.81 L265.34,538.40 L266.48,538.02 L267.63,537.67 L268.78,537.36 L269.92,537.08 L271.07,536.85 L272.22,536.66 L273.36,536.53 L274.51,536.45 L275.65,536.43 L276.80,536.48 L277.95,536.62 L279.09,536.81 L280.24,537.04 L281.39,537.29 L282.53,537.54 L283.68,537.79 L284.83,538.01 L285.97,538.23 L287.12,538.46 L288.27,538.69 L289.41,538.92 L290.56,539.16 L291.71,539.40 L292.85,539.65 L294.00,539.91 L295.15,540.17 L296.29,540.43 L297.44,540.70 L298.58,540.98 L299.73,541.26 L300.88,541.55 L302.02,541.85 L303.17,542.15 L304.32,542.47 L305.46,542.79 L306.61,543.12 L307.76,543.45 L308.90,543.80 L310.05,544.16 L311.20,544.53 L312.34,544.94 L313.49,545.38 L314.64,545.84 L315.78,546.32 L316.93,546.82 L318.07,547.34 L319.22,547.87 L320.37,548.42 L321.51,548.98 L322.66,549.54 L323.81,550.11 L324.95,550.68 L326.10,551.26 L327.25,551.82 L328.39,552.39 L329.54,552.94 L330.69,553.49 L331.83,554.02 L332.98,554.54 L334.13,555.04 L335.27,555.52 L336.42,555.98 L337.57,556.43 L338.71,556.86 L339.86,557.29 L341.00,557.71 L342.15,558.12 L343.30,558.53 L344.44,558.93 L345.59,559.32 L346.74,559.71 L347.88,560.10 L349.03,560.49 L350.18,560.87 L351.32,561.26 L352.47,561.64 L353.62,562.03 L354.76,562.42 L355.91,562.81 L357.06,563.21 L358.20,563.61 L359.35,564.01 L360.49,564.43 L361.64,564.85 L362.79,565.27 L363.93,565.70 L365.08,566.13 L366.23,566.56 L367.37,566.98 L368.52,567.41 L369.67,567.85 L370.81,568.28 L371.96,568.72 L373.11,569.15 L374.25,569.60 L375.40,570.04 L376.55,570.49 L377.69,570.94 L378.84,571.40 L379.99,571.86 L381.13,572.33 L382.28,572.80 L383.42,573.28 L384.57,573.76 L385.72,574.25 L386.86,574.75 L388.01,575.25 L389.16,575.76 L390.30,576.29 L391.45,576.82 L392.60,577.37 L393.74,577.92 L394.89,578.48 L396.04,579.06 L397.18,579.63 L398.33,580.22 L399.48,580.81 L400.62,581.40 L401.77,581.99 L402.92,582.59 L404.06,583.20 L405.21,583.80 L406.35,584.40 L407.50,585.00 L408.65,585.60 L409.79,586.20 L410.94,586.80 L412.09,587.39 L413.23,587.97 L414.38,588.55 L415.53,589.14 L416.67,589.74 L417.82,590.36 L418.97,590.98 L420.11,591.61 L421.26,592.24 L422.41,592.88 L423.55,593.52 L424.70,594.16 L425.84,594.79 L426.99,595.42 L428.14,596.04 L429.28,596.65 L430.43,597.25 L431.58,597.84 L432.72,598.41 L433.87,598.96 L435.02,599.49 L436.16,600.01 L437.31,600.49 L438.46,600.96 L439.60,601.39 L440.75,601.80 L441.90,602.19 L443.04,602.57 L444.19,602.94 L445.34,603.31 L446.48,603.66 L447.63,603.99 L448.77,604.32 L449.92,604.63 L451.07,604.93 L452.21,605.22 L453.36,605.49 L454.51,605.74 L455.65,605.98 L456.80,606.21" stroke="#2020ec"/>
<path d="M114.00,695.44 L115.15,695.05 L116.29,694.64 L117.44,694.22 L118.59,693.77 L119.73,693.31 L120.88,692.83 L122.03,692.33 L123.17,691.82 L124.32,691.30 L125.46,690.76 L126.61,690.21 L127.76,689.65 L128.90,689.07 L130.05,688.48 L131.20,687.87 L132.34,687.24 L133.49,686.59 L134.64,685.92 L135.78,685.21 L136.93,684.47 L138.08,683.70 L139.22,682.89 L140.37,682.05 L141.52,681.14 L142.66,680.18 L143.81,679.17 L144.96,678.10 L146.10,676.98 L147.25,675.80 L148.39,674.58 L149.54,673.32 L150.69,672.00 L151.83,670.65 L152.98,669.25 L154.13,667.77 L155.27,666.16 L156.42,664.44 L157.57,662.63 L158.71,660.74 L159.86,658.81 L161.01,656.84 L162.15,654.87 L163.30,652.90 L164.45,650.96 L165.59,649.08 L166.74,647.24 L167.88,645.43 L169.03,643.61 L170.18,641.80 L171.32,639.99 L172.47,638.19 L173.62,636.38 L174.76,634.57 L175.91,632.76 L177.06,630.95 L178.20,629.13 L179.35,627.31 L180.50,625.40 L181.64,623.41 L182.79,621.35 L183.94,619.28 L185.08,617.22 L186.23,615.20 L187.38,613.26 L188.52,611.43 L189.67,609.76 L190.81,608.26 L191.96,606.98 L193.11,605.89 L194.25,604.91 L195.40,604.03 L196.55,603.21 L197.69,602.44 L198.84,601.72 L199.99,601.02 L201.13,600.32 L202.28,599.60 L203.43,598.86 L204.57,598.07 L205.72,597.23 L206.87,596.37 L208.01,595.50 L209.16,594.62 L210.31,593.73 L211.45,592.83 L212.60,591.93 L213.74,591.01 L214.89,590.08 L216.04,589.14 L217.18,588.19 L218.33,587.23 L219.48,586.27 L220.62,585.32 L221.77,584.36 L222.92,583.39 L224.06,582.41 L225.21,581.41 L226.36,580.39 L227.50,579.33 L228.65,578.24 L229.80,577.11 L230.94,575.92 L232.09,574.67 L233.23,573.33 L234.38,571.91 L235.53,570.42 L236.67,568.89 L237.82,567.31 L238.97,565.72 L240.11,564.12 L241.26,562.52 L242.41,560.93 L243.55,559.38 L244.70,557.88 L245.85,556.37 L246.99,554.84 L248.14,553.32 L249.29,551.79 L250.43,550.27 L251.58,548.76 L252.73,547.27 L253.87,545.79 L255.02,544.35 L256.16,542.93 L257.31,541.55 L258.46,540.18 L259.60,538.81 L260.75,537.44 L261.90,536.08 L263.04,534.74 L264.19,533.43 L265.34,532.16 L266.48,530.93 L267.63,529.76 L268.78,528.65 L269.92,527.61 L271.07,526.63 L272.22,525.65 L273.36,524.68 L274.51,523.72 L275.65,522.79 L276.80,521.90 L277.95,521.05 L279.09,520.27 L280.24,519.56 L281.39,518.92 L282.53,518.38 L283.68,517.94 L284.83,517.59 L285.97,517.25 L287.12,516.93 L288.27,516.63 L289.41,516.37 L290.56,516.14 L291.71,515.98 L292.85,515.87 L294.00,515.83 L295.15,515.91 L296.29,516.14 L297.44,516.49 L298.58,516.94 L299.73,517.48 L300.88,518.10 L302.02,518.76 L303.17,519.46 L304.32,520.17 L305.46,520.87 L306.61,521.55 L307.76,522.20 L308.90,522.78 L310.05,523.28 L311.20,523.74 L312.34,524.18 L313.49,524.62 L314.64,525.04 L315.78,525.45 L316.93,525.86 L318.07,526.26 L319.22,526.65 L320.37,527.04 L321.51,527.43 L322.66,527.81 L323.81,528.19 L324.95,528.57 L326.10,528.95 L327.25,529.33 L328.39,529.71 L329.54,530.10 L330.69,530.49 L331.83,530.88 L332.98,531.28 L334.13,531.69 L335.27,532.10 L336.42,532.53 L337.57,532.96 L338.71,533.40 L339.86,533.85 L341.00,534.31 L342.15,534.77 L343.30,535.24 L344.44,535.71 L345.59,536.18 L346.74,536.66 L347.88,537.14 L349.03,537.61 L350.18,538.09 L351.32,538.56 L352.47,539.03 L353.62,539.49 L354.76,539.95 L355.91,540.41 L357.06,540.85 L358.20,541.29 L359.35,541.72 L360.49,542.14 L361.64,542.55 L362.79,542.95 L363.93,543.34 L365.08,543.72 L366.23,544.10 L367.37,544.47 L368.52,544.83 L369.67,545.19 L370.81,545.55 L371.96,545.90 L373.11,546.25 L374.25,546.60 L375.40,546.94 L376.55,547.28 L377.69,547.62 L378.84,547.96 L379.99,548.30 L381.13,548.64 L382.28,548.97 L383.42,549.31 L384.57,549.65 L385.72,549.99 L386.86,550.33 L388.01,550.68 L389.16,551.02 L390.30,551.36 L391.45,551.70 L392.60,552.04 L393.74,552.37 L394.89,552.70 L396.04,553.03 L397.18,553.36 L398.33,553.69 L399.48,554.02 L400.62,554.35 L401.77,554.69 L402.92,555.02 L404.06,555.35 L405.21,555.69 L406.35,556.03 L407.50,556.37 L408.65,556.71 L409.79,557.06 L410.94,557.41 L412.09,557.77 L413.23,558.13 L414.38,558.50 L415.53,558.88 L416.67,559.28 L417.82,559.69 L418.97,560.12 L420.11,560.56 L421.26,561.00 L422.41,561.45 L423.55,561.91 L424.70,562.37 L425.84,562.83 L426.99,563.28 L428.14,563.73 L429.28,564.18 L430.43,564.61 L431.58,565.03 L432.72,565.44 L433.87,565.83 L435.02,566.20 L436.16,566.55 L437.31,566.88 L438.46,567.18 L439.60,567.45 L440.75,567.70 L441.90,567.93 L443.04,568.16 L444.19,568.38 L445.34,568.60 L446.48,568.81 L447.63,569.00 L448.77,569.19 L449.92,569.37 L451.07,569.53 L452.21,569.69 L453.36,569.83 L454.51,569.96 L455.65,570.07 L456.80,570.17" stroke="#0000dc"/>
</g>
<g clip-path="url(#clipe)" fill="none" stroke-width="3.8" stroke-linejoin="round" stroke-linecap="butt" shape-rendering="crispEdges">
<path d="M574.20,694.49 L575.34,694.36 L576.49,694.18 L577.63,693.97 L578.78,693.72 L579.92,693.44 L581.06,693.13 L582.21,692.79 L583.35,692.43 L584.50,692.05 L585.64,691.65 L586.79,691.23 L587.93,690.81 L589.07,690.36 L590.22,689.85 L591.36,689.28 L592.51,688.66 L593.65,687.98 L594.79,687.27 L595.94,686.51 L597.08,685.73 L598.23,684.93 L599.37,684.11 L600.52,683.28 L601.66,682.44 L602.80,681.61 L603.95,680.77 L605.09,679.90 L606.24,679.01 L607.38,678.10 L608.52,677.16 L609.67,676.19 L610.81,675.19 L611.96,674.17 L613.10,673.11 L614.25,672.02 L615.39,670.90 L616.53,669.74 L617.68,668.53 L618.82,667.25 L619.97,665.88 L621.11,664.46 L622.25,662.97 L623.40,661.45 L624.54,659.89 L625.69,658.31 L626.83,656.73 L627.97,655.15 L629.12,653.58 L630.26,652.04 L631.41,650.53 L632.55,649.02 L633.70,647.47 L634.84,645.89 L635.98,644.30 L637.13,642.70 L638.27,641.12 L639.42,639.56 L640.56,638.04 L641.70,636.57 L642.85,635.17 L643.99,633.85 L645.14,632.61 L646.28,631.47 L647.43,630.35 L648.57,629.25 L649.71,628.18 L650.86,627.14 L652.00,626.13 L653.15,625.17 L654.29,624.25 L655.43,623.39 L656.58,622.59 L657.72,621.85 L658.87,621.19 L660.01,620.60 L661.16,620.03 L662.30,619.46 L663.44,618.97 L664.59,618.63 L665.73,618.51 L666.88,618.57 L668.02,618.74 L669.16,619.00 L670.31,619.34 L671.45,619.74 L672.60,620.19 L673.74,620.67 L674.88,621.18 L676.03,621.68 L677.17,622.19 L678.32,622.75 L679.46,623.39 L680.61,624.11 L681.75,624.88 L682.89,625.70 L684.04,626.55 L685.18,627.44 L686.33,628.34 L687.47,629.25 L688.61,630.15 L689.76,631.11 L690.90,632.15 L692.05,633.27 L693.19,634.42 L694.34,635.59 L695.48,636.73 L696.62,637.83 L697.77,638.86 L698.91,639.80 L700.06,640.60 L701.20,641.32 L702.34,642.03 L703.49,642.71 L704.63,643.38 L705.78,644.03 L706.92,644.65 L708.07,645.24 L709.21,645.80 L710.35,646.33 L711.50,646.83 L712.64,647.29 L713.79,647.71 L714.93,648.09 L716.07,648.43 L717.22,648.72 L718.36,648.97 L719.51,649.20 L720.65,649.41 L721.79,649.60 L722.94,649.77 L724.08,649.94 L725.23,650.09 L726.37,650.23 L727.52,650.37 L728.66,650.50 L729.80,650.63 L730.95,650.76 L732.09,650.89 L733.24,651.03 L734.38,651.18 L735.52,651.33 L736.67,651.50 L737.81,651.68 L738.96,651.87 L740.10,652.09 L741.25,652.33 L742.39,652.59 L743.53,652.87 L744.68,653.18 L745.82,653.51 L746.97,653.85 L748.11,654.21 L749.25,654.57 L750.40,654.95 L751.54,655.34 L752.69,655.73 L753.83,656.13 L754.98,656.52 L756.12,656.92 L757.26,657.32 L758.41,657.71 L759.55,658.09 L760.70,658.46 L761.84,658.82 L762.98,659.17 L764.13,659.51 L765.27,659.82 L766.42,660.12 L767.56,660.39 L768.71,660.64 L769.85,660.88 L770.99,661.11 L772.14,661.33 L773.28,661.56 L774.43,661.78 L775.57,662.00 L776.71,662.21 L777.86,662.42 L779.00,662.63 L780.15,662.83 L781.29,663.03 L782.43,663.23 L783.58,663.42 L784.72,663.61 L785.87,663.80 L787.01,663.99 L788.16,664.17 L789.30,664.35 L790.44,664.53 L791.59,664.71 L792.73,664.88 L793.88,665.05 L795.02,665.22 L796.16,665.39 L797.31,665.55 L798.45,665.72 L799.60,665.88 L800.74,666.03 L801.89,666.19 L803.03,666.35 L804.17,666.50 L805.32,666.65 L806.46,666.80 L807.61,666.95 L808.75,667.10 L809.89,667.25 L811.04,667.39 L812.18,667.54 L813.33,667.68 L814.47,667.82 L815.62,667.97 L816.76,668.11 L817.90,668.25 L819.05,668.39 L820.19,668.53 L821.34,668.66 L822.48,668.80 L823.62,668.94 L824.77,669.08 L825.91,669.21 L827.06,669.35 L828.20,669.49 L829.34,669.62 L830.49,669.75 L831.63,669.88 L832.78,670.01 L833.92,670.13 L835.07,670.26 L836.21,670.38 L837.35,670.50 L838.50,670.62 L839.64,670.74 L840.79,670.86 L841.93,670.98 L843.07,671.09 L844.22,671.21 L845.36,671.32 L846.51,671.44 L847.65,671.55 L848.80,671.66 L849.94,671.77 L851.08,671.88 L852.23,671.99 L853.37,672.10 L854.52,672.21 L855.66,672.32 L856.80,672.42 L857.95,672.53 L859.09,672.64 L860.24,672.75 L861.38,672.85 L862.53,672.96 L863.67,673.06 L864.81,673.17 L865.96,673.28 L867.10,673.38 L868.25,673.49 L869.39,673.60 L870.53,673.71 L871.68,673.81 L872.82,673.92 L873.97,674.03 L875.11,674.14 L876.25,674.25 L877.40,674.36 L878.54,674.47 L879.69,674.58 L880.83,674.70 L881.98,674.81 L883.12,674.92 L884.26,675.04 L885.41,675.15 L886.55,675.27 L887.70,675.38 L888.84,675.50 L889.98,675.61 L891.13,675.73 L892.27,675.85 L893.42,675.96 L894.56,676.08 L895.71,676.19 L896.85,676.31 L897.99,676.42 L899.14,676.54 L900.28,676.65 L901.43,676.77 L902.57,676.89 L903.71,677.00 L904.86,677.12 L906.00,677.23 L907.15,677.35 L908.29,677.47 L909.44,677.58 L910.58,677.70 L911.72,677.81 L912.87,677.93 L914.01,678.05 L915.16,678.16 L916.30,678.28" stroke="#14c414"/>
<path d="M574.20,694.49 L575.34,694.46 L576.49,694.40 L577.63,694.29 L578.78,694.15 L579.92,693.97 L581.06,693.75 L582.21,693.50 L583.35,693.21 L584.50,692.90 L585.64,692.56 L586.79,692.19 L587.93,691.79 L589.07,691.38 L590.22,690.94 L591.36,690.48 L592.51,690.00 L593.65,689.51 L594.79,689.01 L595.94,688.49 L597.08,687.96 L598.23,687.42 L599.37,686.88 L600.52,686.33 L601.66,685.77 L602.80,685.22 L603.95,684.61 L605.09,683.91 L606.24,683.14 L607.38,682.29 L608.52,681.37 L609.67,680.39 L610.81,679.36 L611.96,678.27 L613.10,677.14 L614.25,675.96 L615.39,674.75 L616.53,673.51 L617.68,672.25 L618.82,670.97 L619.97,669.67 L621.11,668.37 L622.25,667.07 L623.40,665.77 L624.54,664.48 L625.69,663.20 L626.83,661.94 L627.97,660.71 L629.12,659.52 L630.26,658.35 L631.41,657.23 L632.55,656.14 L633.70,655.05 L634.84,653.97 L635.98,652.90 L637.13,651.83 L638.27,650.77 L639.42,649.71 L640.56,648.66 L641.70,647.60 L642.85,646.55 L643.99,645.49 L645.14,644.44 L646.28,643.38 L647.43,642.32 L648.57,641.25 L649.71,640.18 L650.86,639.10 L652.00,638.02 L653.15,636.92 L654.29,635.82 L655.43,634.70 L656.58,633.58 L657.72,632.44 L658.87,631.29 L660.01,630.12 L661.16,628.91 L662.30,627.63 L663.44,626.28 L664.59,624.87 L665.73,623.42 L666.88,621.94 L668.02,620.42 L669.16,618.89 L670.31,617.34 L671.45,615.79 L672.60,614.25 L673.74,612.72 L674.88,611.22 L676.03,609.75 L677.17,608.32 L678.32,606.93 L679.46,605.61 L680.61,604.36 L681.75,603.18 L682.89,602.09 L684.04,601.09 L685.18,600.19 L686.33,599.40 L687.47,598.73 L688.61,598.19 L689.76,597.72 L690.90,597.25 L692.05,596.83 L693.19,596.48 L694.34,596.23 L695.48,596.11 L696.62,596.14 L697.77,596.30 L698.91,596.58 L700.06,596.96 L701.20,597.42 L702.34,597.96 L703.49,598.55 L704.63,599.18 L705.78,599.84 L706.92,600.52 L708.07,601.19 L709.21,601.85 L710.35,602.48 L711.50,603.07 L712.64,603.69 L713.79,604.33 L714.93,604.99 L716.07,605.67 L717.22,606.37 L718.36,607.09 L719.51,607.83 L720.65,608.58 L721.79,609.35 L722.94,610.16 L724.08,611.00 L725.23,611.86 L726.37,612.75 L727.52,613.65 L728.66,614.56 L729.80,615.48 L730.95,616.40 L732.09,617.32 L733.24,618.22 L734.38,619.11 L735.52,619.99 L736.67,620.90 L737.81,621.84 L738.96,622.78 L740.10,623.73 L741.25,624.66 L742.39,625.56 L743.53,626.42 L744.68,627.23 L745.82,627.97 L746.97,628.63 L748.11,629.20 L749.25,629.74 L750.40,630.25 L751.54,630.72 L752.69,631.16 L753.83,631.59 L754.98,631.99 L756.12,632.37 L757.26,632.75 L758.41,633.11 L759.55,633.47 L760.70,633.83 L761.84,634.19 L762.98,634.56 L764.13,634.94 L765.27,635.33 L766.42,635.73 L767.56,636.16 L768.71,636.62 L769.85,637.10 L770.99,637.62 L772.14,638.18 L773.28,638.77 L774.43,639.39 L775.57,640.05 L776.71,640.72 L777.86,641.42 L779.00,642.13 L780.15,642.85 L781.29,643.57 L782.43,644.30 L783.58,645.03 L784.72,645.75 L785.87,646.46 L787.01,647.16 L788.16,647.83 L789.30,648.49 L790.44,649.12 L791.59,649.71 L792.73,650.27 L793.88,650.80 L795.02,651.27 L796.16,651.70 L797.31,652.08 L798.45,652.43 L799.60,652.77 L800.74,653.11 L801.89,653.43 L803.03,653.75 L804.17,654.07 L805.32,654.37 L806.46,654.68 L807.61,654.97 L808.75,655.26 L809.89,655.54 L811.04,655.81 L812.18,656.08 L813.33,656.35 L814.47,656.61 L815.62,656.86 L816.76,657.11 L817.90,657.35 L819.05,657.59 L820.19,657.83 L821.34,658.06 L822.48,658.28 L823.62,658.50 L824.77,658.72 L825.91,658.93 L827.06,659.14 L828.20,659.35 L829.34,659.55 L830.49,659.75 L831.63,659.95 L832.78,660.14 L833.92,660.33 L835.07,660.52 L836.21,660.70 L837.35,660.89 L838.50,661.07 L839.64,661.25 L840.79,661.43 L841.93,661.60 L843.07,661.78 L844.22,661.95 L845.36,662.12 L846.51,662.29 L847.65,662.46 L848.80,662.63 L849.94,662.80 L851.08,662.97 L852.23,663.14 L853.37,663.30 L854.52,663.47 L855.66,663.64 L856.80,663.81 L857.95,663.97 L859.09,664.14 L860.24,664.30 L861.38,664.47 L862.53,664.63 L863.67,664.79 L864.81,664.95 L865.96,665.11 L867.10,665.27 L868.25,665.43 L869.39,665.58 L870.53,665.74 L871.68,665.89 L872.82,666.05 L873.97,666.20 L875.11,666.35 L876.25,666.50 L877.40,666.64 L878.54,666.79 L879.69,666.93 L880.83,667.08 L881.98,667.22 L883.12,667.36 L884.26,667.50 L885.41,667.63 L886.55,667.77 L887.70,667.90 L888.84,668.04 L889.98,668.17 L891.13,668.30 L892.27,668.42 L893.42,668.55 L894.56,668.67 L895.71,668.80 L896.85,668.92 L897.99,669.03 L899.14,669.15 L900.28,669.27 L901.43,669.38 L902.57,669.49 L903.71,669.60 L904.86,669.70 L906.00,669.81 L907.15,669.91 L908.29,670.01 L909.44,670.11 L910.58,670.21 L911.72,670.30 L912.87,670.39 L914.01,670.48 L915.16,670.57 L916.30,670.65" stroke="#0aa80a"/>
<path d="M574.20,694.96 L575.34,694.89 L576.49,694.80 L577.63,694.68 L578.78,694.54 L579.92,694.38 L581.06,694.20 L582.21,694.00 L583.35,693.78 L584.50,693.54 L585.64,693.28 L586.79,693.01 L587.93,692.72 L589.07,692.42 L590.22,692.11 L591.36,691.78 L592.51,691.44 L593.65,691.09 L594.79,690.74 L595.94,690.37 L597.08,690.00 L598.23,689.62 L599.37,689.23 L600.52,688.84 L601.66,688.45 L602.80,688.05 L603.95,687.63 L605.09,687.16 L606.24,686.65 L607.38,686.11 L608.52,685.54 L609.67,684.93 L610.81,684.29 L611.96,683.62 L613.10,682.93 L614.25,682.21 L615.39,681.47 L616.53,680.72 L617.68,679.94 L618.82,679.15 L619.97,678.35 L621.11,677.54 L622.25,676.72 L623.40,675.89 L624.54,675.06 L625.69,674.23 L626.83,673.40 L627.97,672.57 L629.12,671.75 L630.26,670.93 L631.41,670.12 L632.55,669.32 L633.70,668.52 L634.84,667.72 L635.98,666.91 L637.13,666.10 L638.27,665.28 L639.42,664.46 L640.56,663.64 L641.70,662.80 L642.85,661.95 L643.99,661.09 L645.14,660.22 L646.28,659.34 L647.43,658.44 L648.57,657.53 L649.71,656.60 L650.86,655.65 L652.00,654.69 L653.15,653.70 L654.29,652.69 L655.43,651.66 L656.58,650.61 L657.72,649.52 L658.87,648.42 L660.01,647.28 L661.16,646.11 L662.30,644.87 L663.44,643.59 L664.59,642.25 L665.73,640.87 L666.88,639.45 L668.02,637.98 L669.16,636.48 L670.31,634.95 L671.45,633.39 L672.60,631.80 L673.74,630.19 L674.88,628.56 L676.03,626.91 L677.17,625.25 L678.32,623.58 L679.46,621.90 L680.61,620.23 L681.75,618.55 L682.89,616.87 L684.04,615.20 L685.18,613.54 L686.33,611.90 L687.47,610.27 L688.61,608.66 L689.76,607.03 L690.90,605.35 L692.05,603.63 L693.19,601.88 L694.34,600.11 L695.48,598.35 L696.62,596.60 L697.77,594.87 L698.91,593.18 L700.06,591.55 L701.20,589.98 L702.34,588.49 L703.49,587.10 L704.63,585.79 L705.78,584.45 L706.92,583.07 L708.07,581.66 L709.21,580.25 L710.35,578.87 L711.50,577.54 L712.64,576.29 L713.79,575.13 L714.93,574.11 L716.07,573.23 L717.22,572.53 L718.36,572.02 L719.51,571.75 L720.65,571.71 L721.79,571.83 L722.94,572.08 L724.08,572.45 L725.23,572.91 L726.37,573.45 L727.52,574.07 L728.66,574.75 L729.80,575.47 L730.95,576.21 L732.09,576.98 L733.24,577.74 L734.38,578.49 L735.52,579.25 L736.67,580.11 L737.81,581.05 L738.96,582.08 L740.10,583.16 L741.25,584.28 L742.39,585.42 L743.53,586.58 L744.68,587.73 L745.82,588.85 L746.97,589.93 L748.11,590.97 L749.25,591.98 L750.40,592.98 L751.54,593.97 L752.69,594.97 L753.83,595.97 L754.98,597.00 L756.12,598.06 L757.26,599.15 L758.41,600.30 L759.55,601.53 L760.70,602.83 L761.84,604.17 L762.98,605.54 L764.13,606.91 L765.27,608.26 L766.42,609.58 L767.56,610.83 L768.71,612.01 L769.85,613.08 L770.99,614.08 L772.14,615.05 L773.28,616.01 L774.43,616.95 L775.57,617.88 L776.71,618.78 L777.86,619.66 L779.00,620.53 L780.15,621.38 L781.29,622.21 L782.43,623.03 L783.58,623.83 L784.72,624.61 L785.87,625.37 L787.01,626.11 L788.16,626.84 L789.30,627.55 L790.44,628.25 L791.59,628.93 L792.73,629.59 L793.88,630.23 L795.02,630.86 L796.16,631.48 L797.31,632.07 L798.45,632.66 L799.60,633.24 L800.74,633.81 L801.89,634.38 L803.03,634.94 L804.17,635.50 L805.32,636.04 L806.46,636.59 L807.61,637.12 L808.75,637.65 L809.89,638.17 L811.04,638.68 L812.18,639.19 L813.33,639.68 L814.47,640.18 L815.62,640.66 L816.76,641.14 L817.90,641.61 L819.05,642.07 L820.19,642.52 L821.34,642.97 L822.48,643.41 L823.62,643.84 L824.77,644.26 L825.91,644.68 L827.06,645.08 L828.20,645.48 L829.34,645.87 L830.49,646.26 L831.63,646.63 L832.78,647.00 L833.92,647.35 L835.07,647.70 L836.21,648.04 L837.35,648.38 L838.50,648.70 L839.64,649.01 L840.79,649.32 L841.93,649.62 L843.07,649.92 L844.22,650.21 L845.36,650.50 L846.51,650.79 L847.65,651.08 L848.80,651.36 L849.94,651.63 L851.08,651.91 L852.23,652.18 L853.37,652.44 L854.52,652.71 L855.66,652.96 L856.80,653.22 L857.95,653.47 L859.09,653.71 L860.24,653.95 L861.38,654.19 L862.53,654.42 L863.67,654.65 L864.81,654.87 L865.96,655.09 L867.10,655.30 L868.25,655.51 L869.39,655.72 L870.53,655.92 L871.68,656.11 L872.82,656.30 L873.97,656.48 L875.11,656.66 L876.25,656.84 L877.40,657.00 L878.54,657.17 L879.69,657.32 L880.83,657.47 L881.98,657.62 L883.12,657.76 L884.26,657.89 L885.41,658.03 L886.55,658.16 L887.70,658.29 L888.84,658.42 L889.98,658.55 L891.13,658.68 L892.27,658.80 L893.42,658.92 L894.56,659.04 L895.71,659.16 L896.85,659.27 L897.99,659.38 L899.14,659.49 L900.28,659.59 L901.43,659.69 L902.57,659.79 L903.71,659.88 L904.86,659.97 L906.00,660.06 L907.15,660.14 L908.29,660.22 L909.44,660.30 L910.58,660.37 L911.72,660.43 L912.87,660.49 L914.01,660.55 L915.16,660.60 L916.30,660.64" stroke="#0a8c0a"/>
<path d="M574.20,695.44 L575.34,695.35 L576.49,695.26 L577.63,695.15 L578.78,695.03 L579.92,694.91 L581.06,694.77 L582.21,694.63 L583.35,694.48 L584.50,694.32 L585.64,694.15 L586.79,693.98 L587.93,693.80 L589.07,693.61 L590.22,693.42 L591.36,693.22 L592.51,693.01 L593.65,692.80 L594.79,692.59 L595.94,692.37 L597.08,692.15 L598.23,691.92 L599.37,691.69 L600.52,691.45 L601.66,691.22 L602.80,690.98 L603.95,690.73 L605.09,690.47 L606.24,690.20 L607.38,689.92 L608.52,689.62 L609.67,689.32 L610.81,689.00 L611.96,688.67 L613.10,688.34 L614.25,687.99 L615.39,687.63 L616.53,687.27 L617.68,686.89 L618.82,686.50 L619.97,686.11 L621.11,685.70 L622.25,685.29 L623.40,684.87 L624.54,684.44 L625.69,684.00 L626.83,683.55 L627.97,683.09 L629.12,682.63 L630.26,682.16 L631.41,681.68 L632.55,681.19 L633.70,680.68 L634.84,680.16 L635.98,679.63 L637.13,679.08 L638.27,678.51 L639.42,677.93 L640.56,677.33 L641.70,676.72 L642.85,676.09 L643.99,675.44 L645.14,674.77 L646.28,674.09 L647.43,673.39 L648.57,672.67 L649.71,671.93 L650.86,671.18 L652.00,670.41 L653.15,669.61 L654.29,668.80 L655.43,667.97 L656.58,667.12 L657.72,666.25 L658.87,665.36 L660.01,664.45 L661.16,663.49 L662.30,662.48 L663.44,661.41 L664.59,660.28 L665.73,659.11 L666.88,657.88 L668.02,656.61 L669.16,655.30 L670.31,653.95 L671.45,652.57 L672.60,651.15 L673.74,649.70 L674.88,648.22 L676.03,646.72 L677.17,645.21 L678.32,643.67 L679.46,642.12 L680.61,640.56 L681.75,638.99 L682.89,637.41 L684.04,635.84 L685.18,634.26 L686.33,632.69 L687.47,631.13 L688.61,629.57 L689.76,628.03 L690.90,626.49 L692.05,624.93 L693.19,623.35 L694.34,621.75 L695.48,620.13 L696.62,618.49 L697.77,616.84 L698.91,615.17 L700.06,613.49 L701.20,611.80 L702.34,610.10 L703.49,608.39 L704.63,606.67 L705.78,604.95 L706.92,603.23 L708.07,601.50 L709.21,599.77 L710.35,598.04 L711.50,596.32 L712.64,594.60 L713.79,592.88 L714.93,591.17 L716.07,589.47 L717.22,587.78 L718.36,586.06 L719.51,584.25 L720.65,582.39 L721.79,580.48 L722.94,578.54 L724.08,576.60 L725.23,574.66 L726.37,572.75 L727.52,570.88 L728.66,569.07 L729.80,567.34 L730.95,565.70 L732.09,564.17 L733.24,562.77 L734.38,561.52 L735.52,560.43 L736.67,559.49 L737.81,558.55 L738.96,557.62 L740.10,556.72 L741.25,555.84 L742.39,555.03 L743.53,554.28 L744.68,553.62 L745.82,553.05 L746.97,552.61 L748.11,552.29 L749.25,552.13 L750.40,552.12 L751.54,552.22 L752.69,552.41 L753.83,552.69 L754.98,553.05 L756.12,553.50 L757.26,554.01 L758.41,554.59 L759.55,555.23 L760.70,555.93 L761.84,556.68 L762.98,557.47 L764.13,558.30 L765.27,559.17 L766.42,560.06 L767.56,560.98 L768.71,561.92 L769.85,562.96 L770.99,564.36 L772.14,566.04 L773.28,567.91 L774.43,569.89 L775.57,571.88 L776.71,573.78 L777.86,575.52 L779.00,577.08 L780.15,578.63 L781.29,580.17 L782.43,581.71 L783.58,583.22 L784.72,584.73 L785.87,586.21 L787.01,587.66 L788.16,589.09 L789.30,590.49 L790.44,591.85 L791.59,593.16 L792.73,594.44 L793.88,595.67 L795.02,596.85 L796.16,597.97 L797.31,599.03 L798.45,600.04 L799.60,601.00 L800.74,601.93 L801.89,602.83 L803.03,603.69 L804.17,604.53 L805.32,605.34 L806.46,606.13 L807.61,606.91 L808.75,607.66 L809.89,608.41 L811.04,609.14 L812.18,609.87 L813.33,610.59 L814.47,611.31 L815.62,612.04 L816.76,612.77 L817.90,613.50 L819.05,614.24 L820.19,614.99 L821.34,615.73 L822.48,616.48 L823.62,617.22 L824.77,617.97 L825.91,618.71 L827.06,619.46 L828.20,620.20 L829.34,620.93 L830.49,621.67 L831.63,622.40 L832.78,623.12 L833.92,623.84 L835.07,624.55 L836.21,625.25 L837.35,625.94 L838.50,626.63 L839.64,627.30 L840.79,627.97 L841.93,628.62 L843.07,629.26 L844.22,629.89 L845.36,630.50 L846.51,631.10 L847.65,631.68 L848.80,632.25 L849.94,632.80 L851.08,633.33 L852.23,633.85 L853.37,634.34 L854.52,634.82 L855.66,635.28 L856.80,635.73 L857.95,636.17 L859.09,636.60 L860.24,637.03 L861.38,637.45 L862.53,637.86 L863.67,638.26 L864.81,638.65 L865.96,639.04 L867.10,639.42 L868.25,639.79 L869.39,640.16 L870.53,640.52 L871.68,640.88 L872.82,641.23 L873.97,641.57 L875.11,641.91 L876.25,642.24 L877.40,642.57 L878.54,642.89 L879.69,643.21 L880.83,643.53 L881.98,643.84 L883.12,644.14 L884.26,644.45 L885.41,644.75 L886.55,645.05 L887.70,645.34 L888.84,645.63 L889.98,645.92 L891.13,646.21 L892.27,646.49 L893.42,646.77 L894.56,647.05 L895.71,647.33 L896.85,647.60 L897.99,647.86 L899.14,648.13 L900.28,648.39 L901.43,648.64 L902.57,648.89 L903.71,649.14 L904.86,649.38 L906.00,649.62 L907.15,649.86 L908.29,650.09 L909.44,650.31 L910.58,650.54 L911.72,650.76 L912.87,650.97 L914.01,651.18 L915.16,651.39 L916.30,651.59" stroke="#087808"/>
<path d="M574.20,695.92 L575.34,695.80 L576.49,695.69 L577.63,695.57 L578.78,695.44 L579.92,695.32 L581.06,695.19 L582.21,695.06 L583.35,694.93 L584.50,694.80 L585.64,694.66 L586.79,694.52 L587.93,694.38 L589.07,694.24 L590.22,694.09 L591.36,693.94 L592.51,693.80 L593.65,693.64 L594.79,693.49 L595.94,693.34 L597.08,693.18 L598.23,693.02 L599.37,692.86 L600.52,692.70 L601.66,692.53 L602.80,692.37 L603.95,692.20 L605.09,692.03 L606.24,691.86 L607.38,691.69 L608.52,691.52 L609.67,691.34 L610.81,691.17 L611.96,690.99 L613.10,690.80 L614.25,690.62 L615.39,690.43 L616.53,690.24 L617.68,690.04 L618.82,689.84 L619.97,689.64 L621.11,689.43 L622.25,689.22 L623.40,689.01 L624.54,688.79 L625.69,688.57 L626.83,688.34 L627.97,688.10 L629.12,687.86 L630.26,687.62 L631.41,687.37 L632.55,687.11 L633.70,686.85 L634.84,686.59 L635.98,686.31 L637.13,686.04 L638.27,685.75 L639.42,685.47 L640.56,685.17 L641.70,684.86 L642.85,684.55 L643.99,684.23 L645.14,683.91 L646.28,683.57 L647.43,683.23 L648.57,682.87 L649.71,682.51 L650.86,682.14 L652.00,681.75 L653.15,681.36 L654.29,680.95 L655.43,680.54 L656.58,680.11 L657.72,679.67 L658.87,679.22 L660.01,678.75 L661.16,678.27 L662.30,677.77 L663.44,677.25 L664.59,676.71 L665.73,676.14 L666.88,675.56 L668.02,674.96 L669.16,674.33 L670.31,673.68 L671.45,673.01 L672.60,672.32 L673.74,671.60 L674.88,670.86 L676.03,670.10 L677.17,669.32 L678.32,668.51 L679.46,667.68 L680.61,666.83 L681.75,665.95 L682.89,665.04 L684.04,664.12 L685.18,663.16 L686.33,662.18 L687.47,661.18 L688.61,660.15 L689.76,659.06 L690.90,657.86 L692.05,656.58 L693.19,655.21 L694.34,653.76 L695.48,652.23 L696.62,650.65 L697.77,649.00 L698.91,647.30 L700.06,645.55 L701.20,643.76 L702.34,641.94 L703.49,640.09 L704.63,638.15 L705.78,636.06 L706.92,633.84 L708.07,631.52 L709.21,629.10 L710.35,626.63 L711.50,624.11 L712.64,621.57 L713.79,619.03 L714.93,616.52 L716.07,614.05 L717.22,611.65 L718.36,609.34 L719.51,607.15 L720.65,605.02 L721.79,602.93 L722.94,600.85 L724.08,598.80 L725.23,596.77 L726.37,594.76 L727.52,592.78 L728.66,590.82 L729.80,588.88 L730.95,586.97 L732.09,585.07 L733.24,583.20 L734.38,581.35 L735.52,579.51 L736.67,577.70 L737.81,575.91 L738.96,574.15 L740.10,572.38 L741.25,570.62 L742.39,568.85 L743.53,567.08 L744.68,565.32 L745.82,563.58 L746.97,561.85 L748.11,560.15 L749.25,558.48 L750.40,556.84 L751.54,555.25 L752.69,553.69 L753.83,552.19 L754.98,550.74 L756.12,549.35 L757.26,548.03 L758.41,546.77 L759.55,545.55 L760.70,544.29 L761.84,543.00 L762.98,541.70 L764.13,540.39 L765.27,539.10 L766.42,537.83 L767.56,536.59 L768.71,535.41 L769.85,534.28 L770.99,533.24 L772.14,532.28 L773.28,531.42 L774.43,530.68 L775.57,530.06 L776.71,529.58 L777.86,529.26 L779.00,529.10 L780.15,529.12 L781.29,529.33 L782.43,529.71 L783.58,530.26 L784.72,530.94 L785.87,531.75 L787.01,532.67 L788.16,533.69 L789.30,534.78 L790.44,535.92 L791.59,537.12 L792.73,538.34 L793.88,539.57 L795.02,540.79 L796.16,541.99 L797.31,543.16 L798.45,544.36 L799.60,545.66 L800.74,547.06 L801.89,548.55 L803.03,550.10 L804.17,551.73 L805.32,553.41 L806.46,555.14 L807.61,556.91 L808.75,558.71 L809.89,560.54 L811.04,562.37 L812.18,564.21 L813.33,566.03 L814.47,567.85 L815.62,569.64 L816.76,571.39 L817.90,573.11 L819.05,574.77 L820.19,576.37 L821.34,577.90 L822.48,579.35 L823.62,580.72 L824.77,582.05 L825.91,583.37 L827.06,584.66 L828.20,585.94 L829.34,587.20 L830.49,588.43 L831.63,589.65 L832.78,590.84 L833.92,592.00 L835.07,593.15 L836.21,594.26 L837.35,595.35 L838.50,596.42 L839.64,597.45 L840.79,598.46 L841.93,599.43 L843.07,600.38 L844.22,601.30 L845.36,602.21 L846.51,603.10 L847.65,603.98 L848.80,604.84 L849.94,605.69 L851.08,606.52 L852.23,607.34 L853.37,608.14 L854.52,608.93 L855.66,609.70 L856.80,610.46 L857.95,611.21 L859.09,611.94 L860.24,612.66 L861.38,613.36 L862.53,614.05 L863.67,614.73 L864.81,615.39 L865.96,616.04 L867.10,616.67 L868.25,617.29 L869.39,617.90 L870.53,618.50 L871.68,619.08 L872.82,619.65 L873.97,620.21 L875.11,620.76 L876.25,621.29 L877.40,621.82 L878.54,622.34 L879.69,622.85 L880.83,623.35 L881.98,623.85 L883.12,624.33 L884.26,624.81 L885.41,625.29 L886.55,625.75 L887.70,626.21 L888.84,626.67 L889.98,627.12 L891.13,627.57 L892.27,628.01 L893.42,628.46 L894.56,628.90 L895.71,629.33 L896.85,629.76 L897.99,630.19 L899.14,630.61 L900.28,631.03 L901.43,631.44 L902.57,631.85 L903.71,632.25 L904.86,632.65 L906.00,633.04 L907.15,633.43 L908.29,633.81 L909.44,634.19 L910.58,634.56 L911.72,634.92 L912.87,635.28 L914.01,635.64 L915.16,635.99 L916.30,636.33" stroke="#086408"/>
<path d="M574.20,695.92 L575.34,695.81 L576.49,695.71 L577.63,695.60 L578.78,695.50 L579.92,695.40 L581.06,695.29 L582.21,695.19 L583.35,695.09 L584.50,694.98 L585.64,694.88 L586.79,694.78 L587.93,694.68 L589.07,694.58 L590.22,694.47 L591.36,694.37 L592.51,694.27 L593.65,694.17 L594.79,694.07 L595.94,693.97 L597.08,693.87 L598.23,693.77 L599.37,693.67 L600.52,693.58 L601.66,693.48 L602.80,693.38 L603.95,693.28 L605.09,693.19 L606.24,693.09 L607.38,693.00 L608.52,692.91 L609.67,692.82 L610.81,692.73 L611.96,692.64 L613.10,692.55 L614.25,692.46 L615.39,692.38 L616.53,692.29 L617.68,692.20 L618.82,692.11 L619.97,692.02 L621.11,691.92 L622.25,691.83 L623.40,691.73 L624.54,691.64 L625.69,691.54 L626.83,691.43 L627.97,691.33 L629.12,691.22 L630.26,691.11 L631.41,691.00 L632.55,690.89 L633.70,690.77 L634.84,690.66 L635.98,690.55 L637.13,690.43 L638.27,690.32 L639.42,690.20 L640.56,690.08 L641.70,689.96 L642.85,689.84 L643.99,689.72 L645.14,689.59 L646.28,689.45 L647.43,689.32 L648.57,689.17 L649.71,689.02 L650.86,688.87 L652.00,688.71 L653.15,688.54 L654.29,688.37 L655.43,688.19 L656.58,688.00 L657.72,687.80 L658.87,687.60 L660.01,687.38 L661.16,687.15 L662.30,686.89 L663.44,686.60 L664.59,686.29 L665.73,685.96 L666.88,685.60 L668.02,685.23 L669.16,684.83 L670.31,684.41 L671.45,683.98 L672.60,683.52 L673.74,683.05 L674.88,682.57 L676.03,682.07 L677.17,681.55 L678.32,681.03 L679.46,680.49 L680.61,679.94 L681.75,679.38 L682.89,678.82 L684.04,678.24 L685.18,677.66 L686.33,677.08 L687.47,676.48 L688.61,675.89 L689.76,675.28 L690.90,674.65 L692.05,674.00 L693.19,673.32 L694.34,672.62 L695.48,671.90 L696.62,671.15 L697.77,670.38 L698.91,669.58 L700.06,668.75 L701.20,667.90 L702.34,667.02 L703.49,666.11 L704.63,665.18 L705.78,664.21 L706.92,663.22 L708.07,662.19 L709.21,661.13 L710.35,660.00 L711.50,658.80 L712.64,657.53 L713.79,656.20 L714.93,654.81 L716.07,653.36 L717.22,651.87 L718.36,650.33 L719.51,648.74 L720.65,647.12 L721.79,645.46 L722.94,643.77 L724.08,642.06 L725.23,640.33 L726.37,638.55 L727.52,636.69 L728.66,634.75 L729.80,632.75 L730.95,630.68 L732.09,628.56 L733.24,626.40 L734.38,624.20 L735.52,621.96 L736.67,619.71 L737.81,617.43 L738.96,615.15 L740.10,612.84 L741.25,610.45 L742.39,607.99 L743.53,605.48 L744.68,602.92 L745.82,600.32 L746.97,597.70 L748.11,595.06 L749.25,592.42 L750.40,589.78 L751.54,587.16 L752.69,584.56 L753.83,581.99 L754.98,579.48 L756.12,577.02 L757.26,574.62 L758.41,572.30 L759.55,570.05 L760.70,567.83 L761.84,565.64 L762.98,563.48 L764.13,561.34 L765.27,559.23 L766.42,557.15 L767.56,555.09 L768.71,553.05 L769.85,551.03 L770.99,549.03 L772.14,547.04 L773.28,545.07 L774.43,543.11 L775.57,541.17 L776.71,539.24 L777.86,537.31 L779.00,535.37 L780.15,533.37 L781.29,531.36 L782.43,529.36 L783.58,527.42 L784.72,525.57 L785.87,523.86 L787.01,522.32 L788.16,520.99 L789.30,519.73 L790.44,518.46 L791.59,517.19 L792.73,515.93 L793.88,514.69 L795.02,513.47 L796.16,512.28 L797.31,511.13 L798.45,510.02 L799.60,508.97 L800.74,507.97 L801.89,507.04 L803.03,506.19 L804.17,505.41 L805.32,504.73 L806.46,504.14 L807.61,503.65 L808.75,503.27 L809.89,503.02 L811.04,502.88 L812.18,502.89 L813.33,503.05 L814.47,503.37 L815.62,503.83 L816.76,504.43 L817.90,505.15 L819.05,505.98 L820.19,506.91 L821.34,507.93 L822.48,509.03 L823.62,510.20 L824.77,511.44 L825.91,512.71 L827.06,514.03 L828.20,515.37 L829.34,516.73 L830.49,518.10 L831.63,519.46 L832.78,520.80 L833.92,522.12 L835.07,523.41 L836.21,524.79 L837.35,526.27 L838.50,527.85 L839.64,529.52 L840.79,531.27 L841.93,533.08 L843.07,534.95 L844.22,536.86 L845.36,538.82 L846.51,540.80 L847.65,542.80 L848.80,544.81 L849.94,546.81 L851.08,548.81 L852.23,550.78 L853.37,552.72 L854.52,554.62 L855.66,556.47 L856.80,558.26 L857.95,559.98 L859.09,561.62 L860.24,563.17 L861.38,564.66 L862.53,566.13 L863.67,567.57 L864.81,568.98 L865.96,570.36 L867.10,571.73 L868.25,573.07 L869.39,574.38 L870.53,575.67 L871.68,576.94 L872.82,578.18 L873.97,579.40 L875.11,580.60 L876.25,581.78 L877.40,582.94 L878.54,584.08 L879.69,585.22 L880.83,586.35 L881.98,587.47 L883.12,588.58 L884.26,589.68 L885.41,590.76 L886.55,591.83 L887.70,592.89 L888.84,593.93 L889.98,594.94 L891.13,595.94 L892.27,596.92 L893.42,597.87 L894.56,598.80 L895.71,599.70 L896.85,600.58 L897.99,601.42 L899.14,602.24 L900.28,603.02 L901.43,603.77 L902.57,604.51 L903.71,605.23 L904.86,605.93 L906.00,606.61 L907.15,607.27 L908.29,607.91 L909.44,608.53 L910.58,609.13 L911.72,609.71 L912.87,610.26 L914.01,610.79 L915.16,611.30 L916.30,611.78" stroke="#054605"/>
</g>
<g clip-path="url(#clipf)" fill="none" stroke-width="3.8" stroke-linejoin="round" stroke-linecap="butt" shape-rendering="crispEdges">
<path d="M1037.20,693.01 L1038.34,693.05 L1039.49,693.01 L1040.63,692.88 L1041.77,692.68 L1042.91,692.39 L1044.06,692.03 L1045.20,691.60 L1046.34,691.10 L1047.49,690.53 L1048.63,689.90 L1049.77,689.21 L1050.91,688.46 L1052.06,687.66 L1053.20,686.80 L1054.34,685.90 L1055.48,684.94 L1056.63,683.95 L1057.77,682.91 L1058.91,681.84 L1060.06,680.73 L1061.20,679.59 L1062.34,678.42 L1063.48,677.23 L1064.63,676.01 L1065.77,674.77 L1066.91,673.52 L1068.06,672.24 L1069.20,670.96 L1070.34,669.67 L1071.48,668.37 L1072.63,667.08 L1073.77,665.79 L1074.91,664.50 L1076.06,663.23 L1077.20,661.97 L1078.34,660.73 L1079.48,659.52 L1080.63,658.33 L1081.77,657.17 L1082.91,656.04 L1084.06,654.96 L1085.20,653.92 L1086.34,652.92 L1087.48,651.96 L1088.63,651.05 L1089.77,650.19 L1090.91,649.38 L1092.05,648.61 L1093.20,647.90 L1094.34,647.25 L1095.48,646.64 L1096.63,646.09 L1097.77,645.60 L1098.91,645.17 L1100.05,644.80 L1101.20,644.49 L1102.34,644.24 L1103.48,644.05 L1104.63,643.91 L1105.77,643.84 L1106.91,643.81 L1108.05,643.83 L1109.20,643.90 L1110.34,644.01 L1111.48,644.17 L1112.63,644.36 L1113.77,644.59 L1114.91,644.86 L1116.05,645.15 L1117.20,645.48 L1118.34,645.83 L1119.48,646.20 L1120.63,646.60 L1121.77,647.02 L1122.91,647.45 L1124.05,647.89 L1125.20,648.34 L1126.34,648.81 L1127.48,649.28 L1128.62,649.75 L1129.77,650.22 L1130.91,650.69 L1132.05,651.16 L1133.20,651.62 L1134.34,652.08 L1135.48,652.53 L1136.62,652.97 L1137.77,653.41 L1138.91,653.84 L1140.05,654.27 L1141.20,654.69 L1142.34,655.10 L1143.48,655.51 L1144.62,655.90 L1145.77,656.29 L1146.91,656.67 L1148.05,657.04 L1149.20,657.40 L1150.34,657.75 L1151.48,658.09 L1152.62,658.42 L1153.77,658.74 L1154.91,659.05 L1156.05,659.35 L1157.19,659.63 L1158.34,659.90 L1159.48,660.16 L1160.62,660.41 L1161.77,660.65 L1162.91,660.87 L1164.05,661.07 L1165.19,661.27 L1166.34,661.45 L1167.48,661.62 L1168.62,661.77 L1169.77,661.92 L1170.91,662.05 L1172.05,662.16 L1173.19,662.27 L1174.34,662.36 L1175.48,662.44 L1176.62,662.51 L1177.77,662.57 L1178.91,662.62 L1180.05,662.66 L1181.19,662.68 L1182.34,662.69 L1183.48,662.70 L1184.62,662.69 L1185.77,662.67 L1186.91,662.65 L1188.05,662.61 L1189.19,662.56 L1190.34,662.50 L1191.48,662.44 L1192.62,662.36 L1193.76,662.28 L1194.91,662.18 L1196.05,662.08 L1197.19,661.97 L1198.34,661.85 L1199.48,661.72 L1200.62,661.58 L1201.76,661.44 L1202.91,661.29 L1204.05,661.13 L1205.19,660.96 L1206.34,660.79 L1207.48,660.60 L1208.62,660.42 L1209.76,660.22 L1210.91,660.02 L1212.05,659.81 L1213.19,659.59 L1214.34,659.37 L1215.48,659.15 L1216.62,658.91 L1217.76,658.67 L1218.91,658.43 L1220.05,658.18 L1221.19,657.93 L1222.34,657.67 L1223.48,657.40 L1224.62,657.14 L1225.76,656.86 L1226.91,656.58 L1228.05,656.30 L1229.19,656.02 L1230.33,655.73 L1231.48,655.44 L1232.62,655.14 L1233.76,654.84 L1234.91,654.54 L1236.05,654.23 L1237.19,653.92 L1238.33,653.61 L1239.48,653.30 L1240.62,652.98 L1241.76,652.67 L1242.91,652.35 L1244.05,652.02 L1245.19,651.70 L1246.33,651.38 L1247.48,651.05 L1248.62,650.72 L1249.76,650.40 L1250.91,650.07 L1252.05,649.74 L1253.19,649.41 L1254.33,649.08 L1255.48,648.75 L1256.62,648.42 L1257.76,648.09 L1258.91,647.76 L1260.05,647.43 L1261.19,647.10 L1262.33,646.78 L1263.48,646.45 L1264.62,646.13 L1265.76,645.80 L1266.90,645.48 L1268.05,645.16 L1269.19,644.84 L1270.33,644.53 L1271.48,644.22 L1272.62,643.90 L1273.76,643.60 L1274.90,643.29 L1276.05,642.99 L1277.19,642.69 L1278.33,642.39 L1279.48,642.10 L1280.62,641.81 L1281.76,641.52 L1282.90,641.24 L1284.05,640.96 L1285.19,640.69 L1286.33,640.42 L1287.48,640.16 L1288.62,639.90 L1289.76,639.64 L1290.90,639.40 L1292.05,639.15 L1293.19,638.91 L1294.33,638.68 L1295.47,638.45 L1296.62,638.23 L1297.76,638.02 L1298.90,637.81 L1300.05,637.60 L1301.19,637.40 L1302.33,637.21 L1303.47,637.02 L1304.62,636.84 L1305.76,636.66 L1306.90,636.49 L1308.05,636.33 L1309.19,636.17 L1310.33,636.02 L1311.47,635.87 L1312.62,635.73 L1313.76,635.59 L1314.90,635.47 L1316.05,635.34 L1317.19,635.22 L1318.33,635.11 L1319.47,635.00 L1320.62,634.90 L1321.76,634.81 L1322.90,634.72 L1324.05,634.63 L1325.19,634.56 L1326.33,634.48 L1327.47,634.42 L1328.62,634.36 L1329.76,634.30 L1330.90,634.25 L1332.04,634.21 L1333.19,634.17 L1334.33,634.14 L1335.47,634.11 L1336.62,634.09 L1337.76,634.08 L1338.90,634.07 L1340.04,634.07 L1341.19,634.07 L1342.33,634.08 L1343.47,634.10 L1344.62,634.12 L1345.76,634.14 L1346.90,634.18 L1348.04,634.21 L1349.19,634.26 L1350.33,634.31 L1351.47,634.36 L1352.62,634.43 L1353.76,634.49 L1354.90,634.57 L1356.04,634.65 L1357.19,634.73 L1358.33,634.82 L1359.47,634.92 L1360.62,635.02 L1361.76,635.13 L1362.90,635.25 L1364.04,635.37 L1365.19,635.49 L1366.33,635.62 L1367.47,635.76 L1368.61,635.91 L1369.76,636.06 L1370.90,636.21 L1372.04,636.37 L1373.19,636.54 L1374.33,636.72 L1375.47,636.90 L1376.61,637.08 L1377.76,637.27 L1378.90,637.47" stroke="#ffa800"/>
<path d="M1037.20,694.54 L1038.34,694.32 L1039.49,694.09 L1040.63,693.84 L1041.77,693.58 L1042.91,693.31 L1044.06,693.02 L1045.20,692.71 L1046.34,692.39 L1047.49,692.05 L1048.63,691.69 L1049.77,691.31 L1050.91,690.91 L1052.06,690.48 L1053.20,690.04 L1054.34,689.58 L1055.48,689.09 L1056.63,688.57 L1057.77,688.04 L1058.91,687.47 L1060.06,686.88 L1061.20,686.26 L1062.34,685.61 L1063.48,684.94 L1064.63,684.23 L1065.77,683.50 L1066.91,682.73 L1068.06,681.93 L1069.20,681.10 L1070.34,680.23 L1071.48,679.33 L1072.63,678.39 L1073.77,677.42 L1074.91,676.41 L1076.06,675.37 L1077.20,674.28 L1078.34,673.16 L1079.48,671.99 L1080.63,670.78 L1081.77,669.54 L1082.91,668.25 L1084.06,666.91 L1085.20,665.54 L1086.34,664.12 L1087.48,662.67 L1088.63,661.20 L1089.77,659.70 L1090.91,658.18 L1092.05,656.64 L1093.20,655.10 L1094.34,653.55 L1095.48,652.00 L1096.63,650.46 L1097.77,648.93 L1098.91,647.41 L1100.05,645.91 L1101.20,644.43 L1102.34,642.98 L1103.48,641.57 L1104.63,640.20 L1105.77,638.86 L1106.91,637.58 L1108.05,636.35 L1109.20,635.18 L1110.34,634.07 L1111.48,633.03 L1112.63,632.06 L1113.77,631.16 L1114.91,630.35 L1116.05,629.63 L1117.20,628.99 L1118.34,628.43 L1119.48,627.95 L1120.63,627.55 L1121.77,627.22 L1122.91,626.96 L1124.05,626.77 L1125.20,626.65 L1126.34,626.59 L1127.48,626.58 L1128.62,626.64 L1129.77,626.75 L1130.91,626.90 L1132.05,627.11 L1133.20,627.36 L1134.34,627.66 L1135.48,627.99 L1136.62,628.36 L1137.77,628.77 L1138.91,629.21 L1140.05,629.67 L1141.20,630.16 L1142.34,630.68 L1143.48,631.21 L1144.62,631.77 L1145.77,632.35 L1146.91,632.94 L1148.05,633.54 L1149.20,634.16 L1150.34,634.78 L1151.48,635.41 L1152.62,636.05 L1153.77,636.69 L1154.91,637.33 L1156.05,637.97 L1157.19,638.60 L1158.34,639.23 L1159.48,639.85 L1160.62,640.46 L1161.77,641.06 L1162.91,641.64 L1164.05,642.21 L1165.19,642.76 L1166.34,643.30 L1167.48,643.82 L1168.62,644.33 L1169.77,644.82 L1170.91,645.30 L1172.05,645.76 L1173.19,646.21 L1174.34,646.64 L1175.48,647.06 L1176.62,647.47 L1177.77,647.86 L1178.91,648.24 L1180.05,648.61 L1181.19,648.96 L1182.34,649.30 L1183.48,649.62 L1184.62,649.94 L1185.77,650.24 L1186.91,650.52 L1188.05,650.80 L1189.19,651.06 L1190.34,651.31 L1191.48,651.55 L1192.62,651.77 L1193.76,651.99 L1194.91,652.19 L1196.05,652.38 L1197.19,652.56 L1198.34,652.72 L1199.48,652.88 L1200.62,653.02 L1201.76,653.16 L1202.91,653.28 L1204.05,653.39 L1205.19,653.50 L1206.34,653.59 L1207.48,653.67 L1208.62,653.74 L1209.76,653.80 L1210.91,653.85 L1212.05,653.89 L1213.19,653.93 L1214.34,653.95 L1215.48,653.96 L1216.62,653.97 L1217.76,653.96 L1218.91,653.95 L1220.05,653.92 L1221.19,653.89 L1222.34,653.85 L1223.48,653.80 L1224.62,653.75 L1225.76,653.68 L1226.91,653.61 L1228.05,653.53 L1229.19,653.44 L1230.33,653.35 L1231.48,653.24 L1232.62,653.13 L1233.76,653.02 L1234.91,652.89 L1236.05,652.76 L1237.19,652.62 L1238.33,652.48 L1239.48,652.33 L1240.62,652.17 L1241.76,652.00 L1242.91,651.83 L1244.05,651.66 L1245.19,651.48 L1246.33,651.29 L1247.48,651.10 L1248.62,650.90 L1249.76,650.69 L1250.91,650.48 L1252.05,650.27 L1253.19,650.05 L1254.33,649.82 L1255.48,649.59 L1256.62,649.36 L1257.76,649.11 L1258.91,648.87 L1260.05,648.62 L1261.19,648.36 L1262.33,648.10 L1263.48,647.83 L1264.62,647.56 L1265.76,647.28 L1266.90,647.00 L1268.05,646.71 L1269.19,646.42 L1270.33,646.13 L1271.48,645.83 L1272.62,645.52 L1273.76,645.21 L1274.90,644.90 L1276.05,644.58 L1277.19,644.26 L1278.33,643.93 L1279.48,643.60 L1280.62,643.26 L1281.76,642.92 L1282.90,642.58 L1284.05,642.23 L1285.19,641.88 L1286.33,641.52 L1287.48,641.16 L1288.62,640.80 L1289.76,640.43 L1290.90,640.06 L1292.05,639.69 L1293.19,639.31 L1294.33,638.93 L1295.47,638.54 L1296.62,638.15 L1297.76,637.76 L1298.90,637.37 L1300.05,636.97 L1301.19,636.57 L1302.33,636.17 L1303.47,635.76 L1304.62,635.36 L1305.76,634.95 L1306.90,634.54 L1308.05,634.13 L1309.19,633.72 L1310.33,633.31 L1311.47,632.90 L1312.62,632.49 L1313.76,632.07 L1314.90,631.66 L1316.05,631.25 L1317.19,630.84 L1318.33,630.43 L1319.47,630.02 L1320.62,629.61 L1321.76,629.20 L1322.90,628.80 L1324.05,628.39 L1325.19,627.99 L1326.33,627.59 L1327.47,627.19 L1328.62,626.80 L1329.76,626.40 L1330.90,626.02 L1332.04,625.63 L1333.19,625.25 L1334.33,624.87 L1335.47,624.49 L1336.62,624.12 L1337.76,623.76 L1338.90,623.39 L1340.04,623.04 L1341.19,622.69 L1342.33,622.34 L1343.47,622.00 L1344.62,621.66 L1345.76,621.33 L1346.90,621.00 L1348.04,620.69 L1349.19,620.37 L1350.33,620.07 L1351.47,619.77 L1352.62,619.48 L1353.76,619.19 L1354.90,618.92 L1356.04,618.65 L1357.19,618.39 L1358.33,618.13 L1359.47,617.89 L1360.62,617.65 L1361.76,617.42 L1362.90,617.20 L1364.04,616.99 L1365.19,616.79 L1366.33,616.60 L1367.47,616.42 L1368.61,616.25 L1369.76,616.09 L1370.90,615.93 L1372.04,615.79 L1373.19,615.66 L1374.33,615.54 L1375.47,615.44 L1376.61,615.34 L1377.76,615.26 L1378.90,615.18" stroke="#ff7400"/>
<path d="M1037.20,695.65 L1038.34,695.33 L1039.49,695.01 L1040.63,694.70 L1041.77,694.40 L1042.91,694.11 L1044.06,693.81 L1045.20,693.52 L1046.34,693.24 L1047.49,692.95 L1048.63,692.67 L1049.77,692.39 L1050.91,692.10 L1052.06,691.82 L1053.20,691.53 L1054.34,691.24 L1055.48,690.95 L1056.63,690.65 L1057.77,690.35 L1058.91,690.04 L1060.06,689.72 L1061.20,689.40 L1062.34,689.06 L1063.48,688.72 L1064.63,688.36 L1065.77,688.00 L1066.91,687.62 L1068.06,687.23 L1069.20,686.83 L1070.34,686.41 L1071.48,685.97 L1072.63,685.52 L1073.77,685.06 L1074.91,684.57 L1076.06,684.07 L1077.20,683.54 L1078.34,683.00 L1079.48,682.43 L1080.63,681.85 L1081.77,681.24 L1082.91,680.60 L1084.06,679.94 L1085.20,679.26 L1086.34,678.55 L1087.48,677.81 L1088.63,677.05 L1089.77,676.26 L1090.91,675.43 L1092.05,674.58 L1093.20,673.70 L1094.34,672.78 L1095.48,671.83 L1096.63,670.85 L1097.77,669.83 L1098.91,668.78 L1100.05,667.69 L1101.20,666.57 L1102.34,665.41 L1103.48,664.22 L1104.63,663.00 L1105.77,661.74 L1106.91,660.46 L1108.05,659.15 L1109.20,657.81 L1110.34,656.45 L1111.48,655.06 L1112.63,653.65 L1113.77,652.23 L1114.91,650.78 L1116.05,649.31 L1117.20,647.83 L1118.34,646.33 L1119.48,644.82 L1120.63,643.29 L1121.77,641.75 L1122.91,640.21 L1124.05,638.65 L1125.20,637.09 L1126.34,635.52 L1127.48,633.95 L1128.62,632.37 L1129.77,630.79 L1130.91,629.21 L1132.05,627.64 L1133.20,626.07 L1134.34,624.51 L1135.48,622.98 L1136.62,621.47 L1137.77,619.99 L1138.91,618.55 L1140.05,617.16 L1141.20,615.82 L1142.34,614.53 L1143.48,613.31 L1144.62,612.16 L1145.77,611.09 L1146.91,610.09 L1148.05,609.19 L1149.20,608.38 L1150.34,607.67 L1151.48,607.07 L1152.62,606.58 L1153.77,606.21 L1154.91,605.97 L1156.05,605.85 L1157.19,605.84 L1158.34,605.95 L1159.48,606.15 L1160.62,606.44 L1161.77,606.82 L1162.91,607.28 L1164.05,607.81 L1165.19,608.41 L1166.34,609.05 L1167.48,609.75 L1168.62,610.49 L1169.77,611.27 L1170.91,612.07 L1172.05,612.89 L1173.19,613.73 L1174.34,614.57 L1175.48,615.40 L1176.62,616.23 L1177.77,617.05 L1178.91,617.85 L1180.05,618.65 L1181.19,619.43 L1182.34,620.19 L1183.48,620.95 L1184.62,621.69 L1185.77,622.42 L1186.91,623.14 L1188.05,623.85 L1189.19,624.54 L1190.34,625.23 L1191.48,625.90 L1192.62,626.56 L1193.76,627.20 L1194.91,627.84 L1196.05,628.46 L1197.19,629.07 L1198.34,629.67 L1199.48,630.26 L1200.62,630.84 L1201.76,631.40 L1202.91,631.95 L1204.05,632.50 L1205.19,633.02 L1206.34,633.54 L1207.48,634.05 L1208.62,634.54 L1209.76,635.02 L1210.91,635.49 L1212.05,635.95 L1213.19,636.40 L1214.34,636.84 L1215.48,637.26 L1216.62,637.68 L1217.76,638.08 L1218.91,638.47 L1220.05,638.85 L1221.19,639.21 L1222.34,639.57 L1223.48,639.92 L1224.62,640.25 L1225.76,640.57 L1226.91,640.88 L1228.05,641.18 L1229.19,641.47 L1230.33,641.75 L1231.48,642.01 L1232.62,642.27 L1233.76,642.51 L1234.91,642.75 L1236.05,642.97 L1237.19,643.18 L1238.33,643.38 L1239.48,643.57 L1240.62,643.74 L1241.76,643.91 L1242.91,644.06 L1244.05,644.21 L1245.19,644.34 L1246.33,644.47 L1247.48,644.58 L1248.62,644.68 L1249.76,644.77 L1250.91,644.85 L1252.05,644.92 L1253.19,644.98 L1254.33,645.02 L1255.48,645.06 L1256.62,645.09 L1257.76,645.10 L1258.91,645.11 L1260.05,645.10 L1261.19,645.08 L1262.33,645.06 L1263.48,645.02 L1264.62,644.97 L1265.76,644.91 L1266.90,644.84 L1268.05,644.76 L1269.19,644.67 L1270.33,644.57 L1271.48,644.46 L1272.62,644.34 L1273.76,644.21 L1274.90,644.07 L1276.05,643.92 L1277.19,643.76 L1278.33,643.58 L1279.48,643.40 L1280.62,643.21 L1281.76,643.00 L1282.90,642.79 L1284.05,642.57 L1285.19,642.33 L1286.33,642.09 L1287.48,641.84 L1288.62,641.57 L1289.76,641.30 L1290.90,641.02 L1292.05,640.72 L1293.19,640.42 L1294.33,640.11 L1295.47,639.78 L1296.62,639.45 L1297.76,639.11 L1298.90,638.76 L1300.05,638.40 L1301.19,638.03 L1302.33,637.66 L1303.47,637.28 L1304.62,636.89 L1305.76,636.50 L1306.90,636.09 L1308.05,635.69 L1309.19,635.27 L1310.33,634.86 L1311.47,634.43 L1312.62,634.00 L1313.76,633.57 L1314.90,633.14 L1316.05,632.70 L1317.19,632.25 L1318.33,631.81 L1319.47,631.36 L1320.62,630.91 L1321.76,630.46 L1322.90,630.00 L1324.05,629.55 L1325.19,629.09 L1326.33,628.64 L1327.47,628.18 L1328.62,627.72 L1329.76,627.27 L1330.90,626.81 L1332.04,626.36 L1333.19,625.91 L1334.33,625.46 L1335.47,625.01 L1336.62,624.56 L1337.76,624.12 L1338.90,623.68 L1340.04,623.25 L1341.19,622.81 L1342.33,622.39 L1343.47,621.96 L1344.62,621.55 L1345.76,621.13 L1346.90,620.73 L1348.04,620.32 L1349.19,619.93 L1350.33,619.54 L1351.47,619.16 L1352.62,618.79 L1353.76,618.42 L1354.90,618.06 L1356.04,617.71 L1357.19,617.37 L1358.33,617.04 L1359.47,616.72 L1360.62,616.40 L1361.76,616.10 L1362.90,615.81 L1364.04,615.53 L1365.19,615.26 L1366.33,615.00 L1367.47,614.75 L1368.61,614.51 L1369.76,614.29 L1370.90,614.08 L1372.04,613.88 L1373.19,613.70 L1374.33,613.53 L1375.47,613.38 L1376.61,613.24 L1377.76,613.11 L1378.90,613.00" stroke="#ff4600"/>
<path d="M1037.20,696.09 L1038.34,695.96 L1039.49,695.83 L1040.63,695.69 L1041.77,695.55 L1042.91,695.40 L1044.06,695.25 L1045.20,695.09 L1046.34,694.92 L1047.49,694.74 L1048.63,694.56 L1049.77,694.37 L1050.91,694.18 L1052.06,693.97 L1053.20,693.76 L1054.34,693.54 L1055.48,693.31 L1056.63,693.07 L1057.77,692.83 L1058.91,692.57 L1060.06,692.31 L1061.20,692.03 L1062.34,691.75 L1063.48,691.46 L1064.63,691.16 L1065.77,690.84 L1066.91,690.52 L1068.06,690.18 L1069.20,689.84 L1070.34,689.48 L1071.48,689.11 L1072.63,688.73 L1073.77,688.34 L1074.91,687.94 L1076.06,687.52 L1077.20,687.09 L1078.34,686.65 L1079.48,686.20 L1080.63,685.73 L1081.77,685.25 L1082.91,684.75 L1084.06,684.24 L1085.20,683.72 L1086.34,683.19 L1087.48,682.63 L1088.63,682.07 L1089.77,681.49 L1090.91,680.89 L1092.05,680.28 L1093.20,679.65 L1094.34,679.01 L1095.48,678.35 L1096.63,677.68 L1097.77,676.99 L1098.91,676.28 L1100.05,675.56 L1101.20,674.81 L1102.34,674.05 L1103.48,673.28 L1104.63,672.48 L1105.77,671.67 L1106.91,670.84 L1108.05,669.99 L1109.20,669.12 L1110.34,668.24 L1111.48,667.33 L1112.63,666.41 L1113.77,665.46 L1114.91,664.50 L1116.05,663.52 L1117.20,662.51 L1118.34,661.49 L1119.48,660.44 L1120.63,659.37 L1121.77,658.28 L1122.91,657.17 L1124.05,656.03 L1125.20,654.87 L1126.34,653.69 L1127.48,652.48 L1128.62,651.25 L1129.77,649.99 L1130.91,648.71 L1132.05,647.40 L1133.20,646.06 L1134.34,644.70 L1135.48,643.30 L1136.62,641.88 L1137.77,640.44 L1138.91,638.96 L1140.05,637.45 L1141.20,635.91 L1142.34,634.35 L1143.48,632.75 L1144.62,631.12 L1145.77,629.46 L1146.91,627.77 L1148.05,626.04 L1149.20,624.29 L1150.34,622.52 L1151.48,620.74 L1152.62,618.95 L1153.77,617.15 L1154.91,615.36 L1156.05,613.57 L1157.19,611.80 L1158.34,610.04 L1159.48,608.31 L1160.62,606.61 L1161.77,604.95 L1162.91,603.32 L1164.05,601.74 L1165.19,600.21 L1166.34,598.74 L1167.48,597.33 L1168.62,595.98 L1169.77,594.71 L1170.91,593.52 L1172.05,592.42 L1173.19,591.40 L1174.34,590.47 L1175.48,589.65 L1176.62,588.94 L1177.77,588.32 L1178.91,587.81 L1180.05,587.40 L1181.19,587.09 L1182.34,586.86 L1183.48,586.71 L1184.62,586.65 L1185.77,586.67 L1186.91,586.77 L1188.05,586.93 L1189.19,587.16 L1190.34,587.45 L1191.48,587.80 L1192.62,588.20 L1193.76,588.66 L1194.91,589.16 L1196.05,589.70 L1197.19,590.28 L1198.34,590.90 L1199.48,591.55 L1200.62,592.22 L1201.76,592.92 L1202.91,593.64 L1204.05,594.37 L1205.19,595.11 L1206.34,595.86 L1207.48,596.62 L1208.62,597.37 L1209.76,598.13 L1210.91,598.88 L1212.05,599.64 L1213.19,600.39 L1214.34,601.15 L1215.48,601.90 L1216.62,602.65 L1217.76,603.40 L1218.91,604.15 L1220.05,604.90 L1221.19,605.64 L1222.34,606.39 L1223.48,607.13 L1224.62,607.86 L1225.76,608.59 L1226.91,609.32 L1228.05,610.05 L1229.19,610.77 L1230.33,611.49 L1231.48,612.20 L1232.62,612.91 L1233.76,613.61 L1234.91,614.31 L1236.05,615.00 L1237.19,615.69 L1238.33,616.37 L1239.48,617.05 L1240.62,617.71 L1241.76,618.37 L1242.91,619.03 L1244.05,619.67 L1245.19,620.31 L1246.33,620.94 L1247.48,621.57 L1248.62,622.18 L1249.76,622.79 L1250.91,623.38 L1252.05,623.97 L1253.19,624.55 L1254.33,625.12 L1255.48,625.67 L1256.62,626.22 L1257.76,626.76 L1258.91,627.29 L1260.05,627.80 L1261.19,628.31 L1262.33,628.80 L1263.48,629.28 L1264.62,629.75 L1265.76,630.21 L1266.90,630.66 L1268.05,631.09 L1269.19,631.51 L1270.33,631.91 L1271.48,632.30 L1272.62,632.68 L1273.76,633.05 L1274.90,633.40 L1276.05,633.73 L1277.19,634.05 L1278.33,634.36 L1279.48,634.65 L1280.62,634.92 L1281.76,635.18 L1282.90,635.43 L1284.05,635.65 L1285.19,635.86 L1286.33,636.06 L1287.48,636.23 L1288.62,636.39 L1289.76,636.53 L1290.90,636.65 L1292.05,636.76 L1293.19,636.84 L1294.33,636.91 L1295.47,636.96 L1296.62,636.99 L1297.76,637.00 L1298.90,637.00 L1300.05,636.98 L1301.19,636.94 L1302.33,636.89 L1303.47,636.82 L1304.62,636.74 L1305.76,636.65 L1306.90,636.54 L1308.05,636.41 L1309.19,636.28 L1310.33,636.13 L1311.47,635.97 L1312.62,635.80 L1313.76,635.61 L1314.90,635.42 L1316.05,635.22 L1317.19,635.01 L1318.33,634.78 L1319.47,634.55 L1320.62,634.32 L1321.76,634.07 L1322.90,633.82 L1324.05,633.56 L1325.19,633.29 L1326.33,633.02 L1327.47,632.75 L1328.62,632.47 L1329.76,632.18 L1330.90,631.89 L1332.04,631.60 L1333.19,631.31 L1334.33,631.01 L1335.47,630.71 L1336.62,630.41 L1337.76,630.11 L1338.90,629.81 L1340.04,629.50 L1341.19,629.20 L1342.33,628.90 L1343.47,628.61 L1344.62,628.31 L1345.76,628.01 L1346.90,627.72 L1348.04,627.44 L1349.19,627.15 L1350.33,626.87 L1351.47,626.60 L1352.62,626.33 L1353.76,626.07 L1354.90,625.81 L1356.04,625.56 L1357.19,625.32 L1358.33,625.08 L1359.47,624.85 L1360.62,624.63 L1361.76,624.42 L1362.90,624.22 L1364.04,624.03 L1365.19,623.86 L1366.33,623.69 L1367.47,623.53 L1368.61,623.39 L1369.76,623.25 L1370.90,623.13 L1372.04,623.03 L1373.19,622.94 L1374.33,622.86 L1375.47,622.80 L1376.61,622.75 L1377.76,622.72 L1378.90,622.70" stroke="#ff1400"/>
<path d="M1037.20,696.03 L1038.34,696.00 L1039.49,695.95 L1040.63,695.90 L1041.77,695.85 L1042.91,695.78 L1044.06,695.71 L1045.20,695.63 L1046.34,695.55 L1047.49,695.45 L1048.63,695.35 L1049.77,695.25 L1050.91,695.13 L1052.06,695.01 L1053.20,694.88 L1054.34,694.74 L1055.48,694.60 L1056.63,694.44 L1057.77,694.28 L1058.91,694.11 L1060.06,693.93 L1061.20,693.74 L1062.34,693.55 L1063.48,693.35 L1064.63,693.13 L1065.77,692.91 L1066.91,692.68 L1068.06,692.44 L1069.20,692.19 L1070.34,691.94 L1071.48,691.67 L1072.63,691.39 L1073.77,691.11 L1074.91,690.81 L1076.06,690.51 L1077.20,690.19 L1078.34,689.87 L1079.48,689.53 L1080.63,689.19 L1081.77,688.84 L1082.91,688.47 L1084.06,688.10 L1085.20,687.71 L1086.34,687.32 L1087.48,686.91 L1088.63,686.49 L1089.77,686.07 L1090.91,685.63 L1092.05,685.18 L1093.20,684.72 L1094.34,684.24 L1095.48,683.76 L1096.63,683.27 L1097.77,682.76 L1098.91,682.24 L1100.05,681.71 L1101.20,681.17 L1102.34,680.62 L1103.48,680.06 L1104.63,679.48 L1105.77,678.89 L1106.91,678.29 L1108.05,677.68 L1109.20,677.05 L1110.34,676.41 L1111.48,675.76 L1112.63,675.10 L1113.77,674.42 L1114.91,673.73 L1116.05,673.03 L1117.20,672.32 L1118.34,671.59 L1119.48,670.85 L1120.63,670.09 L1121.77,669.32 L1122.91,668.54 L1124.05,667.75 L1125.20,666.94 L1126.34,666.11 L1127.48,665.28 L1128.62,664.42 L1129.77,663.56 L1130.91,662.68 L1132.05,661.79 L1133.20,660.88 L1134.34,659.95 L1135.48,659.02 L1136.62,658.06 L1137.77,657.10 L1138.91,656.12 L1140.05,655.12 L1141.20,654.11 L1142.34,653.08 L1143.48,652.04 L1144.62,650.98 L1145.77,649.91 L1146.91,648.82 L1148.05,647.71 L1149.20,646.59 L1150.34,645.44 L1151.48,644.27 L1152.62,643.06 L1153.77,641.83 L1154.91,640.56 L1156.05,639.25 L1157.19,637.90 L1158.34,636.51 L1159.48,635.07 L1160.62,633.58 L1161.77,632.04 L1162.91,630.44 L1164.05,628.78 L1165.19,627.05 L1166.34,625.27 L1167.48,623.41 L1168.62,621.48 L1169.77,619.48 L1170.91,617.40 L1172.05,615.24 L1173.19,612.99 L1174.34,610.66 L1175.48,608.24 L1176.62,605.72 L1177.77,603.13 L1178.91,600.49 L1180.05,597.82 L1181.19,595.15 L1182.34,592.50 L1183.48,589.91 L1184.62,587.38 L1185.77,584.92 L1186.91,582.53 L1188.05,580.24 L1189.19,578.03 L1190.34,575.93 L1191.48,573.95 L1192.62,572.08 L1193.76,570.33 L1194.91,568.73 L1196.05,567.26 L1197.19,565.94 L1198.34,564.75 L1199.48,563.69 L1200.62,562.76 L1201.76,561.95 L1202.91,561.26 L1204.05,560.69 L1205.19,560.23 L1206.34,559.88 L1207.48,559.63 L1208.62,559.49 L1209.76,559.44 L1210.91,559.49 L1212.05,559.63 L1213.19,559.85 L1214.34,560.16 L1215.48,560.55 L1216.62,561.01 L1217.76,561.54 L1218.91,562.15 L1220.05,562.81 L1221.19,563.54 L1222.34,564.33 L1223.48,565.16 L1224.62,566.05 L1225.76,566.99 L1226.91,567.96 L1228.05,568.98 L1229.19,570.02 L1230.33,571.10 L1231.48,572.21 L1232.62,573.34 L1233.76,574.49 L1234.91,575.66 L1236.05,576.83 L1237.19,578.02 L1238.33,579.20 L1239.48,580.39 L1240.62,581.57 L1241.76,582.74 L1242.91,583.90 L1244.05,585.04 L1245.19,586.16 L1246.33,587.26 L1247.48,588.33 L1248.62,589.38 L1249.76,590.42 L1250.91,591.43 L1252.05,592.42 L1253.19,593.39 L1254.33,594.34 L1255.48,595.27 L1256.62,596.18 L1257.76,597.07 L1258.91,597.94 L1260.05,598.80 L1261.19,599.63 L1262.33,600.45 L1263.48,601.25 L1264.62,602.03 L1265.76,602.80 L1266.90,603.55 L1268.05,604.28 L1269.19,604.99 L1270.33,605.69 L1271.48,606.38 L1272.62,607.04 L1273.76,607.70 L1274.90,608.33 L1276.05,608.96 L1277.19,609.57 L1278.33,610.16 L1279.48,610.74 L1280.62,611.31 L1281.76,611.86 L1282.90,612.41 L1284.05,612.94 L1285.19,613.45 L1286.33,613.96 L1287.48,614.45 L1288.62,614.93 L1289.76,615.40 L1290.90,615.86 L1292.05,616.31 L1293.19,616.75 L1294.33,617.18 L1295.47,617.60 L1296.62,618.00 L1297.76,618.40 L1298.90,618.79 L1300.05,619.17 L1301.19,619.54 L1302.33,619.90 L1303.47,620.25 L1304.62,620.59 L1305.76,620.92 L1306.90,621.24 L1308.05,621.55 L1309.19,621.85 L1310.33,622.14 L1311.47,622.41 L1312.62,622.68 L1313.76,622.94 L1314.90,623.19 L1316.05,623.43 L1317.19,623.66 L1318.33,623.88 L1319.47,624.09 L1320.62,624.29 L1321.76,624.48 L1322.90,624.66 L1324.05,624.83 L1325.19,624.99 L1326.33,625.14 L1327.47,625.28 L1328.62,625.41 L1329.76,625.53 L1330.90,625.64 L1332.04,625.73 L1333.19,625.82 L1334.33,625.90 L1335.47,625.97 L1336.62,626.03 L1337.76,626.08 L1338.90,626.12 L1340.04,626.15 L1341.19,626.16 L1342.33,626.17 L1343.47,626.17 L1344.62,626.16 L1345.76,626.14 L1346.90,626.10 L1348.04,626.06 L1349.19,626.01 L1350.33,625.94 L1351.47,625.87 L1352.62,625.79 L1353.76,625.70 L1354.90,625.59 L1356.04,625.48 L1357.19,625.35 L1358.33,625.22 L1359.47,625.08 L1360.62,624.92 L1361.76,624.76 L1362.90,624.58 L1364.04,624.40 L1365.19,624.20 L1366.33,623.99 L1367.47,623.78 L1368.61,623.55 L1369.76,623.31 L1370.90,623.07 L1372.04,622.81 L1373.19,622.54 L1374.33,622.27 L1375.47,621.98 L1376.61,621.68 L1377.76,621.37 L1378.90,621.05" stroke="#dc0000"/>
<path d="M1037.20,696.52 L1038.34,696.71 L1039.49,696.88 L1040.63,697.04 L1041.77,697.18 L1042.91,697.30 L1044.06,697.41 L1045.20,697.51 L1046.34,697.59 L1047.49,697.65 L1048.63,697.70 L1049.77,697.74 L1050.91,697.76 L1052.06,697.77 L1053.20,697.76 L1054.34,697.75 L1055.48,697.72 L1056.63,697.67 L1057.77,697.62 L1058.91,697.55 L1060.06,697.48 L1061.20,697.39 L1062.34,697.29 L1063.48,697.18 L1064.63,697.06 L1065.77,696.93 L1066.91,696.80 L1068.06,696.65 L1069.20,696.49 L1070.34,696.33 L1071.48,696.15 L1072.63,695.97 L1073.77,695.78 L1074.91,695.58 L1076.06,695.38 L1077.20,695.16 L1078.34,694.95 L1079.48,694.72 L1080.63,694.49 L1081.77,694.25 L1082.91,694.01 L1084.06,693.76 L1085.20,693.51 L1086.34,693.26 L1087.48,692.99 L1088.63,692.73 L1089.77,692.46 L1090.91,692.19 L1092.05,691.91 L1093.20,691.63 L1094.34,691.35 L1095.48,691.07 L1096.63,690.78 L1097.77,690.50 L1098.91,690.21 L1100.05,689.92 L1101.20,689.63 L1102.34,689.34 L1103.48,689.05 L1104.63,688.76 L1105.77,688.47 L1106.91,688.18 L1108.05,687.89 L1109.20,687.60 L1110.34,687.31 L1111.48,687.03 L1112.63,686.75 L1113.77,686.47 L1114.91,686.19 L1116.05,685.92 L1117.20,685.65 L1118.34,685.37 L1119.48,685.10 L1120.63,684.83 L1121.77,684.55 L1122.91,684.27 L1124.05,683.98 L1125.20,683.68 L1126.34,683.37 L1127.48,683.06 L1128.62,682.73 L1129.77,682.39 L1130.91,682.04 L1132.05,681.67 L1133.20,681.28 L1134.34,680.87 L1135.48,680.45 L1136.62,680.00 L1137.77,679.53 L1138.91,679.04 L1140.05,678.52 L1141.20,677.98 L1142.34,677.40 L1143.48,676.80 L1144.62,676.17 L1145.77,675.51 L1146.91,674.81 L1148.05,674.08 L1149.20,673.31 L1150.34,672.50 L1151.48,671.66 L1152.62,670.77 L1153.77,669.85 L1154.91,668.88 L1156.05,667.87 L1157.19,666.81 L1158.34,665.71 L1159.48,664.56 L1160.62,663.36 L1161.77,662.11 L1162.91,660.81 L1164.05,659.45 L1165.19,658.04 L1166.34,656.58 L1167.48,655.06 L1168.62,653.48 L1169.77,651.84 L1170.91,650.15 L1172.05,648.38 L1173.19,646.56 L1174.34,644.67 L1175.48,642.72 L1176.62,640.70 L1177.77,638.61 L1178.91,636.45 L1180.05,634.22 L1181.19,631.92 L1182.34,629.54 L1183.48,627.09 L1184.62,624.57 L1185.77,621.96 L1186.91,619.28 L1188.05,616.53 L1189.19,613.71 L1190.34,610.84 L1191.48,607.93 L1192.62,604.98 L1193.76,602.00 L1194.91,599.02 L1196.05,596.02 L1197.19,593.03 L1198.34,590.05 L1199.48,587.09 L1200.62,584.16 L1201.76,581.27 L1202.91,578.43 L1204.05,575.66 L1205.19,572.94 L1206.34,570.31 L1207.48,567.75 L1208.62,565.26 L1209.76,562.86 L1210.91,560.53 L1212.05,558.28 L1213.19,556.12 L1214.34,554.04 L1215.48,552.04 L1216.62,550.12 L1217.76,548.29 L1218.91,546.55 L1220.05,544.89 L1221.19,543.33 L1222.34,541.85 L1223.48,540.47 L1224.62,539.18 L1225.76,537.98 L1226.91,536.88 L1228.05,535.87 L1229.19,534.96 L1230.33,534.14 L1231.48,533.43 L1232.62,532.81 L1233.76,532.30 L1234.91,531.89 L1236.05,531.58 L1237.19,531.38 L1238.33,531.28 L1239.48,531.29 L1240.62,531.41 L1241.76,531.63 L1242.91,531.94 L1244.05,532.36 L1245.19,532.86 L1246.33,533.45 L1247.48,534.13 L1248.62,534.88 L1249.76,535.71 L1250.91,536.61 L1252.05,537.58 L1253.19,538.61 L1254.33,539.70 L1255.48,540.85 L1256.62,542.05 L1257.76,543.29 L1258.91,544.58 L1260.05,545.91 L1261.19,547.28 L1262.33,548.68 L1263.48,550.10 L1264.62,551.55 L1265.76,553.02 L1266.90,554.50 L1268.05,556.00 L1269.19,557.51 L1270.33,559.01 L1271.48,560.52 L1272.62,562.03 L1273.76,563.53 L1274.90,565.02 L1276.05,566.49 L1277.19,567.94 L1278.33,569.37 L1279.48,570.77 L1280.62,572.14 L1281.76,573.47 L1282.90,574.77 L1284.05,576.03 L1285.19,577.25 L1286.33,578.44 L1287.48,579.60 L1288.62,580.72 L1289.76,581.81 L1290.90,582.87 L1292.05,583.90 L1293.19,584.90 L1294.33,585.87 L1295.47,586.81 L1296.62,587.73 L1297.76,588.62 L1298.90,589.49 L1300.05,590.33 L1301.19,591.15 L1302.33,591.95 L1303.47,592.72 L1304.62,593.48 L1305.76,594.21 L1306.90,594.93 L1308.05,595.63 L1309.19,596.31 L1310.33,596.97 L1311.47,597.63 L1312.62,598.26 L1313.76,598.88 L1314.90,599.49 L1316.05,600.09 L1317.19,600.68 L1318.33,601.26 L1319.47,601.83 L1320.62,602.39 L1321.76,602.94 L1322.90,603.48 L1324.05,604.01 L1325.19,604.54 L1326.33,605.05 L1327.47,605.56 L1328.62,606.06 L1329.76,606.55 L1330.90,607.03 L1332.04,607.50 L1333.19,607.96 L1334.33,608.41 L1335.47,608.85 L1336.62,609.29 L1337.76,609.71 L1338.90,610.13 L1340.04,610.53 L1341.19,610.93 L1342.33,611.32 L1343.47,611.70 L1344.62,612.07 L1345.76,612.43 L1346.90,612.78 L1348.04,613.12 L1349.19,613.46 L1350.33,613.78 L1351.47,614.10 L1352.62,614.40 L1353.76,614.70 L1354.90,614.98 L1356.04,615.26 L1357.19,615.53 L1358.33,615.79 L1359.47,616.04 L1360.62,616.28 L1361.76,616.51 L1362.90,616.73 L1364.04,616.94 L1365.19,617.14 L1366.33,617.34 L1367.47,617.52 L1368.61,617.70 L1369.76,617.86 L1370.90,618.02 L1372.04,618.16 L1373.19,618.30 L1374.33,618.42 L1375.47,618.54 L1376.61,618.65 L1377.76,618.75 L1378.90,618.83" stroke="#800000"/>
</g>
<text x="113.20" y="349.70" font-size="21.5" text-anchor="middle" font-weight="normal" >0.0</text>
<text x="182.30" y="349.70" font-size="21.5" text-anchor="middle" font-weight="normal" >0.1</text>
<text x="251.40" y="349.70" font-size="21.5" text-anchor="middle" font-weight="normal" >0.2</text>
<text x="320.50" y="349.70" font-size="21.5" text-anchor="middle" font-weight="normal" >0.3</text>
<text x="389.60" y="349.70" font-size="21.5" text-anchor="middle" font-weight="normal" >0.4</text>
<text x="458.70" y="349.70" font-size="21.5" text-anchor="middle" font-weight="normal" >0.5</text>
<text x="106.70" y="333.50" font-size="21.5" text-anchor="end" font-weight="normal" >0</text>
<text x="106.70" y="275.56" font-size="21.5" text-anchor="end" font-weight="normal" >5</text>
<text x="106.70" y="217.62" font-size="21.5" text-anchor="end" font-weight="normal" >10</text>
<text x="106.70" y="159.68" font-size="21.5" text-anchor="end" font-weight="normal" >15</text>
<text x="106.70" y="101.74" font-size="21.5" text-anchor="end" font-weight="normal" >20</text>
<text x="106.70" y="43.80" font-size="21.5" text-anchor="end" font-weight="normal" >25</text>
<text x="573.20" y="349.70" font-size="21.5" text-anchor="middle" font-weight="normal" >0.0</text>
<text x="642.20" y="349.70" font-size="21.5" text-anchor="middle" font-weight="normal" >0.1</text>
<text x="711.20" y="349.70" font-size="21.5" text-anchor="middle" font-weight="normal" >0.2</text>
<text x="780.20" y="349.70" font-size="21.5" text-anchor="middle" font-weight="normal" >0.3</text>
<text x="849.20" y="349.70" font-size="21.5" text-anchor="middle" font-weight="normal" >0.4</text>
<text x="918.20" y="349.70" font-size="21.5" text-anchor="middle" font-weight="normal" >0.5</text>
<text x="566.70" y="333.50" font-size="21.5" text-anchor="end" font-weight="normal" >0</text>
<text x="566.70" y="261.07" font-size="21.5" text-anchor="end" font-weight="normal" >20</text>
<text x="566.70" y="188.65" font-size="21.5" text-anchor="end" font-weight="normal" >40</text>
<text x="566.70" y="116.23" font-size="21.5" text-anchor="end" font-weight="normal" >60</text>
<text x="566.70" y="43.80" font-size="21.5" text-anchor="end" font-weight="normal" >80</text>
<text x="1036.20" y="349.70" font-size="21.5" text-anchor="middle" font-weight="normal" >0.0</text>
<text x="1105.16" y="349.70" font-size="21.5" text-anchor="middle" font-weight="normal" >0.1</text>
<text x="1174.12" y="349.70" font-size="21.5" text-anchor="middle" font-weight="normal" >0.2</text>
<text x="1243.08" y="349.70" font-size="21.5" text-anchor="middle" font-weight="normal" >0.3</text>
<text x="1312.04" y="349.70" font-size="21.5" text-anchor="middle" font-weight="normal" >0.4</text>
<text x="1381.00" y="349.70" font-size="21.5" text-anchor="middle" font-weight="normal" >0.5</text>
<text x="1029.70" y="333.50" font-size="21.5" text-anchor="end" font-weight="normal" >0</text>
<text x="1029.70" y="261.38" font-size="21.5" text-anchor="end" font-weight="normal" >20</text>
<text x="1029.70" y="189.25" font-size="21.5" text-anchor="end" font-weight="normal" >40</text>
<text x="1029.70" y="117.13" font-size="21.5" text-anchor="end" font-weight="normal" >60</text>
<text x="1029.70" y="45.00" font-size="21.5" text-anchor="end" font-weight="normal" >80</text>
<text x="114.00" y="721.90" font-size="21.5" text-anchor="middle" font-weight="normal" >0.0</text>
<text x="182.56" y="721.90" font-size="21.5" text-anchor="middle" font-weight="normal" >0.1</text>
<text x="251.12" y="721.90" font-size="21.5" text-anchor="middle" font-weight="normal" >0.2</text>
<text x="319.68" y="721.90" font-size="21.5" text-anchor="middle" font-weight="normal" >0.3</text>
<text x="388.24" y="721.90" font-size="21.5" text-anchor="middle" font-weight="normal" >0.4</text>
<text x="456.80" y="721.90" font-size="21.5" text-anchor="middle" font-weight="normal" >0.5</text>
<text x="107.50" y="704.00" font-size="21.5" text-anchor="end" font-weight="normal" >0.00</text>
<text x="107.50" y="646.80" font-size="21.5" text-anchor="end" font-weight="normal" >0.02</text>
<text x="107.50" y="589.60" font-size="21.5" text-anchor="end" font-weight="normal" >0.04</text>
<text x="107.50" y="532.40" font-size="21.5" text-anchor="end" font-weight="normal" >0.06</text>
<text x="107.50" y="475.20" font-size="21.5" text-anchor="end" font-weight="normal" >0.08</text>
<text x="107.50" y="418.00" font-size="21.5" text-anchor="end" font-weight="normal" >0.10</text>
<text x="574.20" y="721.90" font-size="21.5" text-anchor="middle" font-weight="normal" >0.0</text>
<text x="642.62" y="721.90" font-size="21.5" text-anchor="middle" font-weight="normal" >0.1</text>
<text x="711.04" y="721.90" font-size="21.5" text-anchor="middle" font-weight="normal" >0.2</text>
<text x="779.46" y="721.90" font-size="21.5" text-anchor="middle" font-weight="normal" >0.3</text>
<text x="847.88" y="721.90" font-size="21.5" text-anchor="middle" font-weight="normal" >0.4</text>
<text x="916.30" y="721.90" font-size="21.5" text-anchor="middle" font-weight="normal" >0.5</text>
<text x="567.70" y="704.00" font-size="21.5" text-anchor="end" font-weight="normal" >0.0</text>
<text x="567.70" y="656.33" font-size="21.5" text-anchor="end" font-weight="normal" >0.1</text>
<text x="567.70" y="608.67" font-size="21.5" text-anchor="end" font-weight="normal" >0.2</text>
<text x="567.70" y="561.00" font-size="21.5" text-anchor="end" font-weight="normal" >0.3</text>
<text x="567.70" y="513.33" font-size="21.5" text-anchor="end" font-weight="normal" >0.4</text>
<text x="567.70" y="465.67" font-size="21.5" text-anchor="end" font-weight="normal" >0.5</text>
<text x="567.70" y="418.00" font-size="21.5" text-anchor="end" font-weight="normal" >0.6</text>
<text x="1037.20" y="721.90" font-size="21.5" text-anchor="middle" font-weight="normal" >0.0</text>
<text x="1105.54" y="721.90" font-size="21.5" text-anchor="middle" font-weight="normal" >0.1</text>
<text x="1173.88" y="721.90" font-size="21.5" text-anchor="middle" font-weight="normal" >0.2</text>
<text x="1242.22" y="721.90" font-size="21.5" text-anchor="middle" font-weight="normal" >0.3</text>
<text x="1310.56" y="721.90" font-size="21.5" text-anchor="middle" font-weight="normal" >0.4</text>
<text x="1378.90" y="721.90" font-size="21.5" text-anchor="middle" font-weight="normal" >0.5</text>
<text x="1030.70" y="703.20" font-size="21.5" text-anchor="end" font-weight="normal" >0.0</text>
<text x="1030.70" y="655.47" font-size="21.5" text-anchor="end" font-weight="normal" >0.1</text>
<text x="1030.70" y="607.73" font-size="21.5" text-anchor="end" font-weight="normal" >0.2</text>
<text x="1030.70" y="560.00" font-size="21.5" text-anchor="end" font-weight="normal" >0.3</text>
<text x="1030.70" y="512.27" font-size="21.5" text-anchor="end" font-weight="normal" >0.4</text>
<text x="1030.70" y="464.53" font-size="21.5" text-anchor="end" font-weight="normal" >0.5</text>
<text x="1030.70" y="416.80" font-size="21.5" text-anchor="end" font-weight="normal" >0.6</text>
<text x="15.40" y="37.30" font-size="31" text-anchor="start" font-weight="normal" letter-spacing="1">(a)</text>
<text x="475.70" y="37.50" font-size="31" text-anchor="start" font-weight="normal" letter-spacing="1">(b)</text>
<text x="943.10" y="37.50" font-size="31" text-anchor="start" font-weight="normal" letter-spacing="1">(c)</text>
<text x="15.00" y="411.40" font-size="31" text-anchor="start" font-weight="normal" letter-spacing="1">(d)</text>
<text x="476.00" y="411.40" font-size="31" text-anchor="start" font-weight="normal" letter-spacing="1">(e)</text>
<text x="943.10" y="411.40" font-size="31" text-anchor="start" font-weight="normal" letter-spacing="1">(f)</text>
<text x="285.45" y="379.90" font-size="25.5" text-anchor="middle">V<tspan font-size="17" dy="7.8">D</tspan><tspan dy="-7.8"> (V)</tspan></text>
<text x="745.20" y="379.90" font-size="25.5" text-anchor="middle">V<tspan font-size="17" dy="7.8">D</tspan><tspan dy="-7.8"> (V)</tspan></text>
<text x="1208.10" y="379.90" font-size="25.5" text-anchor="middle">V<tspan font-size="17" dy="7.8">D</tspan><tspan dy="-7.8"> (V)</tspan></text>
<text x="284.90" y="752.50" font-size="25.5" text-anchor="middle">V<tspan font-size="17" dy="7.8">D</tspan><tspan dy="-7.8"> (V)</tspan></text>
<text x="744.75" y="752.50" font-size="25.5" text-anchor="middle">V<tspan font-size="17" dy="7.8">D</tspan><tspan dy="-7.8"> (V)</tspan></text>
<text x="1207.55" y="752.50" font-size="25.5" text-anchor="middle">V<tspan font-size="17" dy="7.8">D</tspan><tspan dy="-7.8"> (V)</tspan></text>
<text transform="translate(65.60,178.00) rotate(-90)" x="0" y="0" font-size="26" text-anchor="middle">I<tspan font-size="17" dy="7.8">D</tspan><tspan dy="-7.8"> (nA)</tspan></text>
<text transform="translate(526.00,182.00) rotate(-90)" x="0" y="0" font-size="26" text-anchor="middle">I<tspan font-size="17" dy="7.8">D</tspan><tspan dy="-7.8"> (nA)</tspan></text>
<text transform="translate(988.00,182.00) rotate(-90)" x="0" y="0" font-size="26" text-anchor="middle">I<tspan font-size="17" dy="7.8">D</tspan><tspan dy="-7.8"> (nA)</tspan></text>
<text transform="translate(49.20,546.90) rotate(-90)" x="0" y="0" font-size="26" text-anchor="middle">dI<tspan font-size="17" dy="7.8">D</tspan><tspan dy="-7.8">/dV</tspan><tspan font-size="17" dy="7.8">D</tspan><tspan dy="-7.8"> (µS)</tspan></text>
<text transform="translate(520.60,555.40) rotate(-90)" x="0" y="0" font-size="26" text-anchor="middle">dI<tspan font-size="17" dy="7.8">D</tspan><tspan dy="-7.8">/dV</tspan><tspan font-size="17" dy="7.8">D</tspan><tspan dy="-7.8"> (µS)</tspan></text>
<text transform="translate(983.75,553.70) rotate(-90)" x="0" y="0" font-size="26" text-anchor="middle">dI<tspan font-size="17" dy="7.8">D</tspan><tspan dy="-7.8">/dV</tspan><tspan font-size="17" dy="7.8">D</tspan><tspan dy="-7.8"> (µS)</tspan></text>
<text x="322.90" y="315.00" font-size="22.3" text-anchor="start" font-weight="normal" >Room Temp.</text>
<text x="784.40" y="316.10" font-size="22.3" text-anchor="start" font-weight="normal" >Room Temp.</text>
<text x="1243.90" y="313.60" font-size="22.3" text-anchor="start" font-weight="normal" >Room Temp.</text>
<text x="194.70" y="686.00" font-size="22.3" text-anchor="start" font-weight="normal" >Room Temp.</text>
<text x="779.90" y="438.70" font-size="22.3" text-anchor="start" font-weight="normal" >Room Temp.</text>
<text x="1244.00" y="686.00" font-size="22.3" text-anchor="start" font-weight="normal" >Room Temp.</text>
<text x="125.80" y="63.90" font-size="22.7" text-anchor="start" font-weight="bold" >SET-A</text>
<text x="584.00" y="63.70" font-size="22.7" text-anchor="start" font-weight="bold" >SET-B</text>
<text x="1045.00" y="63.50" font-size="22.7" text-anchor="start" font-weight="bold" >SET-C</text>
<text x="125.80" y="437.30" font-size="22.7" text-anchor="start" font-weight="bold" >SET-A</text>
<text x="583.80" y="437.30" font-size="22.7" text-anchor="start" font-weight="bold" >SET-B</text>
<text x="1045.60" y="437.30" font-size="22.7" text-anchor="start" font-weight="bold" >SET-C</text>
<text x="123.40" y="91.00" font-size="21.5">V<tspan font-size="14" dy="3.5">G</tspan><tspan dy="-3.5"> =</tspan></text>
<path d="M171.60,83.80 H185.40" stroke="#d2d2fa" stroke-width="3" stroke-linecap="round"/>
<text x="191.90" y="91.80" font-size="21.5" text-anchor="start" font-weight="normal" >0.70 V</text>
<path d="M171.60,104.20 H185.40" stroke="#9494f6" stroke-width="3" stroke-linecap="round"/>
<text x="191.90" y="111.88" font-size="21.5" text-anchor="start" font-weight="normal" >0.75 V</text>
<path d="M171.60,124.60 H185.40" stroke="#5a5af2" stroke-width="3" stroke-linecap="round"/>
<text x="191.90" y="131.96" font-size="21.5" text-anchor="start" font-weight="normal" >0.80 V</text>
<path d="M171.60,145.00 H185.40" stroke="#2020ec" stroke-width="3" stroke-linecap="round"/>
<text x="191.90" y="152.04" font-size="21.5" text-anchor="start" font-weight="normal" >0.85 V</text>
<path d="M171.60,165.40 H185.40" stroke="#0000dc" stroke-width="3" stroke-linecap="round"/>
<text x="191.90" y="172.12" font-size="21.5" text-anchor="start" font-weight="normal" >0.90 V</text>
<path d="M171.60,185.80 H185.40" stroke="#0000b0" stroke-width="3" stroke-linecap="round"/>
<text x="191.90" y="192.20" font-size="21.5" text-anchor="start" font-weight="normal" >0.95 V</text>
<path d="M171.60,206.20 H185.40" stroke="#00007e" stroke-width="3" stroke-linecap="round"/>
<text x="191.90" y="212.28" font-size="21.5" text-anchor="start" font-weight="normal" >1.00 V</text>
<text x="612.60" y="88.30" font-size="21.5">V<tspan font-size="14" dy="3.5">G</tspan><tspan dy="-3.5"> =</tspan></text>
<path d="M585.70,108.90 H603.80" stroke="#14e014" stroke-width="3" stroke-linecap="round"/>
<text x="611.40" y="114.70" font-size="21.5" text-anchor="start" font-weight="normal" >0.80 V</text>
<path d="M585.70,130.25 H603.80" stroke="#14c414" stroke-width="3" stroke-linecap="round"/>
<text x="611.40" y="136.90" font-size="21.5" text-anchor="start" font-weight="normal" >0.84 V</text>
<path d="M585.70,151.60 H603.80" stroke="#0aa80a" stroke-width="3" stroke-linecap="round"/>
<text x="611.40" y="159.10" font-size="21.5" text-anchor="start" font-weight="normal" >0.88 V</text>
<path d="M585.70,172.95 H603.80" stroke="#0a8c0a" stroke-width="3" stroke-linecap="round"/>
<text x="611.40" y="181.30" font-size="21.5" text-anchor="start" font-weight="normal" >0.92 V</text>
<path d="M585.70,194.30 H603.80" stroke="#087808" stroke-width="3" stroke-linecap="round"/>
<text x="611.40" y="203.50" font-size="21.5" text-anchor="start" font-weight="normal" >0.96 V</text>
<path d="M585.70,215.65 H603.80" stroke="#086408" stroke-width="3" stroke-linecap="round"/>
<text x="611.40" y="225.70" font-size="21.5" text-anchor="start" font-weight="normal" >1.00 V</text>
<path d="M681.00,108.90 H698.60" stroke="#054605" stroke-width="3" stroke-linecap="round"/>
<text x="704.50" y="114.70" font-size="21.5" text-anchor="start" font-weight="normal" >1.04 V</text>
<path d="M681.00,130.25 H698.60" stroke="#022f02" stroke-width="3" stroke-linecap="round"/>
<text x="704.50" y="136.90" font-size="21.5" text-anchor="start" font-weight="normal" >1.08 V</text>
<text x="1047.40" y="90.20" font-size="21.5">V<tspan font-size="14" dy="3.5">G</tspan><tspan dy="-3.5"> =</tspan></text>
<path d="M1098.90,81.00 H1117.50" stroke="#ffe100" stroke-width="3" stroke-linecap="round"/>
<text x="1127.70" y="89.00" font-size="21.5" text-anchor="start" font-weight="normal" >1.05 V</text>
<path d="M1098.90,101.40 H1117.50" stroke="#ffa800" stroke-width="3" stroke-linecap="round"/>
<text x="1127.70" y="109.07" font-size="21.5" text-anchor="start" font-weight="normal" >1.10 V</text>
<path d="M1098.90,121.80 H1117.50" stroke="#ff7400" stroke-width="3" stroke-linecap="round"/>
<text x="1127.70" y="129.14" font-size="21.5" text-anchor="start" font-weight="normal" >1.15 V</text>
<path d="M1098.90,142.20 H1117.50" stroke="#ff4600" stroke-width="3" stroke-linecap="round"/>
<text x="1127.70" y="149.21" font-size="21.5" text-anchor="start" font-weight="normal" >1.20 V</text>
<path d="M1098.90,162.60 H1117.50" stroke="#ff1400" stroke-width="3" stroke-linecap="round"/>
<text x="1127.70" y="169.28" font-size="21.5" text-anchor="start" font-weight="normal" >1.25 V</text>
<path d="M1098.90,183.00 H1117.50" stroke="#dc0000" stroke-width="3" stroke-linecap="round"/>
<text x="1127.70" y="189.35" font-size="21.5" text-anchor="start" font-weight="normal" >1.30 V</text>
<path d="M1098.90,203.40 H1117.50" stroke="#800000" stroke-width="3" stroke-linecap="round"/>
<text x="1127.70" y="209.42" font-size="21.5" text-anchor="start" font-weight="normal" >1.35 V</text>
<text x="206.80" y="439.90" font-size="21.5">V<tspan font-size="14" dy="3.5">G</tspan><tspan dy="-3.5"> =</tspan></text>
<path d="M258.50,432.00 H277.10" stroke="#d2d2fa" stroke-width="3" stroke-linecap="round"/>
<text x="286.30" y="439.00" font-size="21.5" text-anchor="start" font-weight="normal" >0.70 V</text>
<path d="M258.50,453.50 H277.10" stroke="#9494f6" stroke-width="3" stroke-linecap="round"/>
<text x="286.30" y="460.95" font-size="21.5" text-anchor="start" font-weight="normal" >0.75 V</text>
<path d="M363.30,432.00 H381.20" stroke="#5a5af2" stroke-width="3" stroke-linecap="round"/>
<text x="390.60" y="439.00" font-size="21.5" text-anchor="start" font-weight="normal" >0.80 V</text>
<path d="M363.30,453.50 H381.20" stroke="#2020ec" stroke-width="3" stroke-linecap="round"/>
<text x="390.60" y="460.95" font-size="21.5" text-anchor="start" font-weight="normal" >0.85 V</text>
<path d="M363.30,475.00 H381.20" stroke="#0000dc" stroke-width="3" stroke-linecap="round"/>
<text x="390.60" y="482.90" font-size="21.5" text-anchor="start" font-weight="normal" >0.90 V</text>
<text x="593.40" y="470.60" font-size="21.5">V<tspan font-size="14" dy="3.5">G</tspan><tspan dy="-3.5"> =</tspan></text>
<path d="M644.00,462.40 H662.60" stroke="#14c414" stroke-width="3" stroke-linecap="round"/>
<text x="673.30" y="468.30" font-size="21.5" text-anchor="start" font-weight="normal" >0.84 V</text>
<path d="M644.00,484.07 H662.60" stroke="#0aa80a" stroke-width="3" stroke-linecap="round"/>
<text x="673.30" y="490.50" font-size="21.5" text-anchor="start" font-weight="normal" >0.88 V</text>
<path d="M644.00,505.74 H662.60" stroke="#0a8c0a" stroke-width="3" stroke-linecap="round"/>
<text x="673.30" y="512.70" font-size="21.5" text-anchor="start" font-weight="normal" >0.92 V</text>
<path d="M644.00,527.41 H662.60" stroke="#087808" stroke-width="3" stroke-linecap="round"/>
<text x="673.30" y="534.90" font-size="21.5" text-anchor="start" font-weight="normal" >0.96 V</text>
<path d="M743.00,462.40 H760.60" stroke="#086408" stroke-width="3" stroke-linecap="round"/>
<text x="767.20" y="468.30" font-size="21.5" text-anchor="start" font-weight="normal" >1.00 V</text>
<path d="M743.00,484.07 H760.60" stroke="#054605" stroke-width="3" stroke-linecap="round"/>
<text x="767.20" y="490.50" font-size="21.5" text-anchor="start" font-weight="normal" >1.04 V</text>
<text x="1106.40" y="466.60" font-size="21.5">V<tspan font-size="14" dy="3.5">G</tspan><tspan dy="-3.5"> =</tspan></text>
<path d="M1157.80,459.50 H1176.10" stroke="#ffa800" stroke-width="3" stroke-linecap="round"/>
<text x="1185.60" y="465.40" font-size="21.5" text-anchor="start" font-weight="normal" >1.10 V</text>
<path d="M1157.80,481.00 H1176.10" stroke="#ff7400" stroke-width="3" stroke-linecap="round"/>
<text x="1185.60" y="487.50" font-size="21.5" text-anchor="start" font-weight="normal" >1.15 V</text>
<path d="M1157.80,502.50 H1176.10" stroke="#ff4600" stroke-width="3" stroke-linecap="round"/>
<text x="1185.60" y="509.60" font-size="21.5" text-anchor="start" font-weight="normal" >1.20 V</text>
<path d="M1260.70,459.50 H1279.00" stroke="#ff1400" stroke-width="3" stroke-linecap="round"/>
<text x="1289.40" y="465.40" font-size="21.5" text-anchor="start" font-weight="normal" >1.25 V</text>
<path d="M1260.70,481.00 H1279.00" stroke="#dc0000" stroke-width="3" stroke-linecap="round"/>
<text x="1289.40" y="487.50" font-size="21.5" text-anchor="start" font-weight="normal" >1.30 V</text>
<path d="M1260.70,502.50 H1279.00" stroke="#800000" stroke-width="3" stroke-linecap="round"/>
<text x="1289.40" y="509.60" font-size="21.5" text-anchor="start" font-weight="normal" >1.35 V</text>
<path d="M293.06,147.90 V173.30" stroke="#000" stroke-width="1.6"/>
<path d="M287.26,172.30 L298.86,172.30 L293.06,184.30 Z" fill="#000"/>
<path d="M690.40,205.90 V230.90" stroke="#000" stroke-width="1.6"/>
<path d="M684.60,229.90 L696.20,229.90 L690.40,241.90 Z" fill="#000"/>
<path d="M1155.00,220.00 V245.10" stroke="#000" stroke-width="1.6"/>
<path d="M1149.20,244.10 L1160.80,244.10 L1155.00,256.10 Z" fill="#000"/>
<path d="M292.10,474.00 V493.90" stroke="#000" stroke-width="1.6"/>
<path d="M286.30,492.90 L297.90,492.90 L292.10,504.90 Z" fill="#000"/>
<path d="M690.40,547.40 V572.40" stroke="#000" stroke-width="1.6"/>
<path d="M684.60,571.40 L696.20,571.40 L690.40,583.40 Z" fill="#000"/>
<path d="M1155.00,560.90 V585.90" stroke="#000" stroke-width="1.6"/>
<path d="M1149.20,584.90 L1160.80,584.90 L1155.00,596.90 Z" fill="#000"/>
</svg>
</body></html>
